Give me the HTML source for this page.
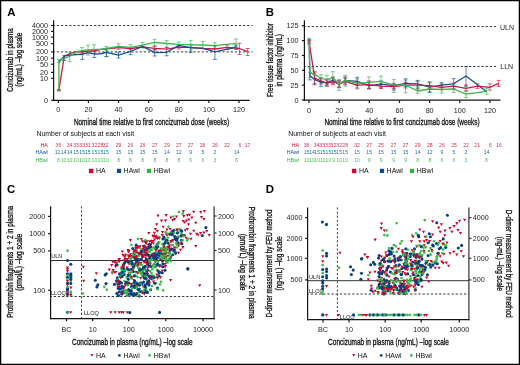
<!DOCTYPE html>
<html><head><meta charset="utf-8"><style>
html,body{margin:0;padding:0;background:#fff;overflow:hidden;width:520px;height:365px;}
svg{display:block;will-change:transform;}
text{font-family:"Liberation Sans",sans-serif;}
</style></head><body>
<svg width="520" height="365" viewBox="0 0 520 365">
<rect width="520" height="365" fill="#fff"/>
<rect x="0.6" y="0.6" width="518.8" height="363.8" fill="none" stroke="#000" stroke-width="1.3"/>
<text x="7.20" y="15.70" font-size="11.4" text-anchor="start" fill="#000" font-weight="bold" >A</text>
<text x="265.80" y="15.70" font-size="11.4" text-anchor="start" fill="#000" font-weight="bold" >B</text>
<text x="7.00" y="193.00" font-size="11.4" text-anchor="start" fill="#000" font-weight="bold" >C</text>
<text x="265.80" y="192.80" font-size="11.4" text-anchor="start" fill="#000" font-weight="bold" >D</text>
<line x1="51.10" y1="25.50" x2="53.60" y2="25.50" stroke="#141414" stroke-width="1.2" />
<text x="48.00" y="28.08" font-size="7.2" text-anchor="end" fill="#1e1e1e" font-weight="normal" >4000</text>
<line x1="51.10" y1="31.40" x2="53.60" y2="31.40" stroke="#141414" stroke-width="1.2" />
<text x="48.00" y="33.98" font-size="7.2" text-anchor="end" fill="#1e1e1e" font-weight="normal" >2000</text>
<line x1="51.10" y1="37.20" x2="53.60" y2="37.20" stroke="#141414" stroke-width="1.2" />
<text x="48.00" y="39.78" font-size="7.2" text-anchor="end" fill="#1e1e1e" font-weight="normal" >1000</text>
<line x1="51.10" y1="43.70" x2="53.60" y2="43.70" stroke="#141414" stroke-width="1.2" />
<text x="48.00" y="46.28" font-size="7.2" text-anchor="end" fill="#1e1e1e" font-weight="normal" >500</text>
<line x1="51.10" y1="51.90" x2="53.60" y2="51.90" stroke="#141414" stroke-width="1.2" />
<text x="48.00" y="54.48" font-size="7.2" text-anchor="end" fill="#1e1e1e" font-weight="normal" >200</text>
<line x1="51.10" y1="58.20" x2="53.60" y2="58.20" stroke="#141414" stroke-width="1.2" />
<text x="48.00" y="60.78" font-size="7.2" text-anchor="end" fill="#1e1e1e" font-weight="normal" >100</text>
<line x1="51.10" y1="64.20" x2="53.60" y2="64.20" stroke="#141414" stroke-width="1.2" />
<text x="48.00" y="66.78" font-size="7.2" text-anchor="end" fill="#1e1e1e" font-weight="normal" >50</text>
<line x1="51.10" y1="72.40" x2="53.60" y2="72.40" stroke="#141414" stroke-width="1.2" />
<text x="48.00" y="74.98" font-size="7.2" text-anchor="end" fill="#1e1e1e" font-weight="normal" >20</text>
<line x1="51.10" y1="78.30" x2="53.60" y2="78.30" stroke="#141414" stroke-width="1.2" />
<text x="48.00" y="80.88" font-size="7.2" text-anchor="end" fill="#1e1e1e" font-weight="normal" >10</text>
<line x1="51.10" y1="100.30" x2="53.60" y2="100.30" stroke="#141414" stroke-width="1.2" />
<text x="48.00" y="102.88" font-size="7.2" text-anchor="end" fill="#1e1e1e" font-weight="normal" >0</text>
<line x1="53.60" y1="25.50" x2="252.70" y2="25.50" stroke="#383838" stroke-width="1.0" stroke-dasharray="2.25 1.89" stroke-dashoffset="0.95"/>
<line x1="53.60" y1="51.90" x2="252.70" y2="51.90" stroke="#383838" stroke-width="1.0" stroke-dasharray="2.25 1.89" stroke-dashoffset="0.95"/>
<line x1="53.60" y1="20.30" x2="53.60" y2="100.90" stroke="#141414" stroke-width="1.2" />
<line x1="53.00" y1="100.30" x2="249.60" y2="100.30" stroke="#141414" stroke-width="1.2" />
<line x1="58.30" y1="100.30" x2="58.30" y2="103.00" stroke="#141414" stroke-width="1.2" />
<text x="58.30" y="112.38" font-size="7.2" text-anchor="middle" fill="#1e1e1e" font-weight="normal" >0</text>
<line x1="88.42" y1="100.30" x2="88.42" y2="103.00" stroke="#141414" stroke-width="1.2" />
<text x="88.42" y="112.38" font-size="7.2" text-anchor="middle" fill="#1e1e1e" font-weight="normal" >20</text>
<line x1="118.54" y1="100.30" x2="118.54" y2="103.00" stroke="#141414" stroke-width="1.2" />
<text x="118.54" y="112.38" font-size="7.2" text-anchor="middle" fill="#1e1e1e" font-weight="normal" >40</text>
<line x1="148.66" y1="100.30" x2="148.66" y2="103.00" stroke="#141414" stroke-width="1.2" />
<text x="148.66" y="112.38" font-size="7.2" text-anchor="middle" fill="#1e1e1e" font-weight="normal" >60</text>
<line x1="178.78" y1="100.30" x2="178.78" y2="103.00" stroke="#141414" stroke-width="1.2" />
<text x="178.78" y="112.38" font-size="7.2" text-anchor="middle" fill="#1e1e1e" font-weight="normal" >80</text>
<line x1="208.90" y1="100.30" x2="208.90" y2="103.00" stroke="#141414" stroke-width="1.2" />
<text x="208.90" y="112.38" font-size="7.2" text-anchor="middle" fill="#1e1e1e" font-weight="normal" >100</text>
<line x1="239.02" y1="100.30" x2="239.02" y2="103.00" stroke="#141414" stroke-width="1.2" />
<text x="239.02" y="112.38" font-size="7.2" text-anchor="middle" fill="#1e1e1e" font-weight="normal" >120</text>
<text x="73.90" y="124.60" font-size="9.67" font-weight="normal" fill="#111" stroke="#111" stroke-width="0.32" text-anchor="start" textLength="155.30" lengthAdjust="spacingAndGlyphs">Nominal time relative to first concizumab dose (weeks)</text>
<text transform="translate(13.10,60.00) rotate(-90)" font-size="8.94" font-weight="normal" fill="#111" stroke="#111" stroke-width="0.32" text-anchor="middle" textLength="63.60" lengthAdjust="spacingAndGlyphs">Concizumab in plasma</text>
<text transform="translate(22.00,59.70) rotate(-90)" font-size="8.94" font-weight="normal" fill="#111" stroke="#111" stroke-width="0.32" text-anchor="middle" textLength="54.20" lengthAdjust="spacingAndGlyphs">(ng/mL) –log scale</text>
<line x1="301.90" y1="25.75" x2="304.40" y2="25.75" stroke="#141414" stroke-width="1.2" />
<text x="298.60" y="28.33" font-size="7.2" text-anchor="end" fill="#1e1e1e" font-weight="normal" >125</text>
<line x1="301.90" y1="40.60" x2="304.40" y2="40.60" stroke="#141414" stroke-width="1.2" />
<text x="298.60" y="43.18" font-size="7.2" text-anchor="end" fill="#1e1e1e" font-weight="normal" >100</text>
<line x1="301.90" y1="55.45" x2="304.40" y2="55.45" stroke="#141414" stroke-width="1.2" />
<text x="298.60" y="58.03" font-size="7.2" text-anchor="end" fill="#1e1e1e" font-weight="normal" >75</text>
<line x1="301.90" y1="70.30" x2="304.40" y2="70.30" stroke="#141414" stroke-width="1.2" />
<text x="298.60" y="72.88" font-size="7.2" text-anchor="end" fill="#1e1e1e" font-weight="normal" >50</text>
<line x1="301.90" y1="85.15" x2="304.40" y2="85.15" stroke="#141414" stroke-width="1.2" />
<text x="298.60" y="87.73" font-size="7.2" text-anchor="end" fill="#1e1e1e" font-weight="normal" >25</text>
<line x1="301.90" y1="100.00" x2="304.40" y2="100.00" stroke="#141414" stroke-width="1.2" />
<text x="298.60" y="102.58" font-size="7.2" text-anchor="end" fill="#1e1e1e" font-weight="normal" >0</text>
<line x1="304.40" y1="26.60" x2="496.00" y2="26.60" stroke="#383838" stroke-width="1.0" stroke-dasharray="2.25 1.89" stroke-dashoffset="0.95"/>
<line x1="304.40" y1="66.50" x2="496.00" y2="66.50" stroke="#383838" stroke-width="1.0" stroke-dasharray="2.25 1.89" stroke-dashoffset="0.95"/>
<text x="500.00" y="29.51" font-size="7.0" text-anchor="start" fill="#1e1e1e" font-weight="normal" >ULN</text>
<text x="500.30" y="68.71" font-size="7.0" text-anchor="start" fill="#1e1e1e" font-weight="normal" >LLN</text>
<line x1="304.40" y1="20.30" x2="304.40" y2="100.80" stroke="#141414" stroke-width="1.2" />
<line x1="303.80" y1="100.20" x2="500.40" y2="100.20" stroke="#141414" stroke-width="1.2" />
<line x1="309.00" y1="100.20" x2="309.00" y2="102.90" stroke="#141414" stroke-width="1.2" />
<text x="309.00" y="112.58" font-size="7.2" text-anchor="middle" fill="#1e1e1e" font-weight="normal" >0</text>
<line x1="339.16" y1="100.20" x2="339.16" y2="102.90" stroke="#141414" stroke-width="1.2" />
<text x="339.16" y="112.58" font-size="7.2" text-anchor="middle" fill="#1e1e1e" font-weight="normal" >20</text>
<line x1="369.32" y1="100.20" x2="369.32" y2="102.90" stroke="#141414" stroke-width="1.2" />
<text x="369.32" y="112.58" font-size="7.2" text-anchor="middle" fill="#1e1e1e" font-weight="normal" >40</text>
<line x1="399.48" y1="100.20" x2="399.48" y2="102.90" stroke="#141414" stroke-width="1.2" />
<text x="399.48" y="112.58" font-size="7.2" text-anchor="middle" fill="#1e1e1e" font-weight="normal" >60</text>
<line x1="429.64" y1="100.20" x2="429.64" y2="102.90" stroke="#141414" stroke-width="1.2" />
<text x="429.64" y="112.58" font-size="7.2" text-anchor="middle" fill="#1e1e1e" font-weight="normal" >80</text>
<line x1="459.80" y1="100.20" x2="459.80" y2="102.90" stroke="#141414" stroke-width="1.2" />
<text x="459.80" y="112.58" font-size="7.2" text-anchor="middle" fill="#1e1e1e" font-weight="normal" >100</text>
<line x1="489.96" y1="100.20" x2="489.96" y2="102.90" stroke="#141414" stroke-width="1.2" />
<text x="489.96" y="112.58" font-size="7.2" text-anchor="middle" fill="#1e1e1e" font-weight="normal" >120</text>
<text x="324.40" y="124.60" font-size="9.67" font-weight="normal" fill="#111" stroke="#111" stroke-width="0.32" text-anchor="start" textLength="155.30" lengthAdjust="spacingAndGlyphs">Nominal time relative to first concizumab dose (weeks)</text>
<text transform="translate(273.10,60.00) rotate(-90)" font-size="8.94" font-weight="normal" fill="#111" stroke="#111" stroke-width="0.32" text-anchor="middle" textLength="74.00" lengthAdjust="spacingAndGlyphs">Free tissue factor inhibitor</text>
<text transform="translate(282.30,60.30) rotate(-90)" font-size="8.94" font-weight="normal" fill="#111" stroke="#111" stroke-width="0.32" text-anchor="middle" textLength="52.60" lengthAdjust="spacingAndGlyphs">in plasma (ng/mL)</text>
<text x="36.50" y="136.30" font-size="6.9" text-anchor="start" fill="#111" font-weight="normal" >Number of subjects at each visit</text>
<text x="288.30" y="136.30" font-size="6.9" text-anchor="start" fill="#111" font-weight="normal" >Number of subjects at each visit</text>
<text x="47.80" y="146.90" font-size="5.3" text-anchor="end" fill="#d0022b" font-weight="normal" >HA</text>
<text x="47.80" y="154.30" font-size="5.3" text-anchor="end" fill="#0b4a8b" font-weight="normal" >HAwl</text>
<text x="47.80" y="161.60" font-size="5.3" text-anchor="end" fill="#2db53c" font-weight="normal" >HBwl</text>
<g opacity="0.85">
<text x="58.40" y="146.83" font-size="5.1" text-anchor="middle" fill="#d0022b" font-weight="normal" >36</text>
<text x="69.60" y="146.83" font-size="5.1" text-anchor="middle" fill="#d0022b" font-weight="normal" >34</text>
<text x="76.00" y="146.83" font-size="5.1" text-anchor="middle" fill="#d0022b" font-weight="normal" >33</text>
<text x="82.20" y="146.83" font-size="5.1" text-anchor="middle" fill="#d0022b" font-weight="normal" >33</text>
<text x="87.80" y="146.83" font-size="5.1" text-anchor="middle" fill="#d0022b" font-weight="normal" >31</text>
<text x="94.40" y="146.83" font-size="5.1" text-anchor="middle" fill="#d0022b" font-weight="normal" >32</text>
<text x="100.40" y="146.83" font-size="5.1" text-anchor="middle" fill="#d0022b" font-weight="normal" >28</text>
<text x="105.70" y="146.83" font-size="5.1" text-anchor="middle" fill="#d0022b" font-weight="normal" >32</text>
<text x="118.60" y="146.83" font-size="5.1" text-anchor="middle" fill="#d0022b" font-weight="normal" >29</text>
<text x="130.40" y="146.83" font-size="5.1" text-anchor="middle" fill="#d0022b" font-weight="normal" >26</text>
<text x="142.60" y="146.83" font-size="5.1" text-anchor="middle" fill="#d0022b" font-weight="normal" >26</text>
<text x="154.80" y="146.83" font-size="5.1" text-anchor="middle" fill="#d0022b" font-weight="normal" >27</text>
<text x="166.90" y="146.83" font-size="5.1" text-anchor="middle" fill="#d0022b" font-weight="normal" >29</text>
<text x="178.80" y="146.83" font-size="5.1" text-anchor="middle" fill="#d0022b" font-weight="normal" >27</text>
<text x="190.60" y="146.83" font-size="5.1" text-anchor="middle" fill="#d0022b" font-weight="normal" >27</text>
<text x="202.60" y="146.83" font-size="5.1" text-anchor="middle" fill="#d0022b" font-weight="normal" >26</text>
<text x="215.00" y="146.83" font-size="5.1" text-anchor="middle" fill="#d0022b" font-weight="normal" >26</text>
<text x="227.00" y="146.83" font-size="5.1" text-anchor="middle" fill="#d0022b" font-weight="normal" >22</text>
<text x="239.80" y="146.83" font-size="5.1" text-anchor="middle" fill="#d0022b" font-weight="normal" >6</text>
<text x="247.60" y="146.83" font-size="5.1" text-anchor="middle" fill="#d0022b" font-weight="normal" >17</text>
</g>
<g opacity="0.85">
<text x="57.60" y="154.23" font-size="5.1" text-anchor="middle" fill="#0b4a8b" font-weight="normal" >12</text>
<text x="63.80" y="154.23" font-size="5.1" text-anchor="middle" fill="#0b4a8b" font-weight="normal" >14</text>
<text x="69.60" y="154.23" font-size="5.1" text-anchor="middle" fill="#0b4a8b" font-weight="normal" >14</text>
<text x="76.00" y="154.23" font-size="5.1" text-anchor="middle" fill="#0b4a8b" font-weight="normal" >15</text>
<text x="82.20" y="154.23" font-size="5.1" text-anchor="middle" fill="#0b4a8b" font-weight="normal" >15</text>
<text x="87.80" y="154.23" font-size="5.1" text-anchor="middle" fill="#0b4a8b" font-weight="normal" >15</text>
<text x="94.40" y="154.23" font-size="5.1" text-anchor="middle" fill="#0b4a8b" font-weight="normal" >15</text>
<text x="100.40" y="154.23" font-size="5.1" text-anchor="middle" fill="#0b4a8b" font-weight="normal" >15</text>
<text x="105.90" y="154.23" font-size="5.1" text-anchor="middle" fill="#0b4a8b" font-weight="normal" >15</text>
<text x="118.60" y="154.23" font-size="5.1" text-anchor="middle" fill="#0b4a8b" font-weight="normal" >15</text>
<text x="130.40" y="154.23" font-size="5.1" text-anchor="middle" fill="#0b4a8b" font-weight="normal" >15</text>
<text x="142.60" y="154.23" font-size="5.1" text-anchor="middle" fill="#0b4a8b" font-weight="normal" >15</text>
<text x="154.80" y="154.23" font-size="5.1" text-anchor="middle" fill="#0b4a8b" font-weight="normal" >15</text>
<text x="166.90" y="154.23" font-size="5.1" text-anchor="middle" fill="#0b4a8b" font-weight="normal" >14</text>
<text x="178.80" y="154.23" font-size="5.1" text-anchor="middle" fill="#0b4a8b" font-weight="normal" >12</text>
<text x="190.60" y="154.23" font-size="5.1" text-anchor="middle" fill="#0b4a8b" font-weight="normal" >9</text>
<text x="202.90" y="154.23" font-size="5.1" text-anchor="middle" fill="#0b4a8b" font-weight="normal" >5</text>
<text x="215.00" y="154.23" font-size="5.1" text-anchor="middle" fill="#0b4a8b" font-weight="normal" >2</text>
<text x="236.80" y="154.23" font-size="5.1" text-anchor="middle" fill="#0b4a8b" font-weight="normal" >14</text>
</g>
<g opacity="0.85">
<text x="58.30" y="161.53" font-size="5.1" text-anchor="middle" fill="#2db53c" font-weight="normal" >8</text>
<text x="63.60" y="161.53" font-size="5.1" text-anchor="middle" fill="#2db53c" font-weight="normal" >10</text>
<text x="69.60" y="161.53" font-size="5.1" text-anchor="middle" fill="#2db53c" font-weight="normal" >10</text>
<text x="76.00" y="161.53" font-size="5.1" text-anchor="middle" fill="#2db53c" font-weight="normal" >10</text>
<text x="82.20" y="161.53" font-size="5.1" text-anchor="middle" fill="#2db53c" font-weight="normal" >10</text>
<text x="87.80" y="161.53" font-size="5.1" text-anchor="middle" fill="#2db53c" font-weight="normal" >10</text>
<text x="94.40" y="161.53" font-size="5.1" text-anchor="middle" fill="#2db53c" font-weight="normal" >10</text>
<text x="100.40" y="161.53" font-size="5.1" text-anchor="middle" fill="#2db53c" font-weight="normal" >10</text>
<text x="105.90" y="161.53" font-size="5.1" text-anchor="middle" fill="#2db53c" font-weight="normal" >10</text>
<text x="118.60" y="161.53" font-size="5.1" text-anchor="middle" fill="#2db53c" font-weight="normal" >8</text>
<text x="130.40" y="161.53" font-size="5.1" text-anchor="middle" fill="#2db53c" font-weight="normal" >8</text>
<text x="142.60" y="161.53" font-size="5.1" text-anchor="middle" fill="#2db53c" font-weight="normal" >8</text>
<text x="154.80" y="161.53" font-size="5.1" text-anchor="middle" fill="#2db53c" font-weight="normal" >8</text>
<text x="166.90" y="161.53" font-size="5.1" text-anchor="middle" fill="#2db53c" font-weight="normal" >8</text>
<text x="178.80" y="161.53" font-size="5.1" text-anchor="middle" fill="#2db53c" font-weight="normal" >8</text>
<text x="190.60" y="161.53" font-size="5.1" text-anchor="middle" fill="#2db53c" font-weight="normal" >6</text>
<text x="203.00" y="161.53" font-size="5.1" text-anchor="middle" fill="#2db53c" font-weight="normal" >6</text>
<text x="215.00" y="161.53" font-size="5.1" text-anchor="middle" fill="#2db53c" font-weight="normal" >3</text>
<text x="236.40" y="161.53" font-size="5.1" text-anchor="middle" fill="#2db53c" font-weight="normal" >8</text>
</g>
<text x="299.00" y="147.10" font-size="5.3" text-anchor="end" fill="#d0022b" font-weight="normal" >HA</text>
<text x="299.00" y="154.30" font-size="5.3" text-anchor="end" fill="#0b4a8b" font-weight="normal" >HAwl</text>
<text x="299.00" y="161.60" font-size="5.3" text-anchor="end" fill="#2db53c" font-weight="normal" >HBwl</text>
<g opacity="0.85">
<text x="306.60" y="147.03" font-size="5.1" text-anchor="middle" fill="#d0022b" font-weight="normal" >36</text>
<text x="316.70" y="147.03" font-size="5.1" text-anchor="middle" fill="#d0022b" font-weight="normal" >34</text>
<text x="322.20" y="147.03" font-size="5.1" text-anchor="middle" fill="#d0022b" font-weight="normal" >33</text>
<text x="327.90" y="147.03" font-size="5.1" text-anchor="middle" fill="#d0022b" font-weight="normal" >33</text>
<text x="333.40" y="147.03" font-size="5.1" text-anchor="middle" fill="#d0022b" font-weight="normal" >32</text>
<text x="339.20" y="147.03" font-size="5.1" text-anchor="middle" fill="#d0022b" font-weight="normal" >32</text>
<text x="345.20" y="147.03" font-size="5.1" text-anchor="middle" fill="#d0022b" font-weight="normal" >28</text>
<text x="357.10" y="147.03" font-size="5.1" text-anchor="middle" fill="#d0022b" font-weight="normal" >32</text>
<text x="369.20" y="147.03" font-size="5.1" text-anchor="middle" fill="#d0022b" font-weight="normal" >27</text>
<text x="381.10" y="147.03" font-size="5.1" text-anchor="middle" fill="#d0022b" font-weight="normal" >25</text>
<text x="393.60" y="147.03" font-size="5.1" text-anchor="middle" fill="#d0022b" font-weight="normal" >27</text>
<text x="405.60" y="147.03" font-size="5.1" text-anchor="middle" fill="#d0022b" font-weight="normal" >27</text>
<text x="417.70" y="147.03" font-size="5.1" text-anchor="middle" fill="#d0022b" font-weight="normal" >29</text>
<text x="429.80" y="147.03" font-size="5.1" text-anchor="middle" fill="#d0022b" font-weight="normal" >28</text>
<text x="441.90" y="147.03" font-size="5.1" text-anchor="middle" fill="#d0022b" font-weight="normal" >26</text>
<text x="454.00" y="147.03" font-size="5.1" text-anchor="middle" fill="#d0022b" font-weight="normal" >25</text>
<text x="466.00" y="147.03" font-size="5.1" text-anchor="middle" fill="#d0022b" font-weight="normal" >22</text>
<text x="477.20" y="147.03" font-size="5.1" text-anchor="middle" fill="#d0022b" font-weight="normal" >21</text>
<text x="490.30" y="147.03" font-size="5.1" text-anchor="middle" fill="#d0022b" font-weight="normal" >6</text>
<text x="499.10" y="147.03" font-size="5.1" text-anchor="middle" fill="#d0022b" font-weight="normal" >16</text>
</g>
<g opacity="0.85">
<text x="306.60" y="154.23" font-size="5.1" text-anchor="middle" fill="#0b4a8b" font-weight="normal" >15</text>
<text x="312.00" y="154.23" font-size="5.1" text-anchor="middle" fill="#0b4a8b" font-weight="normal" >14</text>
<text x="317.20" y="154.23" font-size="5.1" text-anchor="middle" fill="#0b4a8b" font-weight="normal" >15</text>
<text x="322.80" y="154.23" font-size="5.1" text-anchor="middle" fill="#0b4a8b" font-weight="normal" >15</text>
<text x="328.40" y="154.23" font-size="5.1" text-anchor="middle" fill="#0b4a8b" font-weight="normal" >15</text>
<text x="333.80" y="154.23" font-size="5.1" text-anchor="middle" fill="#0b4a8b" font-weight="normal" >15</text>
<text x="339.20" y="154.23" font-size="5.1" text-anchor="middle" fill="#0b4a8b" font-weight="normal" >15</text>
<text x="345.20" y="154.23" font-size="5.1" text-anchor="middle" fill="#0b4a8b" font-weight="normal" >15</text>
<text x="357.10" y="154.23" font-size="5.1" text-anchor="middle" fill="#0b4a8b" font-weight="normal" >15</text>
<text x="369.20" y="154.23" font-size="5.1" text-anchor="middle" fill="#0b4a8b" font-weight="normal" >15</text>
<text x="381.10" y="154.23" font-size="5.1" text-anchor="middle" fill="#0b4a8b" font-weight="normal" >15</text>
<text x="393.60" y="154.23" font-size="5.1" text-anchor="middle" fill="#0b4a8b" font-weight="normal" >15</text>
<text x="405.60" y="154.23" font-size="5.1" text-anchor="middle" fill="#0b4a8b" font-weight="normal" >15</text>
<text x="417.70" y="154.23" font-size="5.1" text-anchor="middle" fill="#0b4a8b" font-weight="normal" >14</text>
<text x="429.80" y="154.23" font-size="5.1" text-anchor="middle" fill="#0b4a8b" font-weight="normal" >12</text>
<text x="441.90" y="154.23" font-size="5.1" text-anchor="middle" fill="#0b4a8b" font-weight="normal" >9</text>
<text x="454.00" y="154.23" font-size="5.1" text-anchor="middle" fill="#0b4a8b" font-weight="normal" >5</text>
<text x="466.00" y="154.23" font-size="5.1" text-anchor="middle" fill="#0b4a8b" font-weight="normal" >2</text>
<text x="486.70" y="154.23" font-size="5.1" text-anchor="middle" fill="#0b4a8b" font-weight="normal" >14</text>
</g>
<g opacity="0.85">
<text x="306.60" y="161.53" font-size="5.1" text-anchor="middle" fill="#2db53c" font-weight="normal" >10</text>
<text x="312.00" y="161.53" font-size="5.1" text-anchor="middle" fill="#2db53c" font-weight="normal" >10</text>
<text x="317.20" y="161.53" font-size="5.1" text-anchor="middle" fill="#2db53c" font-weight="normal" >10</text>
<text x="322.80" y="161.53" font-size="5.1" text-anchor="middle" fill="#2db53c" font-weight="normal" >10</text>
<text x="328.40" y="161.53" font-size="5.1" text-anchor="middle" fill="#2db53c" font-weight="normal" >10</text>
<text x="333.60" y="161.53" font-size="5.1" text-anchor="middle" fill="#2db53c" font-weight="normal" >9</text>
<text x="339.20" y="161.53" font-size="5.1" text-anchor="middle" fill="#2db53c" font-weight="normal" >10</text>
<text x="345.20" y="161.53" font-size="5.1" text-anchor="middle" fill="#2db53c" font-weight="normal" >10</text>
<text x="357.10" y="161.53" font-size="5.1" text-anchor="middle" fill="#2db53c" font-weight="normal" >10</text>
<text x="369.20" y="161.53" font-size="5.1" text-anchor="middle" fill="#2db53c" font-weight="normal" >9</text>
<text x="381.10" y="161.53" font-size="5.1" text-anchor="middle" fill="#2db53c" font-weight="normal" >9</text>
<text x="393.60" y="161.53" font-size="5.1" text-anchor="middle" fill="#2db53c" font-weight="normal" >9</text>
<text x="405.60" y="161.53" font-size="5.1" text-anchor="middle" fill="#2db53c" font-weight="normal" >9</text>
<text x="417.70" y="161.53" font-size="5.1" text-anchor="middle" fill="#2db53c" font-weight="normal" >8</text>
<text x="429.80" y="161.53" font-size="5.1" text-anchor="middle" fill="#2db53c" font-weight="normal" >8</text>
<text x="441.90" y="161.53" font-size="5.1" text-anchor="middle" fill="#2db53c" font-weight="normal" >6</text>
<text x="454.00" y="161.53" font-size="5.1" text-anchor="middle" fill="#2db53c" font-weight="normal" >6</text>
<text x="466.00" y="161.53" font-size="5.1" text-anchor="middle" fill="#2db53c" font-weight="normal" >3</text>
<text x="486.40" y="161.53" font-size="5.1" text-anchor="middle" fill="#2db53c" font-weight="normal" >8</text>
</g>
<rect x="88.90" y="168.8" width="4.4" height="4.4" fill="#d0022b"/>
<text x="96.00" y="173.30" font-size="7.0" text-anchor="start" fill="#111" font-weight="normal" >HA</text>
<rect x="116.90" y="168.8" width="4.2" height="4.2" fill="#0b4a8b"/>
<text x="123.60" y="173.30" font-size="7.0" text-anchor="start" fill="#111" font-weight="normal" >HAwl</text>
<rect x="146.90" y="168.8" width="4.2" height="4.2" fill="#2db53c"/>
<text x="153.80" y="173.30" font-size="7.0" text-anchor="start" fill="#111" font-weight="normal" >HBwl</text>
<rect x="351.90" y="168.8" width="4.4" height="4.4" fill="#d0022b"/>
<text x="359.00" y="173.30" font-size="7.0" text-anchor="start" fill="#111" font-weight="normal" >HA</text>
<rect x="379.90" y="168.8" width="4.2" height="4.2" fill="#0b4a8b"/>
<text x="386.60" y="173.30" font-size="7.0" text-anchor="start" fill="#111" font-weight="normal" >HAwl</text>
<rect x="409.90" y="168.8" width="4.2" height="4.2" fill="#2db53c"/>
<text x="416.80" y="173.30" font-size="7.0" text-anchor="start" fill="#111" font-weight="normal" >HBwl</text>
<line x1="48.10" y1="216.40" x2="50.60" y2="216.40" stroke="#141414" stroke-width="1.2" />
<text x="45.30" y="218.98" font-size="7.2" text-anchor="end" fill="#1e1e1e" font-weight="normal" >2000</text>
<line x1="48.10" y1="233.60" x2="50.60" y2="233.60" stroke="#141414" stroke-width="1.2" />
<text x="45.30" y="236.18" font-size="7.2" text-anchor="end" fill="#1e1e1e" font-weight="normal" >1000</text>
<line x1="48.10" y1="250.90" x2="50.60" y2="250.90" stroke="#141414" stroke-width="1.2" />
<text x="45.30" y="253.48" font-size="7.2" text-anchor="end" fill="#1e1e1e" font-weight="normal" >500</text>
<line x1="48.10" y1="290.30" x2="50.60" y2="290.30" stroke="#141414" stroke-width="1.2" />
<text x="45.30" y="292.88" font-size="7.2" text-anchor="end" fill="#1e1e1e" font-weight="normal" >100</text>
<line x1="214.10" y1="216.00" x2="216.60" y2="216.00" stroke="#333" stroke-width="1.2" />
<text x="218.00" y="218.58" font-size="7.2" text-anchor="start" fill="#1e1e1e" font-weight="normal" >2000</text>
<line x1="214.10" y1="233.00" x2="216.60" y2="233.00" stroke="#333" stroke-width="1.2" />
<text x="218.00" y="235.58" font-size="7.2" text-anchor="start" fill="#1e1e1e" font-weight="normal" >1000</text>
<line x1="214.10" y1="250.50" x2="216.60" y2="250.50" stroke="#333" stroke-width="1.2" />
<text x="218.00" y="253.08" font-size="7.2" text-anchor="start" fill="#1e1e1e" font-weight="normal" >500</text>
<line x1="214.10" y1="290.00" x2="216.60" y2="290.00" stroke="#333" stroke-width="1.2" />
<text x="218.00" y="292.58" font-size="7.2" text-anchor="start" fill="#1e1e1e" font-weight="normal" >100</text>
<line x1="50.60" y1="260.50" x2="214.10" y2="260.50" stroke="#333" stroke-width="1.0" />
<line x1="50.60" y1="296.50" x2="214.10" y2="296.50" stroke="#383838" stroke-width="1.0" stroke-dasharray="2.25 1.89" stroke-dashoffset="0.95"/>
<line x1="81.50" y1="206.20" x2="81.50" y2="318.60" stroke="#383838" stroke-width="0.95" stroke-dasharray="2.2 1.9"/>
<text x="51.20" y="257.60" font-size="5.6" text-anchor="start" fill="#222" font-weight="normal" >ULN</text>
<text x="51.00" y="295.00" font-size="5.6" text-anchor="start" fill="#222" font-weight="normal" >LLOQ</text>
<text x="84.00" y="314.60" font-size="5.6" text-anchor="start" fill="#222" font-weight="normal" >LLOQ</text>
<line x1="50.60" y1="206.20" x2="50.60" y2="319.20" stroke="#141414" stroke-width="1.2" />
<line x1="214.10" y1="206.20" x2="214.10" y2="319.20" stroke="#333" stroke-width="1.2" />
<line x1="50.00" y1="318.60" x2="214.70" y2="318.60" stroke="#141414" stroke-width="1.2" />
<line x1="66.50" y1="318.60" x2="66.50" y2="321.30" stroke="#141414" stroke-width="1.2" />
<text x="66.50" y="331.78" font-size="7.2" text-anchor="middle" fill="#1e1e1e" font-weight="normal" >BC</text>
<line x1="92.70" y1="318.60" x2="92.70" y2="321.30" stroke="#141414" stroke-width="1.2" />
<text x="92.70" y="331.78" font-size="7.2" text-anchor="middle" fill="#1e1e1e" font-weight="normal" >10</text>
<line x1="128.70" y1="318.60" x2="128.70" y2="321.30" stroke="#141414" stroke-width="1.2" />
<text x="128.70" y="331.78" font-size="7.2" text-anchor="middle" fill="#1e1e1e" font-weight="normal" >100</text>
<line x1="165.80" y1="318.60" x2="165.80" y2="321.30" stroke="#141414" stroke-width="1.2" />
<text x="165.80" y="331.78" font-size="7.2" text-anchor="middle" fill="#1e1e1e" font-weight="normal" >1000</text>
<line x1="203.10" y1="318.60" x2="203.10" y2="321.30" stroke="#141414" stroke-width="1.2" />
<text x="203.10" y="331.78" font-size="7.2" text-anchor="middle" fill="#1e1e1e" font-weight="normal" >10000</text>
<text x="72.10" y="344.50" font-size="9.15" font-weight="normal" fill="#111" stroke="#111" stroke-width="0.32" text-anchor="start" textLength="120.50" lengthAdjust="spacingAndGlyphs">Concizumab in plasma (ng/mL) –log scale</text>
<text transform="translate(13.00,261.80) rotate(-90)" font-size="8.94" font-weight="normal" fill="#111" stroke="#111" stroke-width="0.32" text-anchor="middle" textLength="111.90" lengthAdjust="spacingAndGlyphs">Prothrombin fragments 1 + 2 in plasma</text>
<text transform="translate(22.30,262.20) rotate(-90)" font-size="8.94" font-weight="normal" fill="#111" stroke="#111" stroke-width="0.32" text-anchor="middle" textLength="57.00" lengthAdjust="spacingAndGlyphs">(pmol/L) –log scale</text>
<text transform="translate(249.30,262.70) rotate(90)" font-size="8.94" font-weight="normal" fill="#111" stroke="#111" stroke-width="0.32" text-anchor="middle" textLength="111.70" lengthAdjust="spacingAndGlyphs">Prothrombin fragments 1 + 2 in plasma</text>
<text transform="translate(240.30,262.20) rotate(90)" font-size="8.94" font-weight="normal" fill="#111" stroke="#111" stroke-width="0.32" text-anchor="middle" textLength="56.80" lengthAdjust="spacingAndGlyphs">(pmol/L) –log scale</text>
<line x1="305.10" y1="217.60" x2="307.60" y2="217.60" stroke="#141414" stroke-width="1.2" />
<text x="302.60" y="220.18" font-size="7.2" text-anchor="end" fill="#1e1e1e" font-weight="normal" >4000</text>
<line x1="468.90" y1="217.60" x2="471.40" y2="217.60" stroke="#333" stroke-width="1.2" />
<text x="472.80" y="220.18" font-size="7.2" text-anchor="start" fill="#1e1e1e" font-weight="normal" >4000</text>
<line x1="305.10" y1="238.40" x2="307.60" y2="238.40" stroke="#141414" stroke-width="1.2" />
<text x="302.60" y="240.98" font-size="7.2" text-anchor="end" fill="#1e1e1e" font-weight="normal" >2000</text>
<line x1="468.90" y1="238.40" x2="471.40" y2="238.40" stroke="#333" stroke-width="1.2" />
<text x="472.80" y="240.98" font-size="7.2" text-anchor="start" fill="#1e1e1e" font-weight="normal" >2000</text>
<line x1="305.10" y1="258.30" x2="307.60" y2="258.30" stroke="#141414" stroke-width="1.2" />
<text x="302.60" y="260.88" font-size="7.2" text-anchor="end" fill="#1e1e1e" font-weight="normal" >1000</text>
<line x1="468.90" y1="258.30" x2="471.40" y2="258.30" stroke="#333" stroke-width="1.2" />
<text x="472.80" y="260.88" font-size="7.2" text-anchor="start" fill="#1e1e1e" font-weight="normal" >1000</text>
<line x1="305.10" y1="279.90" x2="307.60" y2="279.90" stroke="#141414" stroke-width="1.2" />
<text x="302.60" y="282.48" font-size="7.2" text-anchor="end" fill="#1e1e1e" font-weight="normal" >500</text>
<line x1="468.90" y1="279.90" x2="471.40" y2="279.90" stroke="#333" stroke-width="1.2" />
<text x="472.80" y="282.48" font-size="7.2" text-anchor="start" fill="#1e1e1e" font-weight="normal" >500</text>
<line x1="307.60" y1="280.70" x2="468.90" y2="280.70" stroke="#333" stroke-width="1.0" />
<line x1="307.60" y1="294.00" x2="468.90" y2="294.00" stroke="#383838" stroke-width="1.0" stroke-dasharray="2.25 1.89" stroke-dashoffset="0.95"/>
<line x1="337.40" y1="207.40" x2="337.40" y2="319.70" stroke="#383838" stroke-width="0.95" stroke-dasharray="2.2 1.9"/>
<text x="309.00" y="279.30" font-size="5.6" text-anchor="start" fill="#222" font-weight="normal" >ULN</text>
<text x="309.00" y="293.10" font-size="5.6" text-anchor="start" fill="#222" font-weight="normal" >LLOQ</text>
<text x="339.80" y="318.70" font-size="5.6" text-anchor="start" fill="#222" font-weight="normal" >LLOQ</text>
<line x1="307.60" y1="207.40" x2="307.60" y2="320.30" stroke="#141414" stroke-width="1.2" />
<line x1="468.90" y1="207.40" x2="468.90" y2="320.30" stroke="#333" stroke-width="1.2" />
<line x1="307.00" y1="319.70" x2="469.50" y2="319.70" stroke="#141414" stroke-width="1.2" />
<line x1="323.00" y1="319.70" x2="323.00" y2="322.40" stroke="#141414" stroke-width="1.2" />
<text x="323.00" y="331.78" font-size="7.2" text-anchor="middle" fill="#1e1e1e" font-weight="normal" >BC</text>
<line x1="349.00" y1="319.70" x2="349.00" y2="322.40" stroke="#141414" stroke-width="1.2" />
<text x="349.00" y="331.78" font-size="7.2" text-anchor="middle" fill="#1e1e1e" font-weight="normal" >10</text>
<line x1="385.20" y1="319.70" x2="385.20" y2="322.40" stroke="#141414" stroke-width="1.2" />
<text x="385.20" y="331.78" font-size="7.2" text-anchor="middle" fill="#1e1e1e" font-weight="normal" >100</text>
<line x1="421.20" y1="319.70" x2="421.20" y2="322.40" stroke="#141414" stroke-width="1.2" />
<text x="421.20" y="331.78" font-size="7.2" text-anchor="middle" fill="#1e1e1e" font-weight="normal" >1000</text>
<line x1="459.30" y1="319.70" x2="459.30" y2="322.40" stroke="#141414" stroke-width="1.2" />
<text x="459.30" y="331.78" font-size="7.2" text-anchor="middle" fill="#1e1e1e" font-weight="normal" >10000</text>
<text x="328.10" y="344.50" font-size="9.15" font-weight="normal" fill="#111" stroke="#111" stroke-width="0.32" text-anchor="start" textLength="120.70" lengthAdjust="spacingAndGlyphs">Concizumab in plasma (ng/mL) –log scale</text>
<text transform="translate(272.30,263.50) rotate(-90)" font-size="8.94" font-weight="normal" fill="#111" stroke="#111" stroke-width="0.32" text-anchor="middle" textLength="108.10" lengthAdjust="spacingAndGlyphs">D-dimer measurement by FEU method</text>
<text transform="translate(281.70,263.50) rotate(-90)" font-size="8.94" font-weight="normal" fill="#111" stroke="#111" stroke-width="0.32" text-anchor="middle" textLength="54.00" lengthAdjust="spacingAndGlyphs">(ng-mL) –log scale</text>
<text transform="translate(506.40,263.60) rotate(90)" font-size="8.94" font-weight="normal" fill="#111" stroke="#111" stroke-width="0.32" text-anchor="middle" textLength="107.60" lengthAdjust="spacingAndGlyphs">D-dimer measurement by FEU method</text>
<text transform="translate(497.40,263.80) rotate(90)" font-size="8.94" font-weight="normal" fill="#111" stroke="#111" stroke-width="0.32" text-anchor="middle" textLength="54.20" lengthAdjust="spacingAndGlyphs">(ng-mL) –log scale</text>
<path d="M90.40,354.10 L93.40,354.10 L91.90,356.80 Z" fill="#d0022b"/>
<text x="96.00" y="357.80" font-size="7.0" text-anchor="start" fill="#111" font-weight="normal" >HA</text>
<circle cx="119.40" cy="355.40" r="1.4" fill="#0b4a8b"/>
<text x="123.50" y="357.80" font-size="7.0" text-anchor="start" fill="#111" font-weight="normal" >HAwl</text>
<path d="M148.20,355.30h2.80M149.60,353.90v2.80M148.62,354.32l1.96,1.96M150.58,354.32l-1.96,1.96" stroke="#2db53c" stroke-width="0.9"/>
<text x="153.70" y="357.80" font-size="7.0" text-anchor="start" fill="#111" font-weight="normal" >HBwl</text>
<path d="M352.20,354.10 L355.20,354.10 L353.70,356.80 Z" fill="#d0022b"/>
<text x="357.80" y="357.80" font-size="7.0" text-anchor="start" fill="#111" font-weight="normal" >HA</text>
<circle cx="381.20" cy="355.40" r="1.4" fill="#0b4a8b"/>
<text x="385.30" y="357.80" font-size="7.0" text-anchor="start" fill="#111" font-weight="normal" >HAwl</text>
<path d="M410.00,355.30h2.80M411.40,353.90v2.80M410.42,354.32l1.96,1.96M412.38,354.32l-1.96,1.96" stroke="#2db53c" stroke-width="0.9"/>
<text x="415.50" y="357.80" font-size="7.0" text-anchor="start" fill="#111" font-weight="normal" >HBwl</text>
<path d="M58.90,89.40V91.00M56.90,89.40h4.0M56.90,91.00h4.0" stroke="#3cb54a" stroke-width="0.8" fill="none" opacity="0.85"/>
<path d="M58.90,59.50V62.30M56.90,59.50h4.0M56.90,62.30h4.0" stroke="#3cb54a" stroke-width="0.8" fill="none" opacity="0.85"/>
<path d="M69.60,52.30V61.60M67.60,52.30h4.0M67.60,61.60h4.0" stroke="#3cb54a" stroke-width="0.8" fill="none" opacity="0.85"/>
<path d="M82.00,47.60V53.50M80.00,47.60h4.0M80.00,53.50h4.0" stroke="#3cb54a" stroke-width="0.8" fill="none" opacity="0.85"/>
<path d="M88.00,45.20V55.10M86.00,45.20h4.0M86.00,55.10h4.0" stroke="#3cb54a" stroke-width="0.8" fill="none" opacity="0.85"/>
<path d="M94.10,44.80V53.50M92.10,44.80h4.0M92.10,53.50h4.0" stroke="#3cb54a" stroke-width="0.8" fill="none" opacity="0.85"/>
<path d="M106.20,46.50V56.60M104.20,46.50h4.0M104.20,56.60h4.0" stroke="#3cb54a" stroke-width="0.8" fill="none" opacity="0.85"/>
<path d="M118.50,43.80V49.50M116.50,43.80h4.0M116.50,49.50h4.0" stroke="#3cb54a" stroke-width="0.8" fill="none" opacity="0.85"/>
<path d="M130.60,44.60V50.00M128.60,44.60h4.0M128.60,50.00h4.0" stroke="#3cb54a" stroke-width="0.8" fill="none" opacity="0.85"/>
<path d="M142.60,42.50V48.00M140.60,42.50h4.0M140.60,48.00h4.0" stroke="#3cb54a" stroke-width="0.8" fill="none" opacity="0.85"/>
<path d="M154.50,39.30V45.90M152.50,39.30h4.0M152.50,45.90h4.0" stroke="#3cb54a" stroke-width="0.8" fill="none" opacity="0.85"/>
<path d="M166.80,40.60V47.30M164.80,40.60h4.0M164.80,47.30h4.0" stroke="#3cb54a" stroke-width="0.8" fill="none" opacity="0.85"/>
<path d="M178.80,42.00V47.00M176.80,42.00h4.0M176.80,47.00h4.0" stroke="#3cb54a" stroke-width="0.8" fill="none" opacity="0.85"/>
<path d="M190.80,40.40V50.20M188.80,40.40h4.0M188.80,50.20h4.0" stroke="#3cb54a" stroke-width="0.8" fill="none" opacity="0.85"/>
<path d="M202.80,41.50V48.50M200.80,41.50h4.0M200.80,48.50h4.0" stroke="#3cb54a" stroke-width="0.8" fill="none" opacity="0.85"/>
<path d="M214.80,42.70V48.50M212.80,42.70h4.0M212.80,48.50h4.0" stroke="#3cb54a" stroke-width="0.8" fill="none" opacity="0.85"/>
<path d="M236.10,39.00V47.00M234.10,39.00h4.0M234.10,47.00h4.0" stroke="#3cb54a" stroke-width="0.8" fill="none" opacity="0.85"/>
<path d="M64.30,55.40V60.50M62.30,55.40h4.0M62.30,60.50h4.0" stroke="#1a4f8f" stroke-width="0.8" fill="none" opacity="0.85"/>
<path d="M82.40,51.00V59.40M80.40,51.00h4.0M80.40,59.40h4.0" stroke="#1a4f8f" stroke-width="0.8" fill="none" opacity="0.85"/>
<path d="M94.40,51.00V57.50M92.40,51.00h4.0M92.40,57.50h4.0" stroke="#1a4f8f" stroke-width="0.8" fill="none" opacity="0.85"/>
<path d="M106.50,50.00V56.60M104.50,50.00h4.0M104.50,56.60h4.0" stroke="#1a4f8f" stroke-width="0.8" fill="none" opacity="0.85"/>
<path d="M118.50,52.00V58.00M116.50,52.00h4.0M116.50,58.00h4.0" stroke="#1a4f8f" stroke-width="0.8" fill="none" opacity="0.85"/>
<path d="M130.60,49.00V54.70M128.60,49.00h4.0M128.60,54.70h4.0" stroke="#1a4f8f" stroke-width="0.8" fill="none" opacity="0.85"/>
<path d="M154.70,49.70V56.00M152.70,49.70h4.0M152.70,56.00h4.0" stroke="#1a4f8f" stroke-width="0.8" fill="none" opacity="0.85"/>
<path d="M166.70,47.30V55.80M164.70,47.30h4.0M164.70,55.80h4.0" stroke="#1a4f8f" stroke-width="0.8" fill="none" opacity="0.85"/>
<path d="M190.80,44.40V52.60M188.80,44.40h4.0M188.80,52.60h4.0" stroke="#1a4f8f" stroke-width="0.8" fill="none" opacity="0.85"/>
<path d="M214.90,46.10V59.40M212.90,46.10h4.0M212.90,59.40h4.0" stroke="#1a4f8f" stroke-width="0.8" fill="none" opacity="0.85"/>
<path d="M236.10,45.00V49.50M234.10,45.00h4.0M234.10,49.50h4.0" stroke="#1a4f8f" stroke-width="0.8" fill="none" opacity="0.85"/>
<path d="M58.90,89.60V90.80M56.90,89.60h4.0M56.90,90.80h4.0" stroke="#d2163f" stroke-width="0.8" fill="none" opacity="0.85"/>
<path d="M227.00,45.00V49.50M225.00,45.00h4.0M225.00,49.50h4.0" stroke="#d2163f" stroke-width="0.8" fill="none" opacity="0.85"/>
<path d="M239.40,43.30V54.50M237.40,43.30h4.0M237.40,54.50h4.0" stroke="#d2163f" stroke-width="0.8" fill="none" opacity="0.85"/>
<path d="M247.70,48.50V55.60M245.70,48.50h4.0M245.70,55.60h4.0" stroke="#d2163f" stroke-width="0.8" fill="none" opacity="0.85"/>
<path d="M178.80,45.50V49.00M176.80,45.50h4.0M176.80,49.00h4.0" stroke="#d2163f" stroke-width="0.8" fill="none" opacity="0.85"/>
<path d="M154.70,46.50V50.00M152.70,46.50h4.0M152.70,50.00h4.0" stroke="#d2163f" stroke-width="0.8" fill="none" opacity="0.85"/>
<path d="M58.90,90.20 L64.30,56.00 L70.30,53.50 L76.40,51.50 L82.40,52.00 L88.40,51.00 L94.40,51.00 L100.50,49.40 L106.50,48.80 L118.50,47.50 L130.60,48.50 L142.60,47.00 L154.70,48.30 L166.70,49.20 L178.80,47.10 L190.80,47.30 L202.90,48.50 L214.90,49.00 L227.00,47.30 L239.40,48.50 L247.70,51.70" fill="none" stroke="#d2163f" stroke-width="1.3" stroke-linejoin="round"/>
<path d="M58.90,62.00 L64.30,56.20 L70.30,55.00 L76.40,54.50 L82.40,54.40 L88.40,52.70 L94.40,54.10 L100.50,53.75 L106.50,52.40 L118.50,55.20 L130.60,51.50 L142.60,46.30 L154.70,52.60 L166.70,52.30 L178.80,45.40 L190.80,47.80 L202.90,48.20 L214.90,51.90 L236.10,47.10" fill="none" stroke="#1a4f8f" stroke-width="1.3" stroke-linejoin="round"/>
<path d="M58.90,90.20 L58.90,60.20 L69.60,56.50 L76.30,52.00 L81.80,50.70 L87.90,49.80 L94.10,49.30 L100.40,49.40 L106.20,48.50 L118.50,46.50 L130.60,47.30 L142.60,45.10 L154.50,42.30 L166.80,43.50 L178.80,44.40 L190.80,44.90 L202.80,45.00 L214.80,45.60 L236.10,43.30" fill="none" stroke="#3cb54a" stroke-width="1.3" stroke-linejoin="round"/>
<path d="M309.20,38.20V44.00M307.20,38.20h4.0M307.20,44.00h4.0" stroke="#3cb54a" stroke-width="0.8" fill="none" opacity="0.85"/>
<path d="M309.80,67.90V77.50M307.80,67.90h4.0M307.80,77.50h4.0" stroke="#3cb54a" stroke-width="0.8" fill="none" opacity="0.85"/>
<path d="M314.60,71.30V79.90M312.60,71.30h4.0M312.60,79.90h4.0" stroke="#3cb54a" stroke-width="0.8" fill="none" opacity="0.85"/>
<path d="M320.90,74.60V81.40M318.90,74.60h4.0M318.90,81.40h4.0" stroke="#3cb54a" stroke-width="0.8" fill="none" opacity="0.85"/>
<path d="M326.90,75.10V86.30M324.90,75.10h4.0M324.90,86.30h4.0" stroke="#3cb54a" stroke-width="0.8" fill="none" opacity="0.85"/>
<path d="M332.90,71.70V83.30M330.90,71.70h4.0M330.90,83.30h4.0" stroke="#3cb54a" stroke-width="0.8" fill="none" opacity="0.85"/>
<path d="M339.10,79.40V90.50M337.10,79.40h4.0M337.10,90.50h4.0" stroke="#3cb54a" stroke-width="0.8" fill="none" opacity="0.85"/>
<path d="M345.20,75.40V86.20M343.20,75.40h4.0M343.20,86.20h4.0" stroke="#3cb54a" stroke-width="0.8" fill="none" opacity="0.85"/>
<path d="M357.20,78.90V89.00M355.20,78.90h4.0M355.20,89.00h4.0" stroke="#3cb54a" stroke-width="0.8" fill="none" opacity="0.85"/>
<path d="M369.00,77.00V88.10M367.00,77.00h4.0M367.00,88.10h4.0" stroke="#3cb54a" stroke-width="0.8" fill="none" opacity="0.85"/>
<path d="M381.00,76.10V88.00M379.00,76.10h4.0M379.00,88.00h4.0" stroke="#3cb54a" stroke-width="0.8" fill="none" opacity="0.85"/>
<path d="M393.80,79.40V92.40M391.80,79.40h4.0M391.80,92.40h4.0" stroke="#3cb54a" stroke-width="0.8" fill="none" opacity="0.85"/>
<path d="M405.60,78.50V92.90M403.60,78.50h4.0M403.60,92.90h4.0" stroke="#3cb54a" stroke-width="0.8" fill="none" opacity="0.85"/>
<path d="M417.60,88.60V93.40M415.60,88.60h4.0M415.60,93.40h4.0" stroke="#3cb54a" stroke-width="0.8" fill="none" opacity="0.85"/>
<path d="M429.60,86.00V92.00M427.60,86.00h4.0M427.60,92.00h4.0" stroke="#3cb54a" stroke-width="0.8" fill="none" opacity="0.85"/>
<path d="M441.70,86.00V93.00M439.70,86.00h4.0M439.70,93.00h4.0" stroke="#3cb54a" stroke-width="0.8" fill="none" opacity="0.85"/>
<path d="M453.60,86.00V92.50M451.60,86.00h4.0M451.60,92.50h4.0" stroke="#3cb54a" stroke-width="0.8" fill="none" opacity="0.85"/>
<path d="M466.00,90.80V97.60M464.00,90.80h4.0M464.00,97.60h4.0" stroke="#3cb54a" stroke-width="0.8" fill="none" opacity="0.85"/>
<path d="M486.70,88.40V94.20M484.70,88.40h4.0M484.70,94.20h4.0" stroke="#3cb54a" stroke-width="0.8" fill="none" opacity="0.85"/>
<path d="M309.20,39.40V43.10M307.20,39.40h4.0M307.20,43.10h4.0" stroke="#1a4f8f" stroke-width="0.8" fill="none" opacity="0.85"/>
<path d="M309.80,72.20V79.90M307.80,72.20h4.0M307.80,79.90h4.0" stroke="#1a4f8f" stroke-width="0.8" fill="none" opacity="0.85"/>
<path d="M314.60,74.00V84.70M312.60,74.00h4.0M312.60,84.70h4.0" stroke="#1a4f8f" stroke-width="0.8" fill="none" opacity="0.85"/>
<path d="M320.90,78.30V86.30M318.90,78.30h4.0M318.90,86.30h4.0" stroke="#1a4f8f" stroke-width="0.8" fill="none" opacity="0.85"/>
<path d="M326.90,79.00V85.00M324.90,79.00h4.0M324.90,85.00h4.0" stroke="#1a4f8f" stroke-width="0.8" fill="none" opacity="0.85"/>
<path d="M332.90,77.00V83.00M330.90,77.00h4.0M330.90,83.00h4.0" stroke="#1a4f8f" stroke-width="0.8" fill="none" opacity="0.85"/>
<path d="M339.10,80.80V87.60M337.10,80.80h4.0M337.10,87.60h4.0" stroke="#1a4f8f" stroke-width="0.8" fill="none" opacity="0.85"/>
<path d="M345.20,77.00V83.00M343.20,77.00h4.0M343.20,83.00h4.0" stroke="#1a4f8f" stroke-width="0.8" fill="none" opacity="0.85"/>
<path d="M357.20,77.30V85.30M355.20,77.30h4.0M355.20,85.30h4.0" stroke="#1a4f8f" stroke-width="0.8" fill="none" opacity="0.85"/>
<path d="M369.00,82.00V89.00M367.00,82.00h4.0M367.00,89.00h4.0" stroke="#1a4f8f" stroke-width="0.8" fill="none" opacity="0.85"/>
<path d="M381.00,81.00V87.00M379.00,81.00h4.0M379.00,87.00h4.0" stroke="#1a4f8f" stroke-width="0.8" fill="none" opacity="0.85"/>
<path d="M393.80,83.30V90.00M391.80,83.30h4.0M391.80,90.00h4.0" stroke="#1a4f8f" stroke-width="0.8" fill="none" opacity="0.85"/>
<path d="M405.60,79.90V86.70M403.60,79.90h4.0M403.60,86.70h4.0" stroke="#1a4f8f" stroke-width="0.8" fill="none" opacity="0.85"/>
<path d="M417.60,80.40V87.10M415.60,80.40h4.0M415.60,87.10h4.0" stroke="#1a4f8f" stroke-width="0.8" fill="none" opacity="0.85"/>
<path d="M429.60,81.80V92.40M427.60,81.80h4.0M427.60,92.40h4.0" stroke="#1a4f8f" stroke-width="0.8" fill="none" opacity="0.85"/>
<path d="M441.70,82.70V87.70M439.70,82.70h4.0M439.70,87.70h4.0" stroke="#1a4f8f" stroke-width="0.8" fill="none" opacity="0.85"/>
<path d="M453.60,78.60V89.00M451.60,78.60h4.0M451.60,89.00h4.0" stroke="#1a4f8f" stroke-width="0.8" fill="none" opacity="0.85"/>
<path d="M466.00,66.50V86.10M464.00,66.50h4.0M464.00,86.10h4.0" stroke="#1a4f8f" stroke-width="0.8" fill="none" opacity="0.85"/>
<path d="M309.20,40.50V41.80M307.20,40.50h4.0M307.20,41.80h4.0" stroke="#d2163f" stroke-width="0.8" fill="none" opacity="0.85"/>
<path d="M314.60,72.00V83.80M312.60,72.00h4.0M312.60,83.80h4.0" stroke="#d2163f" stroke-width="0.8" fill="none" opacity="0.85"/>
<path d="M320.90,78.00V84.00M318.90,78.00h4.0M318.90,84.00h4.0" stroke="#d2163f" stroke-width="0.8" fill="none" opacity="0.85"/>
<path d="M326.90,80.00V86.00M324.90,80.00h4.0M324.90,86.00h4.0" stroke="#d2163f" stroke-width="0.8" fill="none" opacity="0.85"/>
<path d="M332.90,78.00V84.70M330.90,78.00h4.0M330.90,84.70h4.0" stroke="#d2163f" stroke-width="0.8" fill="none" opacity="0.85"/>
<path d="M339.10,81.00V87.00M337.10,81.00h4.0M337.10,87.00h4.0" stroke="#d2163f" stroke-width="0.8" fill="none" opacity="0.85"/>
<path d="M345.20,78.00V84.70M343.20,78.00h4.0M343.20,84.70h4.0" stroke="#d2163f" stroke-width="0.8" fill="none" opacity="0.85"/>
<path d="M357.20,82.00V88.00M355.20,82.00h4.0M355.20,88.00h4.0" stroke="#d2163f" stroke-width="0.8" fill="none" opacity="0.85"/>
<path d="M369.00,81.00V88.60M367.00,81.00h4.0M367.00,88.60h4.0" stroke="#d2163f" stroke-width="0.8" fill="none" opacity="0.85"/>
<path d="M381.00,84.00V88.60M379.00,84.00h4.0M379.00,88.60h4.0" stroke="#d2163f" stroke-width="0.8" fill="none" opacity="0.85"/>
<path d="M393.80,84.50V88.60M391.80,84.50h4.0M391.80,88.60h4.0" stroke="#d2163f" stroke-width="0.8" fill="none" opacity="0.85"/>
<path d="M405.60,82.30V88.00M403.60,82.30h4.0M403.60,88.00h4.0" stroke="#d2163f" stroke-width="0.8" fill="none" opacity="0.85"/>
<path d="M417.60,81.30V89.00M415.60,81.30h4.0M415.60,89.00h4.0" stroke="#d2163f" stroke-width="0.8" fill="none" opacity="0.85"/>
<path d="M429.60,82.80V88.60M427.60,82.80h4.0M427.60,88.60h4.0" stroke="#d2163f" stroke-width="0.8" fill="none" opacity="0.85"/>
<path d="M441.70,84.00V90.00M439.70,84.00h4.0M439.70,90.00h4.0" stroke="#d2163f" stroke-width="0.8" fill="none" opacity="0.85"/>
<path d="M453.60,83.00V89.00M451.60,83.00h4.0M451.60,89.00h4.0" stroke="#d2163f" stroke-width="0.8" fill="none" opacity="0.85"/>
<path d="M466.00,85.00V91.00M464.00,85.00h4.0M464.00,91.00h4.0" stroke="#d2163f" stroke-width="0.8" fill="none" opacity="0.85"/>
<path d="M477.50,83.80V88.40M475.50,83.80h4.0M475.50,88.40h4.0" stroke="#d2163f" stroke-width="0.8" fill="none" opacity="0.85"/>
<path d="M489.80,83.80V90.20M487.80,83.80h4.0M487.80,90.20h4.0" stroke="#d2163f" stroke-width="0.8" fill="none" opacity="0.85"/>
<path d="M498.60,80.40V86.40M496.60,80.40h4.0M496.60,86.40h4.0" stroke="#d2163f" stroke-width="0.8" fill="none" opacity="0.85"/>
<path d="M309.20,41.00 L309.80,75.60 L314.60,79.40 L320.90,82.30 L326.90,82.30 L332.90,80.40 L339.10,84.20 L345.20,80.40 L357.20,81.30 L369.00,85.70 L381.00,84.20 L393.80,85.70 L405.60,83.30 L417.60,83.80 L429.60,87.10 L441.70,85.20 L453.60,83.80 L466.00,76.00 L486.70,91.70" fill="none" stroke="#1a4f8f" stroke-width="1.3" stroke-linejoin="round"/>
<path d="M309.20,42.00 L314.60,78.00 L320.90,80.90 L326.90,83.30 L332.90,81.30 L339.10,84.20 L345.20,81.30 L357.20,85.20 L369.00,84.70 L381.00,86.20 L393.80,86.60 L405.60,85.20 L417.60,85.20 L429.60,85.70 L441.70,87.30 L453.60,86.10 L466.00,88.40 L477.50,86.10 L489.80,87.30 L498.60,83.30" fill="none" stroke="#d2163f" stroke-width="1.3" stroke-linejoin="round"/>
<path d="M309.20,41.00 L309.80,72.70 L314.60,74.60 L320.90,78.00 L326.90,80.20 L332.90,77.50 L339.10,84.20 L345.20,80.40 L357.20,83.30 L369.00,82.30 L381.00,81.30 L393.80,85.20 L405.60,85.20 L417.60,91.00 L429.60,89.00 L441.70,89.40 L453.60,89.00 L466.00,94.20 L486.70,91.30" fill="none" stroke="#3cb54a" stroke-width="1.3" stroke-linejoin="round"/>
<circle cx="175.2" cy="238.9" r="1.55" fill="#073f80"/>
<path d="M167.8,244.6h3.2l-1.6,2.8z" fill="#d0022b"/>
<path d="M404.2,268.3h2.6M405.5,267.0v2.6M404.5,267.4l1.9,1.9M406.4,267.4l-1.9,1.9" stroke="#34b845" stroke-width="0.95"/>
<path d="M404.0,292.9h3.2l-1.6,2.8z" fill="#d0022b"/>
<circle cx="382.6" cy="314.9" r="1.55" fill="#073f80"/>
<path d="M156.3,275.9h3.2l-1.6,2.8z" fill="#d0022b"/>
<path d="M167.2,258.9h2.6M168.5,257.6v2.6M167.5,258.0l1.9,1.9M169.4,258.0l-1.9,1.9" stroke="#34b845" stroke-width="0.95"/>
<path d="M383.0,285.7h3.2l-1.6,2.8z" fill="#d0022b"/>
<circle cx="136.8" cy="256.3" r="1.55" fill="#073f80"/>
<circle cx="133.3" cy="271.6" r="1.55" fill="#073f80"/>
<circle cx="391.0" cy="286.6" r="1.55" fill="#073f80"/>
<path d="M166.4,254.7h3.2l-1.6,2.8z" fill="#d0022b"/>
<path d="M171.5,248.2h3.2l-1.6,2.8z" fill="#d0022b"/>
<path d="M380.3,273.3h3.2l-1.6,2.8z" fill="#d0022b"/>
<circle cx="404.7" cy="264.2" r="1.55" fill="#073f80"/>
<path d="M458.9,231.9h3.2l-1.6,2.8z" fill="#d0022b"/>
<circle cx="162.5" cy="260.7" r="1.55" fill="#073f80"/>
<path d="M324.9,313.9h3.2l-1.6,2.8z" fill="#d0022b"/>
<circle cx="389.3" cy="254.5" r="1.55" fill="#073f80"/>
<circle cx="117.4" cy="277.9" r="1.55" fill="#073f80"/>
<circle cx="378.5" cy="258.1" r="1.55" fill="#073f80"/>
<circle cx="157.9" cy="246.8" r="1.55" fill="#073f80"/>
<path d="M166.6,237.6h2.6M167.9,236.3v2.6M167.0,236.6l1.9,1.9M168.9,236.6l-1.9,1.9" stroke="#34b845" stroke-width="0.95"/>
<path d="M69.2,286.6h3.2l-1.6,2.8z" fill="#d0022b"/>
<circle cx="144.3" cy="254.7" r="1.55" fill="#073f80"/>
<path d="M144.4,252.8h3.2l-1.6,2.8z" fill="#d0022b"/>
<circle cx="440.8" cy="247.6" r="1.55" fill="#073f80"/>
<circle cx="147.7" cy="263.9" r="1.55" fill="#073f80"/>
<circle cx="361.5" cy="259.0" r="1.55" fill="#073f80"/>
<path d="M149.0,271.2h2.6M150.3,269.9v2.6M149.3,270.3l1.9,1.9M151.2,270.3l-1.9,1.9" stroke="#34b845" stroke-width="0.95"/>
<path d="M455.2,253.5h3.2l-1.6,2.8z" fill="#d0022b"/>
<circle cx="414.5" cy="248.7" r="1.55" fill="#073f80"/>
<path d="M142.6,292.7h3.2l-1.6,2.8z" fill="#d0022b"/>
<circle cx="159.9" cy="265.5" r="1.55" fill="#073f80"/>
<circle cx="426.4" cy="262.6" r="1.55" fill="#073f80"/>
<path d="M145.5,263.2h3.2l-1.6,2.8z" fill="#d0022b"/>
<path d="M387.4,275.4h3.2l-1.6,2.8z" fill="#d0022b"/>
<circle cx="427.4" cy="274.7" r="1.55" fill="#073f80"/>
<path d="M112.7,261.0h3.2l-1.6,2.8z" fill="#d0022b"/>
<path d="M321.4,265.0h2.6M322.7,263.7v2.6M321.8,264.1l1.9,1.9M323.6,264.1l-1.9,1.9" stroke="#34b845" stroke-width="0.95"/>
<path d="M412.9,278.3h2.6M414.2,277.0v2.6M413.2,277.3l1.9,1.9M415.1,277.3l-1.9,1.9" stroke="#34b845" stroke-width="0.95"/>
<path d="M122.7,285.6h3.2l-1.6,2.8z" fill="#d0022b"/>
<path d="M409.2,284.6h3.2l-1.6,2.8z" fill="#d0022b"/>
<circle cx="445.7" cy="247.5" r="1.55" fill="#073f80"/>
<path d="M415.3,264.1h3.2l-1.6,2.8z" fill="#d0022b"/>
<path d="M132.5,267.9h2.6M133.8,266.6v2.6M132.8,266.9l1.9,1.9M134.7,266.9l-1.9,1.9" stroke="#34b845" stroke-width="0.95"/>
<path d="M127.2,289.9h3.2l-1.6,2.8z" fill="#d0022b"/>
<path d="M321.4,272.9h2.6M322.7,271.6v2.6M321.8,271.9l1.9,1.9M323.6,271.9l-1.9,1.9" stroke="#34b845" stroke-width="0.95"/>
<path d="M186.8,238.7h2.6M188.1,237.4v2.6M187.1,237.7l1.9,1.9M189.0,237.7l-1.9,1.9" stroke="#34b845" stroke-width="0.95"/>
<circle cx="141.9" cy="283.7" r="1.55" fill="#073f80"/>
<path d="M150.8,286.2h2.6M152.1,284.9v2.6M151.2,285.2l1.9,1.9M153.1,285.2l-1.9,1.9" stroke="#34b845" stroke-width="0.95"/>
<circle cx="143.0" cy="275.6" r="1.55" fill="#073f80"/>
<path d="M141.6,272.5h3.2l-1.6,2.8z" fill="#d0022b"/>
<path d="M114.2,271.0h3.2l-1.6,2.8z" fill="#d0022b"/>
<path d="M207.6,234.0h3.2l-1.6,2.8z" fill="#d0022b"/>
<circle cx="379.0" cy="286.2" r="1.55" fill="#073f80"/>
<circle cx="379.8" cy="268.2" r="1.55" fill="#073f80"/>
<path d="M116.8,287.0h2.6M118.1,285.7v2.6M117.1,286.0l1.9,1.9M119.0,286.0l-1.9,1.9" stroke="#34b845" stroke-width="0.95"/>
<path d="M115.1,281.6h2.6M116.4,280.3v2.6M115.5,280.6l1.9,1.9M117.4,280.6l-1.9,1.9" stroke="#34b845" stroke-width="0.95"/>
<circle cx="396.7" cy="288.0" r="1.55" fill="#073f80"/>
<path d="M415.8,279.9h2.6M417.1,278.6v2.6M416.2,278.9l1.9,1.9M418.1,278.9l-1.9,1.9" stroke="#34b845" stroke-width="0.95"/>
<circle cx="67.5" cy="288.5" r="1.55" fill="#073f80"/>
<circle cx="437.3" cy="263.7" r="1.55" fill="#073f80"/>
<circle cx="418.0" cy="262.9" r="1.55" fill="#073f80"/>
<path d="M136.4,273.0h2.6M137.7,271.7v2.6M136.8,272.1l1.9,1.9M138.7,272.1l-1.9,1.9" stroke="#34b845" stroke-width="0.95"/>
<circle cx="425.3" cy="267.5" r="1.55" fill="#073f80"/>
<path d="M424.9,313.9h3.2l-1.6,2.8z" fill="#d0022b"/>
<path d="M404.6,256.9h3.2l-1.6,2.8z" fill="#d0022b"/>
<path d="M431.6,262.3h2.6M432.9,261.0v2.6M431.9,261.4l1.9,1.9M433.8,261.4l-1.9,1.9" stroke="#34b845" stroke-width="0.95"/>
<path d="M398.3,281.1h3.2l-1.6,2.8z" fill="#d0022b"/>
<path d="M169.5,261.2h2.6M170.8,259.9v2.6M169.8,260.2l1.9,1.9M171.7,260.2l-1.9,1.9" stroke="#34b845" stroke-width="0.95"/>
<path d="M81.7,265.7h3.2l-1.6,2.8z" fill="#d0022b"/>
<path d="M452.4,225.1h3.2l-1.6,2.8z" fill="#d0022b"/>
<path d="M385.0,281.3h3.2l-1.6,2.8z" fill="#d0022b"/>
<path d="M423.5,220.1h2.6M424.8,218.8v2.6M423.8,219.1l1.9,1.9M425.7,219.1l-1.9,1.9" stroke="#34b845" stroke-width="0.95"/>
<path d="M127.2,279.8h2.6M128.5,278.5v2.6M127.5,278.8l1.9,1.9M129.4,278.8l-1.9,1.9" stroke="#34b845" stroke-width="0.95"/>
<path d="M164.6,251.7h3.2l-1.6,2.8z" fill="#d0022b"/>
<circle cx="174.4" cy="249.7" r="1.55" fill="#073f80"/>
<path d="M121.5,292.0h2.6M122.8,290.7v2.6M121.8,291.1l1.9,1.9M123.7,291.1l-1.9,1.9" stroke="#34b845" stroke-width="0.95"/>
<path d="M129.7,257.3h2.6M131.0,256.0v2.6M130.1,256.3l1.9,1.9M132.0,256.3l-1.9,1.9" stroke="#34b845" stroke-width="0.95"/>
<circle cx="386.8" cy="275.1" r="1.55" fill="#073f80"/>
<path d="M143.9,268.9h2.6M145.2,267.6v2.6M144.3,268.0l1.9,1.9M146.2,268.0l-1.9,1.9" stroke="#34b845" stroke-width="0.95"/>
<path d="M384.3,285.0h3.2l-1.6,2.8z" fill="#d0022b"/>
<path d="M177.2,243.6h2.6M178.5,242.3v2.6M177.6,242.6l1.9,1.9M179.5,242.6l-1.9,1.9" stroke="#34b845" stroke-width="0.95"/>
<path d="M153.8,248.7h3.2l-1.6,2.8z" fill="#d0022b"/>
<path d="M409.2,276.3h2.6M410.5,275.0v2.6M409.5,275.3l1.9,1.9M411.4,275.3l-1.9,1.9" stroke="#34b845" stroke-width="0.95"/>
<path d="M414.1,288.3h2.6M415.4,287.0v2.6M414.5,287.4l1.9,1.9M416.4,287.4l-1.9,1.9" stroke="#34b845" stroke-width="0.95"/>
<path d="M65.9,268.2h3.2l-1.6,2.8z" fill="#d0022b"/>
<path d="M405.8,281.9h2.6M407.1,280.6v2.6M406.1,280.9l1.9,1.9M408.0,280.9l-1.9,1.9" stroke="#34b845" stroke-width="0.95"/>
<path d="M409.9,240.2h3.2l-1.6,2.8z" fill="#d0022b"/>
<circle cx="415.4" cy="290.0" r="1.55" fill="#073f80"/>
<path d="M441.9,244.0h2.6M443.2,242.7v2.6M442.2,243.1l1.9,1.9M444.1,243.1l-1.9,1.9" stroke="#34b845" stroke-width="0.95"/>
<path d="M134.0,252.2h3.2l-1.6,2.8z" fill="#d0022b"/>
<circle cx="428.1" cy="255.5" r="1.55" fill="#073f80"/>
<path d="M157.6,242.7h2.6M158.9,241.4v2.6M158.0,241.8l1.9,1.9M159.9,241.8l-1.9,1.9" stroke="#34b845" stroke-width="0.95"/>
<path d="M419.8,251.0h2.6M421.1,249.7v2.6M420.2,250.1l1.9,1.9M422.1,250.1l-1.9,1.9" stroke="#34b845" stroke-width="0.95"/>
<path d="M128.4,274.8h2.6M129.7,273.5v2.6M128.7,273.8l1.9,1.9M130.6,273.8l-1.9,1.9" stroke="#34b845" stroke-width="0.95"/>
<path d="M398.9,281.7h2.6M400.2,280.4v2.6M399.2,280.8l1.9,1.9M401.1,280.8l-1.9,1.9" stroke="#34b845" stroke-width="0.95"/>
<circle cx="124.1" cy="274.6" r="1.55" fill="#073f80"/>
<path d="M441.9,249.5h2.6M443.2,248.2v2.6M442.2,248.5l1.9,1.9M444.1,248.5l-1.9,1.9" stroke="#34b845" stroke-width="0.95"/>
<path d="M448.4,226.9h3.2l-1.6,2.8z" fill="#d0022b"/>
<circle cx="144.1" cy="273.7" r="1.55" fill="#073f80"/>
<circle cx="131.5" cy="286.8" r="1.55" fill="#073f80"/>
<path d="M407.7,286.8h2.6M409.0,285.5v2.6M408.0,285.8l1.9,1.9M409.9,285.8l-1.9,1.9" stroke="#34b845" stroke-width="0.95"/>
<path d="M186.0,214.1h3.2l-1.6,2.8z" fill="#d0022b"/>
<circle cx="172.8" cy="254.7" r="1.55" fill="#073f80"/>
<path d="M413.6,289.0h3.2l-1.6,2.8z" fill="#d0022b"/>
<path d="M140.8,240.3h3.2l-1.6,2.8z" fill="#d0022b"/>
<path d="M144.2,240.7h3.2l-1.6,2.8z" fill="#d0022b"/>
<path d="M430.9,251.3h2.6M432.2,250.0v2.6M431.3,250.4l1.9,1.9M433.2,250.4l-1.9,1.9" stroke="#34b845" stroke-width="0.95"/>
<circle cx="159.4" cy="255.7" r="1.55" fill="#073f80"/>
<path d="M155.3,247.6h3.2l-1.6,2.8z" fill="#d0022b"/>
<path d="M396.4,314.9h2.6M397.7,313.6v2.6M396.8,313.9l1.9,1.9M398.6,313.9l-1.9,1.9" stroke="#34b845" stroke-width="0.95"/>
<circle cx="131.4" cy="290.7" r="1.55" fill="#073f80"/>
<path d="M168.3,254.0h2.6M169.6,252.7v2.6M168.7,253.0l1.9,1.9M170.6,253.0l-1.9,1.9" stroke="#34b845" stroke-width="0.95"/>
<path d="M373.4,270.8h3.2l-1.6,2.8z" fill="#d0022b"/>
<path d="M371.4,291.0h3.2l-1.6,2.8z" fill="#d0022b"/>
<path d="M125.3,277.3h2.6M126.6,276.0v2.6M125.6,276.4l1.9,1.9M127.5,276.4l-1.9,1.9" stroke="#34b845" stroke-width="0.95"/>
<circle cx="399.5" cy="293.4" r="1.55" fill="#073f80"/>
<path d="M141.6,245.2h3.2l-1.6,2.8z" fill="#d0022b"/>
<path d="M154.6,283.3h2.6M155.9,282.0v2.6M155.0,282.3l1.9,1.9M156.9,282.3l-1.9,1.9" stroke="#34b845" stroke-width="0.95"/>
<circle cx="162.8" cy="263.7" r="1.55" fill="#073f80"/>
<path d="M144.4,275.0h3.2l-1.6,2.8z" fill="#d0022b"/>
<path d="M163.1,246.8h3.2l-1.6,2.8z" fill="#d0022b"/>
<path d="M379.7,266.4h3.2l-1.6,2.8z" fill="#d0022b"/>
<path d="M436.5,244.8h2.6M437.8,243.5v2.6M436.9,243.8l1.9,1.9M438.8,243.8l-1.9,1.9" stroke="#34b845" stroke-width="0.95"/>
<circle cx="381.7" cy="273.4" r="1.55" fill="#073f80"/>
<path d="M162.9,253.8h2.6M164.2,252.5v2.6M163.2,252.8l1.9,1.9M165.1,252.8l-1.9,1.9" stroke="#34b845" stroke-width="0.95"/>
<circle cx="184.2" cy="235.2" r="1.55" fill="#073f80"/>
<path d="M133.8,256.7h3.2l-1.6,2.8z" fill="#d0022b"/>
<path d="M437.2,253.2h2.6M438.5,251.9v2.6M437.5,252.2l1.9,1.9M439.4,252.2l-1.9,1.9" stroke="#34b845" stroke-width="0.95"/>
<circle cx="417.3" cy="262.4" r="1.55" fill="#073f80"/>
<circle cx="144.2" cy="277.9" r="1.55" fill="#073f80"/>
<path d="M419.5,267.4h2.6M420.8,266.1v2.6M419.9,266.4l1.9,1.9M421.8,266.4l-1.9,1.9" stroke="#34b845" stroke-width="0.95"/>
<path d="M396.9,247.8h3.2l-1.6,2.8z" fill="#d0022b"/>
<path d="M185.0,219.4h3.2l-1.6,2.8z" fill="#d0022b"/>
<circle cx="423.0" cy="266.1" r="1.55" fill="#073f80"/>
<path d="M150.4,249.9h2.6M151.7,248.6v2.6M150.8,249.0l1.9,1.9M152.7,249.0l-1.9,1.9" stroke="#34b845" stroke-width="0.95"/>
<circle cx="151.6" cy="278.8" r="1.55" fill="#073f80"/>
<path d="M337.1,313.9h3.2l-1.6,2.8z" fill="#d0022b"/>
<path d="M164.3,260.2h3.2l-1.6,2.8z" fill="#d0022b"/>
<path d="M406.0,268.5h3.2l-1.6,2.8z" fill="#d0022b"/>
<path d="M132.1,279.0h3.2l-1.6,2.8z" fill="#d0022b"/>
<path d="M116.9,259.7h3.2l-1.6,2.8z" fill="#d0022b"/>
<circle cx="205.9" cy="227.6" r="1.55" fill="#073f80"/>
<path d="M386.3,314.9h2.6M387.6,313.6v2.6M386.7,313.9l1.9,1.9M388.6,313.9l-1.9,1.9" stroke="#34b845" stroke-width="0.95"/>
<circle cx="407.8" cy="273.9" r="1.55" fill="#073f80"/>
<path d="M381.3,291.5h3.2l-1.6,2.8z" fill="#d0022b"/>
<path d="M154.9,251.3h3.2l-1.6,2.8z" fill="#d0022b"/>
<path d="M148.2,261.1h3.2l-1.6,2.8z" fill="#d0022b"/>
<circle cx="142.1" cy="251.9" r="1.55" fill="#073f80"/>
<circle cx="149.0" cy="265.8" r="1.55" fill="#073f80"/>
<path d="M382.7,229.4h3.2l-1.6,2.8z" fill="#d0022b"/>
<path d="M400.4,260.2h2.6M401.7,258.9v2.6M400.8,259.2l1.9,1.9M402.7,259.2l-1.9,1.9" stroke="#34b845" stroke-width="0.95"/>
<path d="M155.1,235.7h3.2l-1.6,2.8z" fill="#d0022b"/>
<path d="M145.1,252.3h2.6M146.4,251.0v2.6M145.5,251.3l1.9,1.9M147.4,251.3l-1.9,1.9" stroke="#34b845" stroke-width="0.95"/>
<path d="M385.2,230.4h2.6M386.5,229.1v2.6M385.5,229.4l1.9,1.9M387.4,229.4l-1.9,1.9" stroke="#34b845" stroke-width="0.95"/>
<circle cx="386.7" cy="270.1" r="1.55" fill="#073f80"/>
<path d="M152.6,267.3h2.6M153.9,266.0v2.6M152.9,266.4l1.9,1.9M154.8,266.4l-1.9,1.9" stroke="#34b845" stroke-width="0.95"/>
<path d="M187.4,218.4h3.2l-1.6,2.8z" fill="#d0022b"/>
<path d="M141.1,270.7h3.2l-1.6,2.8z" fill="#d0022b"/>
<path d="M158.2,265.3h3.2l-1.6,2.8z" fill="#d0022b"/>
<circle cx="147.9" cy="261.7" r="1.55" fill="#073f80"/>
<path d="M415.0,276.1h2.6M416.3,274.8v2.6M415.4,275.1l1.9,1.9M417.3,275.1l-1.9,1.9" stroke="#34b845" stroke-width="0.95"/>
<circle cx="134.1" cy="293.5" r="1.55" fill="#073f80"/>
<circle cx="387.9" cy="288.6" r="1.55" fill="#073f80"/>
<circle cx="390.5" cy="261.5" r="1.55" fill="#073f80"/>
<path d="M141.7,285.3h3.2l-1.6,2.8z" fill="#d0022b"/>
<path d="M425.1,276.4h3.2l-1.6,2.8z" fill="#d0022b"/>
<path d="M152.3,255.5h2.6M153.6,254.2v2.6M152.6,254.6l1.9,1.9M154.5,254.6l-1.9,1.9" stroke="#34b845" stroke-width="0.95"/>
<path d="M447.0,264.8h3.2l-1.6,2.8z" fill="#d0022b"/>
<path d="M152.3,247.5h2.6M153.6,246.2v2.6M152.7,246.6l1.9,1.9M154.6,246.6l-1.9,1.9" stroke="#34b845" stroke-width="0.95"/>
<circle cx="150.9" cy="266.5" r="1.55" fill="#073f80"/>
<circle cx="136.8" cy="293.6" r="1.55" fill="#073f80"/>
<path d="M147.9,276.9h3.2l-1.6,2.8z" fill="#d0022b"/>
<path d="M428.0,239.9h3.2l-1.6,2.8z" fill="#d0022b"/>
<path d="M420.3,285.7h3.2l-1.6,2.8z" fill="#d0022b"/>
<path d="M125.6,260.7h3.2l-1.6,2.8z" fill="#d0022b"/>
<circle cx="416.1" cy="283.4" r="1.55" fill="#073f80"/>
<circle cx="136.2" cy="245.1" r="1.55" fill="#073f80"/>
<circle cx="384.0" cy="293.9" r="1.55" fill="#073f80"/>
<path d="M134.3,275.7h2.6M135.6,274.4v2.6M134.6,274.7l1.9,1.9M136.5,274.7l-1.9,1.9" stroke="#34b845" stroke-width="0.95"/>
<path d="M123.9,283.6h3.2l-1.6,2.8z" fill="#d0022b"/>
<path d="M400.6,268.0h2.6M401.9,266.7v2.6M401.0,267.0l1.9,1.9M402.9,267.0l-1.9,1.9" stroke="#34b845" stroke-width="0.95"/>
<path d="M134.7,257.1h3.2l-1.6,2.8z" fill="#d0022b"/>
<path d="M392.2,281.1h2.6M393.5,279.8v2.6M392.6,280.1l1.9,1.9M394.5,280.1l-1.9,1.9" stroke="#34b845" stroke-width="0.95"/>
<path d="M438.6,255.3h3.2l-1.6,2.8z" fill="#d0022b"/>
<path d="M151.5,235.1h3.2l-1.6,2.8z" fill="#d0022b"/>
<path d="M133.4,249.4h3.2l-1.6,2.8z" fill="#d0022b"/>
<path d="M395.7,269.8h3.2l-1.6,2.8z" fill="#d0022b"/>
<path d="M441.6,262.0h3.2l-1.6,2.8z" fill="#d0022b"/>
<path d="M69.2,311.3h3.2l-1.6,2.8z" fill="#d0022b"/>
<path d="M169.3,255.6h3.2l-1.6,2.8z" fill="#d0022b"/>
<path d="M369.7,284.7h3.2l-1.6,2.8z" fill="#d0022b"/>
<path d="M161.6,225.7h3.2l-1.6,2.8z" fill="#d0022b"/>
<path d="M141.2,254.6h2.6M142.5,253.3v2.6M141.6,253.7l1.9,1.9M143.5,253.7l-1.9,1.9" stroke="#34b845" stroke-width="0.95"/>
<path d="M129.5,277.0h3.2l-1.6,2.8z" fill="#d0022b"/>
<path d="M325.5,224.0h2.6M326.8,222.7v2.6M325.9,223.1l1.9,1.9M327.8,223.1l-1.9,1.9" stroke="#34b845" stroke-width="0.95"/>
<circle cx="406.9" cy="253.3" r="1.55" fill="#073f80"/>
<circle cx="150.8" cy="247.0" r="1.55" fill="#073f80"/>
<path d="M147.2,254.7h3.2l-1.6,2.8z" fill="#d0022b"/>
<circle cx="390.5" cy="261.3" r="1.55" fill="#073f80"/>
<circle cx="388.1" cy="290.7" r="1.55" fill="#073f80"/>
<circle cx="128.7" cy="261.9" r="1.55" fill="#073f80"/>
<circle cx="391.3" cy="253.9" r="1.55" fill="#073f80"/>
<circle cx="159.3" cy="272.8" r="1.55" fill="#073f80"/>
<path d="M149.7,256.0h2.6M151.0,254.7v2.6M150.0,255.1l1.9,1.9M151.9,255.1l-1.9,1.9" stroke="#34b845" stroke-width="0.95"/>
<path d="M136.2,276.8h2.6M137.5,275.5v2.6M136.5,275.9l1.9,1.9M138.4,275.9l-1.9,1.9" stroke="#34b845" stroke-width="0.95"/>
<path d="M171.9,216.5h2.6M173.2,215.2v2.6M172.2,215.6l1.9,1.9M174.1,215.6l-1.9,1.9" stroke="#34b845" stroke-width="0.95"/>
<path d="M443.1,234.2h3.2l-1.6,2.8z" fill="#d0022b"/>
<path d="M432.8,241.2h2.6M434.1,239.9v2.6M433.2,240.2l1.9,1.9M435.1,240.2l-1.9,1.9" stroke="#34b845" stroke-width="0.95"/>
<path d="M123.5,258.0h3.2l-1.6,2.8z" fill="#d0022b"/>
<circle cx="159.4" cy="251.2" r="1.55" fill="#073f80"/>
<path d="M415.4,261.0h2.6M416.7,259.7v2.6M415.7,260.1l1.9,1.9M417.6,260.1l-1.9,1.9" stroke="#34b845" stroke-width="0.95"/>
<path d="M409.8,268.4h3.2l-1.6,2.8z" fill="#d0022b"/>
<circle cx="137.3" cy="265.1" r="1.55" fill="#073f80"/>
<path d="M128.3,273.6h2.6M129.6,272.3v2.6M128.6,272.7l1.9,1.9M130.5,272.7l-1.9,1.9" stroke="#34b845" stroke-width="0.95"/>
<path d="M135.7,263.7h2.6M137.0,262.4v2.6M136.1,262.7l1.9,1.9M138.0,262.7l-1.9,1.9" stroke="#34b845" stroke-width="0.95"/>
<circle cx="162.7" cy="266.7" r="1.55" fill="#073f80"/>
<circle cx="146.7" cy="260.3" r="1.55" fill="#073f80"/>
<path d="M177.0,244.6h3.2l-1.6,2.8z" fill="#d0022b"/>
<path d="M393.9,279.3h2.6M395.2,278.0v2.6M394.3,278.3l1.9,1.9M396.2,278.3l-1.9,1.9" stroke="#34b845" stroke-width="0.95"/>
<path d="M144.6,278.1h3.2l-1.6,2.8z" fill="#d0022b"/>
<circle cx="130.3" cy="294.1" r="1.55" fill="#073f80"/>
<circle cx="176.6" cy="239.7" r="1.55" fill="#073f80"/>
<path d="M376.0,287.8h2.6M377.3,286.5v2.6M376.4,286.8l1.9,1.9M378.3,286.8l-1.9,1.9" stroke="#34b845" stroke-width="0.95"/>
<path d="M143.3,252.9h2.6M144.6,251.6v2.6M143.7,252.0l1.9,1.9M145.6,252.0l-1.9,1.9" stroke="#34b845" stroke-width="0.95"/>
<circle cx="119.3" cy="291.7" r="1.55" fill="#073f80"/>
<path d="M357.5,314.9h2.6M358.8,313.6v2.6M357.9,313.9l1.9,1.9M359.8,313.9l-1.9,1.9" stroke="#34b845" stroke-width="0.95"/>
<circle cx="149.0" cy="285.1" r="1.55" fill="#073f80"/>
<circle cx="417.8" cy="281.5" r="1.55" fill="#073f80"/>
<circle cx="395.6" cy="278.2" r="1.55" fill="#073f80"/>
<path d="M136.5,245.6h3.2l-1.6,2.8z" fill="#d0022b"/>
<circle cx="404.6" cy="293.5" r="1.55" fill="#073f80"/>
<circle cx="360.9" cy="279.2" r="1.55" fill="#073f80"/>
<circle cx="422.0" cy="259.1" r="1.55" fill="#073f80"/>
<path d="M388.0,280.3h3.2l-1.6,2.8z" fill="#d0022b"/>
<path d="M155.2,223.2h3.2l-1.6,2.8z" fill="#d0022b"/>
<path d="M386.3,281.0h2.6M387.6,279.7v2.6M386.7,280.1l1.9,1.9M388.6,280.1l-1.9,1.9" stroke="#34b845" stroke-width="0.95"/>
<path d="M151.5,275.8h2.6M152.8,274.5v2.6M151.9,274.9l1.9,1.9M153.8,274.9l-1.9,1.9" stroke="#34b845" stroke-width="0.95"/>
<circle cx="436.4" cy="243.5" r="1.55" fill="#073f80"/>
<path d="M403.8,314.9h2.6M405.1,313.6v2.6M404.2,313.9l1.9,1.9M406.1,313.9l-1.9,1.9" stroke="#34b845" stroke-width="0.95"/>
<circle cx="388.0" cy="261.1" r="1.55" fill="#073f80"/>
<path d="M163.9,257.4h2.6M165.2,256.1v2.6M164.3,256.4l1.9,1.9M166.2,256.4l-1.9,1.9" stroke="#34b845" stroke-width="0.95"/>
<path d="M421.2,268.6h3.2l-1.6,2.8z" fill="#d0022b"/>
<path d="M131.9,256.6h2.6M133.2,255.3v2.6M132.2,255.7l1.9,1.9M134.1,255.7l-1.9,1.9" stroke="#34b845" stroke-width="0.95"/>
<path d="M123.7,256.7h2.6M125.0,255.4v2.6M124.0,255.8l1.9,1.9M125.9,255.8l-1.9,1.9" stroke="#34b845" stroke-width="0.95"/>
<path d="M379.2,283.3h2.6M380.5,282.0v2.6M379.5,282.3l1.9,1.9M381.4,282.3l-1.9,1.9" stroke="#34b845" stroke-width="0.95"/>
<path d="M157.8,242.3h2.6M159.1,241.0v2.6M158.2,241.3l1.9,1.9M160.1,241.3l-1.9,1.9" stroke="#34b845" stroke-width="0.95"/>
<circle cx="430.4" cy="236.7" r="1.55" fill="#073f80"/>
<path d="M136.2,258.3h3.2l-1.6,2.8z" fill="#d0022b"/>
<circle cx="134.6" cy="287.4" r="1.55" fill="#073f80"/>
<circle cx="379.3" cy="284.3" r="1.55" fill="#073f80"/>
<path d="M444.4,245.2h2.6M445.7,243.9v2.6M444.7,244.3l1.9,1.9M446.6,244.3l-1.9,1.9" stroke="#34b845" stroke-width="0.95"/>
<circle cx="418.3" cy="235.2" r="1.55" fill="#073f80"/>
<path d="M166.2,233.6h3.2l-1.6,2.8z" fill="#d0022b"/>
<path d="M170.7,244.9h2.6M172.0,243.6v2.6M171.0,244.0l1.9,1.9M172.9,244.0l-1.9,1.9" stroke="#34b845" stroke-width="0.95"/>
<path d="M405.4,260.7h3.2l-1.6,2.8z" fill="#d0022b"/>
<circle cx="401.0" cy="274.4" r="1.55" fill="#073f80"/>
<path d="M154.5,245.5h2.6M155.8,244.2v2.6M154.9,244.6l1.9,1.9M156.8,244.6l-1.9,1.9" stroke="#34b845" stroke-width="0.95"/>
<circle cx="396.0" cy="265.6" r="1.55" fill="#073f80"/>
<path d="M378.2,268.1h3.2l-1.6,2.8z" fill="#d0022b"/>
<path d="M420.1,255.6h3.2l-1.6,2.8z" fill="#d0022b"/>
<circle cx="369.9" cy="314.9" r="1.55" fill="#073f80"/>
<path d="M125.4,292.5h2.6M126.7,291.2v2.6M125.8,291.6l1.9,1.9M127.7,291.6l-1.9,1.9" stroke="#34b845" stroke-width="0.95"/>
<path d="M126.4,249.1h3.2l-1.6,2.8z" fill="#d0022b"/>
<circle cx="67.5" cy="277.2" r="1.55" fill="#073f80"/>
<path d="M118.8,276.4h2.6M120.1,275.1v2.6M119.1,275.5l1.9,1.9M121.0,275.5l-1.9,1.9" stroke="#34b845" stroke-width="0.95"/>
<path d="M366.7,278.2h3.2l-1.6,2.8z" fill="#d0022b"/>
<path d="M435.8,256.3h2.6M437.1,255.0v2.6M436.2,255.3l1.9,1.9M438.1,255.3l-1.9,1.9" stroke="#34b845" stroke-width="0.95"/>
<path d="M359.6,314.9h2.6M360.9,313.6v2.6M359.9,313.9l1.9,1.9M361.8,313.9l-1.9,1.9" stroke="#34b845" stroke-width="0.95"/>
<path d="M389.0,292.1h2.6M390.3,290.8v2.6M389.4,291.2l1.9,1.9M391.3,291.2l-1.9,1.9" stroke="#34b845" stroke-width="0.95"/>
<path d="M442.3,243.7h2.6M443.6,242.4v2.6M442.6,242.8l1.9,1.9M444.5,242.8l-1.9,1.9" stroke="#34b845" stroke-width="0.95"/>
<path d="M383.4,256.5h3.2l-1.6,2.8z" fill="#d0022b"/>
<circle cx="384.1" cy="279.5" r="1.55" fill="#073f80"/>
<circle cx="131.7" cy="262.3" r="1.55" fill="#073f80"/>
<circle cx="428.1" cy="242.7" r="1.55" fill="#073f80"/>
<path d="M163.9,256.8h3.2l-1.6,2.8z" fill="#d0022b"/>
<circle cx="119.5" cy="281.8" r="1.55" fill="#073f80"/>
<path d="M377.2,292.6h2.6M378.5,291.3v2.6M377.5,291.6l1.9,1.9M379.4,291.6l-1.9,1.9" stroke="#34b845" stroke-width="0.95"/>
<path d="M412.8,278.9h3.2l-1.6,2.8z" fill="#d0022b"/>
<circle cx="122.0" cy="292.2" r="1.55" fill="#073f80"/>
<path d="M388.2,258.5h2.6M389.5,257.2v2.6M388.5,257.5l1.9,1.9M390.4,257.5l-1.9,1.9" stroke="#34b845" stroke-width="0.95"/>
<circle cx="139.2" cy="263.5" r="1.55" fill="#073f80"/>
<path d="M139.1,276.9h3.2l-1.6,2.8z" fill="#d0022b"/>
<circle cx="400.5" cy="287.1" r="1.55" fill="#073f80"/>
<path d="M434.2,261.1h2.6M435.5,259.8v2.6M434.5,260.1l1.9,1.9M436.4,260.1l-1.9,1.9" stroke="#34b845" stroke-width="0.95"/>
<path d="M145.8,252.8h3.2l-1.6,2.8z" fill="#d0022b"/>
<circle cx="430.8" cy="267.1" r="1.55" fill="#073f80"/>
<path d="M422.4,250.0h3.2l-1.6,2.8z" fill="#d0022b"/>
<path d="M415.2,245.5h3.2l-1.6,2.8z" fill="#d0022b"/>
<path d="M126.0,257.9h3.2l-1.6,2.8z" fill="#d0022b"/>
<path d="M134.5,282.5h2.6M135.8,281.2v2.6M134.8,281.5l1.9,1.9M136.7,281.5l-1.9,1.9" stroke="#34b845" stroke-width="0.95"/>
<path d="M394.7,267.0h2.6M396.0,265.7v2.6M395.0,266.0l1.9,1.9M396.9,266.0l-1.9,1.9" stroke="#34b845" stroke-width="0.95"/>
<path d="M121.7,311.3h3.2l-1.6,2.8z" fill="#d0022b"/>
<path d="M399.0,314.9h2.6M400.3,313.6v2.6M399.4,313.9l1.9,1.9M401.2,313.9l-1.9,1.9" stroke="#34b845" stroke-width="0.95"/>
<path d="M413.3,267.8h3.2l-1.6,2.8z" fill="#d0022b"/>
<path d="M143.5,253.7h3.2l-1.6,2.8z" fill="#d0022b"/>
<path d="M402.4,280.4h3.2l-1.6,2.8z" fill="#d0022b"/>
<circle cx="405.4" cy="264.7" r="1.55" fill="#073f80"/>
<path d="M164.8,233.4h3.2l-1.6,2.8z" fill="#d0022b"/>
<circle cx="162.3" cy="272.8" r="1.55" fill="#073f80"/>
<path d="M158.0,252.1h3.2l-1.6,2.8z" fill="#d0022b"/>
<circle cx="134.8" cy="281.0" r="1.55" fill="#073f80"/>
<path d="M161.3,248.6h3.2l-1.6,2.8z" fill="#d0022b"/>
<circle cx="396.3" cy="272.8" r="1.55" fill="#073f80"/>
<path d="M420.9,255.2h2.6M422.2,253.9v2.6M421.2,254.3l1.9,1.9M423.1,254.3l-1.9,1.9" stroke="#34b845" stroke-width="0.95"/>
<path d="M378.7,270.3h3.2l-1.6,2.8z" fill="#d0022b"/>
<circle cx="145.9" cy="291.7" r="1.55" fill="#073f80"/>
<path d="M418.7,264.9h3.2l-1.6,2.8z" fill="#d0022b"/>
<circle cx="394.0" cy="314.9" r="1.55" fill="#073f80"/>
<path d="M384.6,272.6h3.2l-1.6,2.8z" fill="#d0022b"/>
<path d="M404.5,285.8h3.2l-1.6,2.8z" fill="#d0022b"/>
<circle cx="147.6" cy="282.1" r="1.55" fill="#073f80"/>
<path d="M137.9,292.0h2.6M139.2,290.7v2.6M138.2,291.1l1.9,1.9M140.1,291.1l-1.9,1.9" stroke="#34b845" stroke-width="0.95"/>
<path d="M392.1,289.5h3.2l-1.6,2.8z" fill="#d0022b"/>
<path d="M393.2,261.4h3.2l-1.6,2.8z" fill="#d0022b"/>
<path d="M456.4,228.9h3.2l-1.6,2.8z" fill="#d0022b"/>
<path d="M180.4,234.1h3.2l-1.6,2.8z" fill="#d0022b"/>
<path d="M422.3,248.0h2.6M423.6,246.7v2.6M422.6,247.0l1.9,1.9M424.5,247.0l-1.9,1.9" stroke="#34b845" stroke-width="0.95"/>
<path d="M175.3,228.5h3.2l-1.6,2.8z" fill="#d0022b"/>
<circle cx="384.5" cy="261.6" r="1.55" fill="#073f80"/>
<circle cx="123.3" cy="265.3" r="1.55" fill="#073f80"/>
<path d="M163.4,251.4h2.6M164.7,250.1v2.6M163.8,250.5l1.9,1.9M165.7,250.5l-1.9,1.9" stroke="#34b845" stroke-width="0.95"/>
<path d="M135.5,285.4h3.2l-1.6,2.8z" fill="#d0022b"/>
<path d="M94.8,272.3h3.2l-1.6,2.8z" fill="#d0022b"/>
<circle cx="387.0" cy="255.6" r="1.55" fill="#073f80"/>
<path d="M411.9,254.9h3.2l-1.6,2.8z" fill="#d0022b"/>
<path d="M136.0,289.1h2.6M137.3,287.8v2.6M136.3,288.2l1.9,1.9M138.2,288.2l-1.9,1.9" stroke="#34b845" stroke-width="0.95"/>
<circle cx="144.2" cy="246.1" r="1.55" fill="#073f80"/>
<circle cx="380.0" cy="264.8" r="1.55" fill="#073f80"/>
<path d="M405.7,279.8h2.6M407.0,278.5v2.6M406.1,278.8l1.9,1.9M408.0,278.8l-1.9,1.9" stroke="#34b845" stroke-width="0.95"/>
<path d="M400.5,241.2h2.6M401.8,239.9v2.6M400.9,240.2l1.9,1.9M402.8,240.2l-1.9,1.9" stroke="#34b845" stroke-width="0.95"/>
<circle cx="403.7" cy="287.0" r="1.55" fill="#073f80"/>
<path d="M366.0,256.0h3.2l-1.6,2.8z" fill="#d0022b"/>
<path d="M442.3,253.0h3.2l-1.6,2.8z" fill="#d0022b"/>
<path d="M379.6,227.1h3.2l-1.6,2.8z" fill="#d0022b"/>
<path d="M182.4,236.2h2.6M183.7,234.9v2.6M182.8,235.3l1.9,1.9M184.7,235.3l-1.9,1.9" stroke="#34b845" stroke-width="0.95"/>
<path d="M168.1,250.1h3.2l-1.6,2.8z" fill="#d0022b"/>
<path d="M363.6,313.9h3.2l-1.6,2.8z" fill="#d0022b"/>
<circle cx="181.9" cy="243.7" r="1.55" fill="#073f80"/>
<circle cx="405.4" cy="290.7" r="1.55" fill="#073f80"/>
<path d="M321.1,260.3h3.2l-1.6,2.8z" fill="#d0022b"/>
<path d="M321.4,250.5h2.6M322.7,249.2v2.6M321.8,249.6l1.9,1.9M323.6,249.6l-1.9,1.9" stroke="#34b845" stroke-width="0.95"/>
<path d="M202.8,210.0h3.2l-1.6,2.8z" fill="#d0022b"/>
<path d="M163.8,249.7h3.2l-1.6,2.8z" fill="#d0022b"/>
<path d="M398.1,269.3h3.2l-1.6,2.8z" fill="#d0022b"/>
<path d="M163.8,238.9h2.6M165.1,237.6v2.6M164.2,238.0l1.9,1.9M166.1,238.0l-1.9,1.9" stroke="#34b845" stroke-width="0.95"/>
<circle cx="389.1" cy="282.7" r="1.55" fill="#073f80"/>
<circle cx="405.8" cy="253.5" r="1.55" fill="#073f80"/>
<circle cx="106.3" cy="273.7" r="1.55" fill="#073f80"/>
<circle cx="123.7" cy="292.6" r="1.55" fill="#073f80"/>
<path d="M169.1,279.0h3.2l-1.6,2.8z" fill="#d0022b"/>
<circle cx="138.4" cy="289.7" r="1.55" fill="#073f80"/>
<path d="M401.2,270.9h3.2l-1.6,2.8z" fill="#d0022b"/>
<circle cx="161.8" cy="253.8" r="1.55" fill="#073f80"/>
<circle cx="379.8" cy="280.6" r="1.55" fill="#073f80"/>
<path d="M128.0,272.3h3.2l-1.6,2.8z" fill="#d0022b"/>
<path d="M178.6,228.8h3.2l-1.6,2.8z" fill="#d0022b"/>
<circle cx="392.0" cy="248.4" r="1.55" fill="#073f80"/>
<path d="M418.5,281.6h2.6M419.8,280.3v2.6M418.9,280.6l1.9,1.9M420.8,280.6l-1.9,1.9" stroke="#34b845" stroke-width="0.95"/>
<path d="M121.7,263.8h3.2l-1.6,2.8z" fill="#d0022b"/>
<path d="M139.2,261.8h3.2l-1.6,2.8z" fill="#d0022b"/>
<path d="M199.2,210.9h3.2l-1.6,2.8z" fill="#d0022b"/>
<path d="M415.5,268.4h2.6M416.8,267.1v2.6M415.9,267.5l1.9,1.9M417.8,267.5l-1.9,1.9" stroke="#34b845" stroke-width="0.95"/>
<path d="M415.1,272.9h2.6M416.4,271.6v2.6M415.4,272.0l1.9,1.9M417.3,272.0l-1.9,1.9" stroke="#34b845" stroke-width="0.95"/>
<path d="M429.6,260.1h3.2l-1.6,2.8z" fill="#d0022b"/>
<circle cx="322.4" cy="222.0" r="1.55" fill="#073f80"/>
<path d="M195.1,232.8h3.2l-1.6,2.8z" fill="#d0022b"/>
<path d="M151.0,269.4h2.6M152.3,268.1v2.6M151.3,268.4l1.9,1.9M153.2,268.4l-1.9,1.9" stroke="#34b845" stroke-width="0.95"/>
<circle cx="121.4" cy="282.9" r="1.55" fill="#073f80"/>
<circle cx="429.3" cy="233.7" r="1.55" fill="#073f80"/>
<path d="M153.6,260.9h3.2l-1.6,2.8z" fill="#d0022b"/>
<path d="M440.2,260.6h3.2l-1.6,2.8z" fill="#d0022b"/>
<path d="M138.1,245.2h3.2l-1.6,2.8z" fill="#d0022b"/>
<path d="M394.1,285.6h3.2l-1.6,2.8z" fill="#d0022b"/>
<path d="M154.2,254.7h2.6M155.5,253.4v2.6M154.6,253.8l1.9,1.9M156.5,253.8l-1.9,1.9" stroke="#34b845" stroke-width="0.95"/>
<circle cx="151.6" cy="241.0" r="1.55" fill="#073f80"/>
<circle cx="119.5" cy="288.6" r="1.55" fill="#073f80"/>
<circle cx="322.7" cy="276.8" r="1.55" fill="#073f80"/>
<path d="M145.0,289.9h2.6M146.3,288.6v2.6M145.3,288.9l1.9,1.9M147.2,288.9l-1.9,1.9" stroke="#34b845" stroke-width="0.95"/>
<circle cx="404.9" cy="263.3" r="1.55" fill="#073f80"/>
<circle cx="147.2" cy="273.5" r="1.55" fill="#073f80"/>
<path d="M414.5,271.1h2.6M415.8,269.8v2.6M414.8,270.2l1.9,1.9M416.7,270.2l-1.9,1.9" stroke="#34b845" stroke-width="0.95"/>
<path d="M428.3,263.9h2.6M429.6,262.6v2.6M428.6,262.9l1.9,1.9M430.5,262.9l-1.9,1.9" stroke="#34b845" stroke-width="0.95"/>
<circle cx="148.8" cy="246.6" r="1.55" fill="#073f80"/>
<path d="M134.0,246.6h3.2l-1.6,2.8z" fill="#d0022b"/>
<path d="M435.3,257.1h2.6M436.6,255.8v2.6M435.7,256.2l1.9,1.9M437.6,256.2l-1.9,1.9" stroke="#34b845" stroke-width="0.95"/>
<circle cx="135.5" cy="259.1" r="1.55" fill="#073f80"/>
<path d="M392.7,265.5h3.2l-1.6,2.8z" fill="#d0022b"/>
<path d="M376.1,279.4h3.2l-1.6,2.8z" fill="#d0022b"/>
<path d="M380.0,287.4h3.2l-1.6,2.8z" fill="#d0022b"/>
<circle cx="131.4" cy="269.3" r="1.55" fill="#073f80"/>
<path d="M402.8,288.7h3.2l-1.6,2.8z" fill="#d0022b"/>
<circle cx="326.6" cy="269.0" r="1.55" fill="#073f80"/>
<path d="M120.5,267.5h3.2l-1.6,2.8z" fill="#d0022b"/>
<path d="M127.3,262.8h3.2l-1.6,2.8z" fill="#d0022b"/>
<path d="M437.4,266.8h3.2l-1.6,2.8z" fill="#d0022b"/>
<circle cx="129.0" cy="274.5" r="1.55" fill="#073f80"/>
<circle cx="159.5" cy="253.0" r="1.55" fill="#073f80"/>
<path d="M144.6,253.5h3.2l-1.6,2.8z" fill="#d0022b"/>
<path d="M181.3,246.1h3.2l-1.6,2.8z" fill="#d0022b"/>
<path d="M377.6,314.9h2.6M378.9,313.6v2.6M377.9,313.9l1.9,1.9M379.8,313.9l-1.9,1.9" stroke="#34b845" stroke-width="0.95"/>
<circle cx="410.5" cy="254.0" r="1.55" fill="#073f80"/>
<path d="M411.1,267.9h3.2l-1.6,2.8z" fill="#d0022b"/>
<circle cx="379.4" cy="288.0" r="1.55" fill="#073f80"/>
<circle cx="125.3" cy="261.8" r="1.55" fill="#073f80"/>
<circle cx="405.4" cy="288.8" r="1.55" fill="#073f80"/>
<circle cx="412.8" cy="262.0" r="1.55" fill="#073f80"/>
<path d="M136.8,238.9h2.6M138.1,237.6v2.6M137.1,238.0l1.9,1.9M139.0,238.0l-1.9,1.9" stroke="#34b845" stroke-width="0.95"/>
<path d="M154.0,260.9h2.6M155.3,259.6v2.6M154.3,260.0l1.9,1.9M156.2,260.0l-1.9,1.9" stroke="#34b845" stroke-width="0.95"/>
<path d="M160.0,247.6h3.2l-1.6,2.8z" fill="#d0022b"/>
<circle cx="178.1" cy="242.7" r="1.55" fill="#073f80"/>
<circle cx="139.2" cy="253.4" r="1.55" fill="#073f80"/>
<path d="M403.3,255.9h3.2l-1.6,2.8z" fill="#d0022b"/>
<path d="M111.0,260.4h3.2l-1.6,2.8z" fill="#d0022b"/>
<circle cx="139.3" cy="295.9" r="1.55" fill="#073f80"/>
<circle cx="406.9" cy="266.6" r="1.55" fill="#073f80"/>
<path d="M137.6,255.6h2.6M138.9,254.3v2.6M137.9,254.6l1.9,1.9M139.8,254.6l-1.9,1.9" stroke="#34b845" stroke-width="0.95"/>
<path d="M445.4,241.4h3.2l-1.6,2.8z" fill="#d0022b"/>
<path d="M392.9,274.2h2.6M394.2,272.9v2.6M393.2,273.3l1.9,1.9M395.1,273.3l-1.9,1.9" stroke="#34b845" stroke-width="0.95"/>
<path d="M155.9,243.2h3.2l-1.6,2.8z" fill="#d0022b"/>
<path d="M143.8,259.7h3.2l-1.6,2.8z" fill="#d0022b"/>
<path d="M145.3,240.3h3.2l-1.6,2.8z" fill="#d0022b"/>
<path d="M179.4,242.3h3.2l-1.6,2.8z" fill="#d0022b"/>
<circle cx="117.9" cy="284.1" r="1.55" fill="#073f80"/>
<path d="M144.6,242.5h3.2l-1.6,2.8z" fill="#d0022b"/>
<path d="M120.0,268.9h2.6M121.3,267.6v2.6M120.4,268.0l1.9,1.9M122.3,268.0l-1.9,1.9" stroke="#34b845" stroke-width="0.95"/>
<path d="M433.7,266.8h3.2l-1.6,2.8z" fill="#d0022b"/>
<path d="M127.8,273.5h2.6M129.1,272.2v2.6M128.1,272.6l1.9,1.9M130.0,272.6l-1.9,1.9" stroke="#34b845" stroke-width="0.95"/>
<path d="M114.0,265.4h3.2l-1.6,2.8z" fill="#d0022b"/>
<circle cx="145.2" cy="266.3" r="1.55" fill="#073f80"/>
<path d="M154.3,265.7h3.2l-1.6,2.8z" fill="#d0022b"/>
<circle cx="154.3" cy="258.4" r="1.55" fill="#073f80"/>
<path d="M321.9,314.9h2.6M323.2,313.6v2.6M322.2,313.9l1.9,1.9M324.1,313.9l-1.9,1.9" stroke="#34b845" stroke-width="0.95"/>
<path d="M130.1,264.8h2.6M131.4,263.5v2.6M130.5,263.9l1.9,1.9M132.4,263.9l-1.9,1.9" stroke="#34b845" stroke-width="0.95"/>
<circle cx="322.7" cy="288.8" r="1.55" fill="#073f80"/>
<path d="M435.5,259.3h2.6M436.8,258.0v2.6M435.9,258.4l1.9,1.9M437.8,258.4l-1.9,1.9" stroke="#34b845" stroke-width="0.95"/>
<path d="M413.5,284.3h3.2l-1.6,2.8z" fill="#d0022b"/>
<path d="M151.5,265.3h2.6M152.8,264.0v2.6M151.8,264.4l1.9,1.9M153.7,264.4l-1.9,1.9" stroke="#34b845" stroke-width="0.95"/>
<circle cx="408.4" cy="290.6" r="1.55" fill="#073f80"/>
<path d="M166.1,245.9h3.2l-1.6,2.8z" fill="#d0022b"/>
<path d="M126.9,250.8h3.2l-1.6,2.8z" fill="#d0022b"/>
<path d="M150.6,258.7h2.6M151.9,257.4v2.6M150.9,257.7l1.9,1.9M152.8,257.7l-1.9,1.9" stroke="#34b845" stroke-width="0.95"/>
<path d="M138.5,251.7h3.2l-1.6,2.8z" fill="#d0022b"/>
<path d="M152.8,231.7h3.2l-1.6,2.8z" fill="#d0022b"/>
<path d="M128.8,239.1h3.2l-1.6,2.8z" fill="#d0022b"/>
<path d="M418.0,260.8h3.2l-1.6,2.8z" fill="#d0022b"/>
<path d="M116.7,279.4h2.6M118.0,278.1v2.6M117.1,278.5l1.9,1.9M119.0,278.5l-1.9,1.9" stroke="#34b845" stroke-width="0.95"/>
<circle cx="415.4" cy="281.3" r="1.55" fill="#073f80"/>
<path d="M124.4,290.1h2.6M125.7,288.8v2.6M124.7,289.2l1.9,1.9M126.6,289.2l-1.9,1.9" stroke="#34b845" stroke-width="0.95"/>
<path d="M151.9,280.6h3.2l-1.6,2.8z" fill="#d0022b"/>
<path d="M161.2,253.6h3.2l-1.6,2.8z" fill="#d0022b"/>
<circle cx="374.7" cy="264.2" r="1.55" fill="#073f80"/>
<circle cx="419.0" cy="261.3" r="1.55" fill="#073f80"/>
<circle cx="403.5" cy="253.9" r="1.55" fill="#073f80"/>
<path d="M379.7,259.8h3.2l-1.6,2.8z" fill="#d0022b"/>
<path d="M140.5,264.8h2.6M141.8,263.5v2.6M140.9,263.9l1.9,1.9M142.8,263.9l-1.9,1.9" stroke="#34b845" stroke-width="0.95"/>
<path d="M152.8,247.8h2.6M154.1,246.5v2.6M153.1,246.8l1.9,1.9M155.0,246.8l-1.9,1.9" stroke="#34b845" stroke-width="0.95"/>
<circle cx="143.6" cy="267.2" r="1.55" fill="#073f80"/>
<path d="M116.5,264.9h2.6M117.8,263.6v2.6M116.9,264.0l1.9,1.9M118.8,264.0l-1.9,1.9" stroke="#34b845" stroke-width="0.95"/>
<path d="M437.4,242.7h2.6M438.7,241.4v2.6M437.7,241.8l1.9,1.9M439.6,241.8l-1.9,1.9" stroke="#34b845" stroke-width="0.95"/>
<path d="M406.1,314.9h2.6M407.4,313.6v2.6M406.4,313.9l1.9,1.9M408.3,313.9l-1.9,1.9" stroke="#34b845" stroke-width="0.95"/>
<circle cx="123.4" cy="291.1" r="1.55" fill="#073f80"/>
<circle cx="120.9" cy="275.6" r="1.55" fill="#073f80"/>
<path d="M156.6,261.6h2.6M157.9,260.3v2.6M157.0,260.6l1.9,1.9M158.9,260.6l-1.9,1.9" stroke="#34b845" stroke-width="0.95"/>
<circle cx="133.8" cy="253.8" r="1.55" fill="#073f80"/>
<path d="M373.4,289.7h3.2l-1.6,2.8z" fill="#d0022b"/>
<path d="M152.7,263.9h2.6M154.0,262.6v2.6M153.0,262.9l1.9,1.9M154.9,262.9l-1.9,1.9" stroke="#34b845" stroke-width="0.95"/>
<path d="M405.6,284.6h3.2l-1.6,2.8z" fill="#d0022b"/>
<circle cx="70.8" cy="277.4" r="1.55" fill="#073f80"/>
<path d="M391.4,282.0h3.2l-1.6,2.8z" fill="#d0022b"/>
<circle cx="154.5" cy="253.5" r="1.55" fill="#073f80"/>
<circle cx="386.3" cy="286.5" r="1.55" fill="#073f80"/>
<path d="M134.4,270.9h3.2l-1.6,2.8z" fill="#d0022b"/>
<path d="M413.5,259.7h3.2l-1.6,2.8z" fill="#d0022b"/>
<path d="M395.3,223.2h2.6M396.6,221.9v2.6M395.7,222.2l1.9,1.9M397.6,222.2l-1.9,1.9" stroke="#34b845" stroke-width="0.95"/>
<path d="M378.4,280.4h2.6M379.7,279.1v2.6M378.7,279.5l1.9,1.9M380.6,279.5l-1.9,1.9" stroke="#34b845" stroke-width="0.95"/>
<circle cx="124.4" cy="263.2" r="1.55" fill="#073f80"/>
<circle cx="415.8" cy="280.3" r="1.55" fill="#073f80"/>
<circle cx="129.2" cy="270.0" r="1.55" fill="#073f80"/>
<circle cx="157.5" cy="288.0" r="1.55" fill="#073f80"/>
<path d="M426.1,260.0h3.2l-1.6,2.8z" fill="#d0022b"/>
<circle cx="139.9" cy="269.2" r="1.55" fill="#073f80"/>
<circle cx="387.3" cy="286.9" r="1.55" fill="#073f80"/>
<path d="M164.1,239.7h2.6M165.4,238.4v2.6M164.5,238.7l1.9,1.9M166.4,238.7l-1.9,1.9" stroke="#34b845" stroke-width="0.95"/>
<circle cx="147.1" cy="248.7" r="1.55" fill="#073f80"/>
<path d="M452.1,250.8h3.2l-1.6,2.8z" fill="#d0022b"/>
<circle cx="396.2" cy="270.9" r="1.55" fill="#073f80"/>
<circle cx="397.3" cy="279.0" r="1.55" fill="#073f80"/>
<circle cx="70.8" cy="264.3" r="1.55" fill="#073f80"/>
<circle cx="181.0" cy="230.8" r="1.55" fill="#073f80"/>
<circle cx="144.8" cy="273.8" r="1.55" fill="#073f80"/>
<path d="M152.2,275.8h2.6M153.5,274.5v2.6M152.5,274.9l1.9,1.9M154.4,274.9l-1.9,1.9" stroke="#34b845" stroke-width="0.95"/>
<path d="M367.0,275.2h2.6M368.3,273.9v2.6M367.3,274.2l1.9,1.9M369.2,274.2l-1.9,1.9" stroke="#34b845" stroke-width="0.95"/>
<circle cx="159.4" cy="250.9" r="1.55" fill="#073f80"/>
<path d="M188.9,232.8h3.2l-1.6,2.8z" fill="#d0022b"/>
<circle cx="156.7" cy="265.1" r="1.55" fill="#073f80"/>
<path d="M65.9,284.0h3.2l-1.6,2.8z" fill="#d0022b"/>
<path d="M405.0,261.3h2.6M406.3,260.0v2.6M405.3,260.4l1.9,1.9M407.2,260.4l-1.9,1.9" stroke="#34b845" stroke-width="0.95"/>
<path d="M144.5,251.6h2.6M145.8,250.3v2.6M144.8,250.7l1.9,1.9M146.7,250.7l-1.9,1.9" stroke="#34b845" stroke-width="0.95"/>
<path d="M189.4,237.7h3.2l-1.6,2.8z" fill="#d0022b"/>
<path d="M116.5,286.1h3.2l-1.6,2.8z" fill="#d0022b"/>
<path d="M127.4,256.1h3.2l-1.6,2.8z" fill="#d0022b"/>
<path d="M181.5,213.7h2.6M182.8,212.4v2.6M181.8,212.7l1.9,1.9M183.7,212.7l-1.9,1.9" stroke="#34b845" stroke-width="0.95"/>
<circle cx="128.9" cy="283.1" r="1.55" fill="#073f80"/>
<path d="M385.3,267.6h3.2l-1.6,2.8z" fill="#d0022b"/>
<path d="M119.3,275.9h2.6M120.6,274.6v2.6M119.6,275.0l1.9,1.9M121.5,275.0l-1.9,1.9" stroke="#34b845" stroke-width="0.95"/>
<path d="M148.8,262.4h3.2l-1.6,2.8z" fill="#d0022b"/>
<circle cx="148.7" cy="280.9" r="1.55" fill="#073f80"/>
<path d="M411.0,235.2h2.6M412.3,233.9v2.6M411.3,234.2l1.9,1.9M413.2,234.2l-1.9,1.9" stroke="#34b845" stroke-width="0.95"/>
<path d="M153.9,258.2h2.6M155.2,256.9v2.6M154.2,257.3l1.9,1.9M156.1,257.3l-1.9,1.9" stroke="#34b845" stroke-width="0.95"/>
<path d="M406.4,264.7h2.6M407.7,263.4v2.6M406.7,263.8l1.9,1.9M408.6,263.8l-1.9,1.9" stroke="#34b845" stroke-width="0.95"/>
<path d="M443.4,229.6h3.2l-1.6,2.8z" fill="#d0022b"/>
<path d="M113.6,311.3h3.2l-1.6,2.8z" fill="#d0022b"/>
<circle cx="394.1" cy="256.0" r="1.55" fill="#073f80"/>
<circle cx="425.0" cy="267.2" r="1.55" fill="#073f80"/>
<circle cx="140.8" cy="282.9" r="1.55" fill="#073f80"/>
<path d="M427.2,280.5h3.2l-1.6,2.8z" fill="#d0022b"/>
<circle cx="432.6" cy="245.0" r="1.55" fill="#073f80"/>
<path d="M409.1,281.3h2.6M410.4,280.0v2.6M409.4,280.3l1.9,1.9M411.3,280.3l-1.9,1.9" stroke="#34b845" stroke-width="0.95"/>
<path d="M377.4,276.2h3.2l-1.6,2.8z" fill="#d0022b"/>
<path d="M132.2,250.8h3.2l-1.6,2.8z" fill="#d0022b"/>
<path d="M168.2,249.3h3.2l-1.6,2.8z" fill="#d0022b"/>
<circle cx="116.4" cy="265.0" r="1.55" fill="#073f80"/>
<path d="M137.4,295.1h2.6M138.7,293.8v2.6M137.8,294.2l1.9,1.9M139.7,294.2l-1.9,1.9" stroke="#34b845" stroke-width="0.95"/>
<path d="M338.4,251.7h3.2l-1.6,2.8z" fill="#d0022b"/>
<circle cx="157.1" cy="265.0" r="1.55" fill="#073f80"/>
<circle cx="326.6" cy="275.5" r="1.55" fill="#073f80"/>
<path d="M142.5,261.1h3.2l-1.6,2.8z" fill="#d0022b"/>
<path d="M423.0,252.5h2.6M424.3,251.2v2.6M423.4,251.6l1.9,1.9M425.3,251.6l-1.9,1.9" stroke="#34b845" stroke-width="0.95"/>
<path d="M159.2,258.4h2.6M160.5,257.1v2.6M159.5,257.5l1.9,1.9M161.4,257.5l-1.9,1.9" stroke="#34b845" stroke-width="0.95"/>
<path d="M168.4,249.1h2.6M169.7,247.8v2.6M168.7,248.2l1.9,1.9M170.6,248.2l-1.9,1.9" stroke="#34b845" stroke-width="0.95"/>
<path d="M420.5,246.0h2.6M421.8,244.7v2.6M420.8,245.1l1.9,1.9M422.7,245.1l-1.9,1.9" stroke="#34b845" stroke-width="0.95"/>
<path d="M136.8,256.2h2.6M138.1,254.9v2.6M137.1,255.2l1.9,1.9M139.0,255.2l-1.9,1.9" stroke="#34b845" stroke-width="0.95"/>
<circle cx="410.3" cy="256.7" r="1.55" fill="#073f80"/>
<path d="M133.5,265.3h2.6M134.8,264.0v2.6M133.8,264.3l1.9,1.9M135.7,264.3l-1.9,1.9" stroke="#34b845" stroke-width="0.95"/>
<path d="M423.5,235.7h3.2l-1.6,2.8z" fill="#d0022b"/>
<path d="M416.6,280.1h2.6M417.9,278.8v2.6M417.0,279.1l1.9,1.9M418.9,279.1l-1.9,1.9" stroke="#34b845" stroke-width="0.95"/>
<circle cx="67.5" cy="312.3" r="1.55" fill="#073f80"/>
<circle cx="165.0" cy="270.2" r="1.55" fill="#073f80"/>
<path d="M411.0,273.3h3.2l-1.6,2.8z" fill="#d0022b"/>
<path d="M155.9,237.2h3.2l-1.6,2.8z" fill="#d0022b"/>
<path d="M443.7,245.5h2.6M445.0,244.2v2.6M444.1,244.6l1.9,1.9M446.0,244.6l-1.9,1.9" stroke="#34b845" stroke-width="0.95"/>
<path d="M145.2,279.4h2.6M146.5,278.1v2.6M145.5,278.5l1.9,1.9M147.4,278.5l-1.9,1.9" stroke="#34b845" stroke-width="0.95"/>
<path d="M399.0,243.5h2.6M400.3,242.2v2.6M399.4,242.5l1.9,1.9M401.3,242.5l-1.9,1.9" stroke="#34b845" stroke-width="0.95"/>
<circle cx="399.4" cy="264.8" r="1.55" fill="#073f80"/>
<circle cx="144.3" cy="273.8" r="1.55" fill="#073f80"/>
<circle cx="147.3" cy="283.6" r="1.55" fill="#073f80"/>
<path d="M202.3,231.4h3.2l-1.6,2.8z" fill="#d0022b"/>
<path d="M426.8,265.1h2.6M428.1,263.8v2.6M427.1,264.1l1.9,1.9M429.0,264.1l-1.9,1.9" stroke="#34b845" stroke-width="0.95"/>
<path d="M122.6,270.3h2.6M123.9,269.0v2.6M123.0,269.3l1.9,1.9M124.9,269.3l-1.9,1.9" stroke="#34b845" stroke-width="0.95"/>
<path d="M144.9,275.5h3.2l-1.6,2.8z" fill="#d0022b"/>
<path d="M155.3,273.5h3.2l-1.6,2.8z" fill="#d0022b"/>
<circle cx="422.0" cy="274.5" r="1.55" fill="#073f80"/>
<circle cx="419.7" cy="256.4" r="1.55" fill="#073f80"/>
<path d="M121.5,254.1h3.2l-1.6,2.8z" fill="#d0022b"/>
<path d="M422.0,230.8h3.2l-1.6,2.8z" fill="#d0022b"/>
<path d="M376.2,291.0h3.2l-1.6,2.8z" fill="#d0022b"/>
<circle cx="386.7" cy="280.5" r="1.55" fill="#073f80"/>
<path d="M136.2,246.7h3.2l-1.6,2.8z" fill="#d0022b"/>
<path d="M373.5,238.6h3.2l-1.6,2.8z" fill="#d0022b"/>
<path d="M173.0,217.9h3.2l-1.6,2.8z" fill="#d0022b"/>
<path d="M403.0,267.0h3.2l-1.6,2.8z" fill="#d0022b"/>
<path d="M164.4,251.9h2.6M165.7,250.6v2.6M164.7,250.9l1.9,1.9M166.6,250.9l-1.9,1.9" stroke="#34b845" stroke-width="0.95"/>
<circle cx="172.4" cy="231.4" r="1.55" fill="#073f80"/>
<circle cx="390.4" cy="272.0" r="1.55" fill="#073f80"/>
<path d="M396.6,292.2h3.2l-1.6,2.8z" fill="#d0022b"/>
<path d="M321.4,291.2h2.6M322.7,289.9v2.6M321.8,290.2l1.9,1.9M323.6,290.2l-1.9,1.9" stroke="#34b845" stroke-width="0.95"/>
<circle cx="437.9" cy="253.3" r="1.55" fill="#073f80"/>
<circle cx="397.2" cy="289.8" r="1.55" fill="#073f80"/>
<path d="M180.1,233.6h2.6M181.4,232.3v2.6M180.5,232.7l1.9,1.9M182.4,232.7l-1.9,1.9" stroke="#34b845" stroke-width="0.95"/>
<circle cx="373.4" cy="262.4" r="1.55" fill="#073f80"/>
<path d="M174.1,252.8h3.2l-1.6,2.8z" fill="#d0022b"/>
<circle cx="378.7" cy="272.6" r="1.55" fill="#073f80"/>
<path d="M405.8,287.4h3.2l-1.6,2.8z" fill="#d0022b"/>
<circle cx="134.0" cy="283.0" r="1.55" fill="#073f80"/>
<circle cx="70.8" cy="279.4" r="1.55" fill="#073f80"/>
<circle cx="406.2" cy="255.8" r="1.55" fill="#073f80"/>
<circle cx="418.4" cy="284.6" r="1.55" fill="#073f80"/>
<path d="M126.2,285.0h2.6M127.5,283.7v2.6M126.5,284.1l1.9,1.9M128.4,284.1l-1.9,1.9" stroke="#34b845" stroke-width="0.95"/>
<path d="M395.6,279.9h2.6M396.9,278.6v2.6M395.9,278.9l1.9,1.9M397.8,278.9l-1.9,1.9" stroke="#34b845" stroke-width="0.95"/>
<path d="M166.7,252.8h2.6M168.0,251.5v2.6M167.1,251.9l1.9,1.9M169.0,251.9l-1.9,1.9" stroke="#34b845" stroke-width="0.95"/>
<circle cx="436.8" cy="222.8" r="1.55" fill="#073f80"/>
<circle cx="135.5" cy="295.0" r="1.55" fill="#073f80"/>
<path d="M414.3,279.0h3.2l-1.6,2.8z" fill="#d0022b"/>
<path d="M158.1,237.0h2.6M159.4,235.7v2.6M158.4,236.0l1.9,1.9M160.3,236.0l-1.9,1.9" stroke="#34b845" stroke-width="0.95"/>
<circle cx="351.4" cy="274.5" r="1.55" fill="#073f80"/>
<circle cx="131.3" cy="293.0" r="1.55" fill="#073f80"/>
<path d="M155.1,257.7h2.6M156.4,256.4v2.6M155.4,256.8l1.9,1.9M157.3,256.8l-1.9,1.9" stroke="#34b845" stroke-width="0.95"/>
<path d="M123.2,281.1h2.6M124.5,279.8v2.6M123.6,280.2l1.9,1.9M125.5,280.2l-1.9,1.9" stroke="#34b845" stroke-width="0.95"/>
<circle cx="322.7" cy="280.7" r="1.55" fill="#073f80"/>
<circle cx="387.7" cy="267.6" r="1.55" fill="#073f80"/>
<path d="M128.8,253.2h3.2l-1.6,2.8z" fill="#d0022b"/>
<path d="M143.0,241.3h2.6M144.3,240.0v2.6M143.4,240.3l1.9,1.9M145.3,240.3l-1.9,1.9" stroke="#34b845" stroke-width="0.95"/>
<path d="M382.9,282.5h2.6M384.2,281.2v2.6M383.3,281.5l1.9,1.9M385.2,281.5l-1.9,1.9" stroke="#34b845" stroke-width="0.95"/>
<path d="M421.1,273.3h2.6M422.4,272.0v2.6M421.5,272.3l1.9,1.9M423.4,272.3l-1.9,1.9" stroke="#34b845" stroke-width="0.95"/>
<path d="M163.9,265.0h3.2l-1.6,2.8z" fill="#d0022b"/>
<circle cx="124.4" cy="271.3" r="1.55" fill="#073f80"/>
<circle cx="326.6" cy="255.9" r="1.55" fill="#073f80"/>
<path d="M412.8,251.1h2.6M414.1,249.8v2.6M413.1,250.2l1.9,1.9M415.0,250.2l-1.9,1.9" stroke="#34b845" stroke-width="0.95"/>
<path d="M120.5,287.1h2.6M121.8,285.8v2.6M120.9,286.2l1.9,1.9M122.8,286.2l-1.9,1.9" stroke="#34b845" stroke-width="0.95"/>
<path d="M411.4,235.7h3.2l-1.6,2.8z" fill="#d0022b"/>
<circle cx="128.6" cy="289.5" r="1.55" fill="#073f80"/>
<path d="M405.5,290.8h2.6M406.8,289.5v2.6M405.8,289.8l1.9,1.9M407.7,289.8l-1.9,1.9" stroke="#34b845" stroke-width="0.95"/>
<path d="M146.2,266.8h3.2l-1.6,2.8z" fill="#d0022b"/>
<circle cx="119.8" cy="282.0" r="1.55" fill="#073f80"/>
<circle cx="129.5" cy="290.5" r="1.55" fill="#073f80"/>
<path d="M384.2,251.4h3.2l-1.6,2.8z" fill="#d0022b"/>
<path d="M134.2,249.5h3.2l-1.6,2.8z" fill="#d0022b"/>
<path d="M144.6,270.9h2.6M145.9,269.6v2.6M145.0,270.0l1.9,1.9M146.9,270.0l-1.9,1.9" stroke="#34b845" stroke-width="0.95"/>
<path d="M441.1,253.3h2.6M442.4,252.0v2.6M441.5,252.3l1.9,1.9M443.4,252.3l-1.9,1.9" stroke="#34b845" stroke-width="0.95"/>
<path d="M463.0,218.8h3.2l-1.6,2.8z" fill="#d0022b"/>
<path d="M174.8,243.3h2.6M176.1,242.0v2.6M175.1,242.3l1.9,1.9M177.0,242.3l-1.9,1.9" stroke="#34b845" stroke-width="0.95"/>
<path d="M436.8,253.0h3.2l-1.6,2.8z" fill="#d0022b"/>
<path d="M422.6,244.2h3.2l-1.6,2.8z" fill="#d0022b"/>
<circle cx="177.6" cy="237.5" r="1.55" fill="#073f80"/>
<path d="M187.0,223.2h3.2l-1.6,2.8z" fill="#d0022b"/>
<path d="M181.7,219.9h3.2l-1.6,2.8z" fill="#d0022b"/>
<path d="M126.8,254.4h3.2l-1.6,2.8z" fill="#d0022b"/>
<path d="M321.4,293.8h2.6M322.7,292.5v2.6M321.8,292.9l1.9,1.9M323.6,292.9l-1.9,1.9" stroke="#34b845" stroke-width="0.95"/>
<circle cx="96.9" cy="286.9" r="1.55" fill="#073f80"/>
<path d="M69.5,281.9h2.6M70.8,280.6v2.6M69.8,280.9l1.9,1.9M71.8,280.9l-1.9,1.9" stroke="#34b845" stroke-width="0.95"/>
<path d="M166.2,240.6h2.6M167.5,239.3v2.6M166.6,239.6l1.9,1.9M168.5,239.6l-1.9,1.9" stroke="#34b845" stroke-width="0.95"/>
<path d="M148.1,255.9h3.2l-1.6,2.8z" fill="#d0022b"/>
<path d="M147.2,253.9h3.2l-1.6,2.8z" fill="#d0022b"/>
<path d="M149.2,244.1h3.2l-1.6,2.8z" fill="#d0022b"/>
<path d="M386.0,288.3h3.2l-1.6,2.8z" fill="#d0022b"/>
<circle cx="430.1" cy="264.6" r="1.55" fill="#073f80"/>
<path d="M153.8,228.0h3.2l-1.6,2.8z" fill="#d0022b"/>
<circle cx="385.7" cy="281.6" r="1.55" fill="#073f80"/>
<path d="M137.8,262.7h3.2l-1.6,2.8z" fill="#d0022b"/>
<circle cx="144.8" cy="290.5" r="1.55" fill="#073f80"/>
<path d="M415.0,233.4h2.6M416.3,232.1v2.6M415.4,232.4l1.9,1.9M417.3,232.4l-1.9,1.9" stroke="#34b845" stroke-width="0.95"/>
<circle cx="128.2" cy="279.0" r="1.55" fill="#073f80"/>
<circle cx="164.4" cy="257.3" r="1.55" fill="#073f80"/>
<path d="M384.3,291.6h2.6M385.6,290.3v2.6M384.6,290.6l1.9,1.9M386.5,290.6l-1.9,1.9" stroke="#34b845" stroke-width="0.95"/>
<path d="M117.6,311.3h3.2l-1.6,2.8z" fill="#d0022b"/>
<path d="M120.7,250.4h3.2l-1.6,2.8z" fill="#d0022b"/>
<path d="M154.9,248.8h3.2l-1.6,2.8z" fill="#d0022b"/>
<path d="M394.4,246.2h2.6M395.7,244.9v2.6M394.7,245.3l1.9,1.9M396.6,245.3l-1.9,1.9" stroke="#34b845" stroke-width="0.95"/>
<circle cx="388.7" cy="285.4" r="1.55" fill="#073f80"/>
<circle cx="132.8" cy="248.5" r="1.55" fill="#073f80"/>
<path d="M185.8,240.5h2.6M187.1,239.2v2.6M186.2,239.5l1.9,1.9M188.1,239.5l-1.9,1.9" stroke="#34b845" stroke-width="0.95"/>
<circle cx="402.6" cy="291.4" r="1.55" fill="#073f80"/>
<path d="M173.0,247.7h2.6M174.3,246.4v2.6M173.3,246.7l1.9,1.9M175.2,246.7l-1.9,1.9" stroke="#34b845" stroke-width="0.95"/>
<path d="M404.9,252.5h3.2l-1.6,2.8z" fill="#d0022b"/>
<path d="M109.2,311.3h3.2l-1.6,2.8z" fill="#d0022b"/>
<path d="M379.9,222.5h3.2l-1.6,2.8z" fill="#d0022b"/>
<circle cx="414.1" cy="254.0" r="1.55" fill="#073f80"/>
<path d="M169.4,240.1h3.2l-1.6,2.8z" fill="#d0022b"/>
<circle cx="159.6" cy="312.4" r="1.55" fill="#073f80"/>
<circle cx="155.2" cy="255.5" r="1.55" fill="#073f80"/>
<circle cx="166.3" cy="249.4" r="1.55" fill="#073f80"/>
<circle cx="146.4" cy="259.3" r="1.55" fill="#073f80"/>
<path d="M386.1,235.5h2.6M387.4,234.2v2.6M386.4,234.5l1.9,1.9M388.3,234.5l-1.9,1.9" stroke="#34b845" stroke-width="0.95"/>
<path d="M363.3,253.5h3.2l-1.6,2.8z" fill="#d0022b"/>
<circle cx="138.1" cy="259.9" r="1.55" fill="#073f80"/>
<circle cx="187.9" cy="268.7" r="1.55" fill="#073f80"/>
<path d="M163.9,219.4h3.2l-1.6,2.8z" fill="#d0022b"/>
<circle cx="400.5" cy="256.6" r="1.55" fill="#073f80"/>
<circle cx="361.8" cy="258.5" r="1.55" fill="#073f80"/>
<circle cx="121.9" cy="286.2" r="1.55" fill="#073f80"/>
<path d="M164.9,248.4h2.6M166.2,247.1v2.6M165.3,247.4l1.9,1.9M167.2,247.4l-1.9,1.9" stroke="#34b845" stroke-width="0.95"/>
<circle cx="142.7" cy="256.5" r="1.55" fill="#073f80"/>
<path d="M406.8,285.4h3.2l-1.6,2.8z" fill="#d0022b"/>
<path d="M365.8,256.3h3.2l-1.6,2.8z" fill="#d0022b"/>
<path d="M129.8,258.3h2.6M131.1,257.0v2.6M130.2,257.4l1.9,1.9M132.1,257.4l-1.9,1.9" stroke="#34b845" stroke-width="0.95"/>
<path d="M400.1,278.0h2.6M401.4,276.7v2.6M400.5,277.0l1.9,1.9M402.4,277.0l-1.9,1.9" stroke="#34b845" stroke-width="0.95"/>
<path d="M427.6,251.0h2.6M428.9,249.7v2.6M427.9,250.1l1.9,1.9M429.8,250.1l-1.9,1.9" stroke="#34b845" stroke-width="0.95"/>
<circle cx="116.6" cy="280.8" r="1.55" fill="#073f80"/>
<circle cx="403.9" cy="285.3" r="1.55" fill="#073f80"/>
<path d="M160.7,234.1h3.2l-1.6,2.8z" fill="#d0022b"/>
<path d="M170.2,232.3h3.2l-1.6,2.8z" fill="#d0022b"/>
<circle cx="390.8" cy="251.9" r="1.55" fill="#073f80"/>
<path d="M168.1,247.7h3.2l-1.6,2.8z" fill="#d0022b"/>
<path d="M150.9,259.7h2.6M152.2,258.4v2.6M151.3,258.8l1.9,1.9M153.2,258.8l-1.9,1.9" stroke="#34b845" stroke-width="0.95"/>
<path d="M389.9,266.9h3.2l-1.6,2.8z" fill="#d0022b"/>
<path d="M325.0,284.9h3.2l-1.6,2.8z" fill="#d0022b"/>
<path d="M444.7,261.6h3.2l-1.6,2.8z" fill="#d0022b"/>
<circle cx="174.7" cy="236.5" r="1.55" fill="#073f80"/>
<path d="M414.9,258.2h2.6M416.2,256.9v2.6M415.3,257.2l1.9,1.9M417.2,257.2l-1.9,1.9" stroke="#34b845" stroke-width="0.95"/>
<path d="M66.2,279.4h2.6M67.5,278.1v2.6M66.5,278.4l1.9,1.9M68.5,278.4l-1.9,1.9" stroke="#34b845" stroke-width="0.95"/>
<path d="M146.7,250.8h2.6M148.0,249.5v2.6M147.0,249.8l1.9,1.9M148.9,249.8l-1.9,1.9" stroke="#34b845" stroke-width="0.95"/>
<circle cx="406.1" cy="259.4" r="1.55" fill="#073f80"/>
<circle cx="394.9" cy="285.3" r="1.55" fill="#073f80"/>
<path d="M370.2,314.9h2.6M371.5,313.6v2.6M370.6,313.9l1.9,1.9M372.4,313.9l-1.9,1.9" stroke="#34b845" stroke-width="0.95"/>
<path d="M144.7,288.0h2.6M146.0,286.7v2.6M145.0,287.0l1.9,1.9M146.9,287.0l-1.9,1.9" stroke="#34b845" stroke-width="0.95"/>
<path d="M414.9,270.2h2.6M416.2,268.9v2.6M415.3,269.3l1.9,1.9M417.2,269.3l-1.9,1.9" stroke="#34b845" stroke-width="0.95"/>
<path d="M404.9,263.6h3.2l-1.6,2.8z" fill="#d0022b"/>
<circle cx="382.6" cy="286.5" r="1.55" fill="#073f80"/>
<circle cx="168.3" cy="243.2" r="1.55" fill="#073f80"/>
<path d="M137.8,245.9h3.2l-1.6,2.8z" fill="#d0022b"/>
<path d="M391.3,259.6h3.2l-1.6,2.8z" fill="#d0022b"/>
<path d="M151.2,255.2h3.2l-1.6,2.8z" fill="#d0022b"/>
<circle cx="461.6" cy="245.4" r="1.55" fill="#073f80"/>
<circle cx="129.2" cy="294.0" r="1.55" fill="#073f80"/>
<path d="M389.3,288.5h3.2l-1.6,2.8z" fill="#d0022b"/>
<path d="M173.1,246.5h3.2l-1.6,2.8z" fill="#d0022b"/>
<path d="M131.0,269.1h3.2l-1.6,2.8z" fill="#d0022b"/>
<circle cx="371.2" cy="290.3" r="1.55" fill="#073f80"/>
<path d="M378.2,264.7h2.6M379.5,263.4v2.6M378.5,263.7l1.9,1.9M380.4,263.7l-1.9,1.9" stroke="#34b845" stroke-width="0.95"/>
<path d="M126.6,275.7h2.6M127.9,274.4v2.6M126.9,274.7l1.9,1.9M128.8,274.7l-1.9,1.9" stroke="#34b845" stroke-width="0.95"/>
<path d="M415.4,314.9h2.6M416.7,313.6v2.6M415.8,313.9l1.9,1.9M417.6,313.9l-1.9,1.9" stroke="#34b845" stroke-width="0.95"/>
<circle cx="385.5" cy="314.9" r="1.55" fill="#073f80"/>
<path d="M110.6,271.8h3.2l-1.6,2.8z" fill="#d0022b"/>
<path d="M130.5,278.3h2.6M131.8,277.0v2.6M130.8,277.3l1.9,1.9M132.7,277.3l-1.9,1.9" stroke="#34b845" stroke-width="0.95"/>
<path d="M422.7,240.2h3.2l-1.6,2.8z" fill="#d0022b"/>
<path d="M144.4,261.4h3.2l-1.6,2.8z" fill="#d0022b"/>
<path d="M187.9,213.8h3.2l-1.6,2.8z" fill="#d0022b"/>
<path d="M137.5,258.6h3.2l-1.6,2.8z" fill="#d0022b"/>
<circle cx="353.2" cy="270.1" r="1.55" fill="#073f80"/>
<path d="M390.3,287.1h3.2l-1.6,2.8z" fill="#d0022b"/>
<circle cx="395.0" cy="260.7" r="1.55" fill="#073f80"/>
<path d="M144.5,246.3h3.2l-1.6,2.8z" fill="#d0022b"/>
<circle cx="177.0" cy="238.7" r="1.55" fill="#073f80"/>
<path d="M415.6,268.6h2.6M416.9,267.3v2.6M415.9,267.7l1.9,1.9M417.8,267.7l-1.9,1.9" stroke="#34b845" stroke-width="0.95"/>
<circle cx="388.9" cy="250.8" r="1.55" fill="#073f80"/>
<path d="M146.9,243.8h3.2l-1.6,2.8z" fill="#d0022b"/>
<circle cx="418.9" cy="314.9" r="1.55" fill="#073f80"/>
<path d="M155.3,276.6h2.6M156.6,275.3v2.6M155.7,275.7l1.9,1.9M157.6,275.7l-1.9,1.9" stroke="#34b845" stroke-width="0.95"/>
<circle cx="138.3" cy="260.3" r="1.55" fill="#073f80"/>
<path d="M402.3,262.9h3.2l-1.6,2.8z" fill="#d0022b"/>
<circle cx="413.9" cy="274.8" r="1.55" fill="#073f80"/>
<path d="M162.3,246.4h2.6M163.6,245.1v2.6M162.6,245.5l1.9,1.9M164.5,245.5l-1.9,1.9" stroke="#34b845" stroke-width="0.95"/>
<path d="M131.0,264.4h2.6M132.3,263.1v2.6M131.4,263.5l1.9,1.9M133.3,263.5l-1.9,1.9" stroke="#34b845" stroke-width="0.95"/>
<path d="M123.9,258.4h3.2l-1.6,2.8z" fill="#d0022b"/>
<path d="M103.0,286.9h2.6M104.3,285.6v2.6M103.4,286.0l1.9,1.9M105.3,286.0l-1.9,1.9" stroke="#34b845" stroke-width="0.95"/>
<circle cx="145.6" cy="278.4" r="1.55" fill="#073f80"/>
<path d="M125.7,291.8h2.6M127.0,290.5v2.6M126.0,290.8l1.9,1.9M127.9,290.8l-1.9,1.9" stroke="#34b845" stroke-width="0.95"/>
<circle cx="458.3" cy="248.0" r="1.55" fill="#073f80"/>
<path d="M164.3,259.9h2.6M165.6,258.6v2.6M164.6,259.0l1.9,1.9M166.5,259.0l-1.9,1.9" stroke="#34b845" stroke-width="0.95"/>
<circle cx="401.7" cy="283.9" r="1.55" fill="#073f80"/>
<circle cx="447.4" cy="215.3" r="1.55" fill="#073f80"/>
<circle cx="382.8" cy="259.7" r="1.55" fill="#073f80"/>
<path d="M136.6,263.6h3.2l-1.6,2.8z" fill="#d0022b"/>
<path d="M461.9,255.3h3.2l-1.6,2.8z" fill="#d0022b"/>
<circle cx="380.2" cy="263.3" r="1.55" fill="#073f80"/>
<path d="M148.0,240.2h3.2l-1.6,2.8z" fill="#d0022b"/>
<path d="M418.8,255.2h2.6M420.1,253.9v2.6M419.1,254.2l1.9,1.9M421.0,254.2l-1.9,1.9" stroke="#34b845" stroke-width="0.95"/>
<path d="M123.6,283.2h3.2l-1.6,2.8z" fill="#d0022b"/>
<path d="M381.0,281.8h2.6M382.3,280.5v2.6M381.4,280.9l1.9,1.9M383.3,280.9l-1.9,1.9" stroke="#34b845" stroke-width="0.95"/>
<path d="M392.7,283.0h2.6M394.0,281.7v2.6M393.1,282.1l1.9,1.9M395.0,282.1l-1.9,1.9" stroke="#34b845" stroke-width="0.95"/>
<path d="M414.4,261.8h3.2l-1.6,2.8z" fill="#d0022b"/>
<path d="M122.1,287.3h3.2l-1.6,2.8z" fill="#d0022b"/>
<circle cx="163.0" cy="238.9" r="1.55" fill="#073f80"/>
<circle cx="432.9" cy="265.1" r="1.55" fill="#073f80"/>
<path d="M129.2,259.6h2.6M130.5,258.3v2.6M129.5,258.7l1.9,1.9M131.4,258.7l-1.9,1.9" stroke="#34b845" stroke-width="0.95"/>
<path d="M154.7,236.7h3.2l-1.6,2.8z" fill="#d0022b"/>
<path d="M159.1,257.6h2.6M160.4,256.3v2.6M159.4,256.6l1.9,1.9M161.3,256.6l-1.9,1.9" stroke="#34b845" stroke-width="0.95"/>
<path d="M404.1,293.4h2.6M405.4,292.1v2.6M404.5,292.5l1.9,1.9M406.4,292.5l-1.9,1.9" stroke="#34b845" stroke-width="0.95"/>
<path d="M118.1,295.2h2.6M119.4,293.9v2.6M118.4,294.2l1.9,1.9M120.3,294.2l-1.9,1.9" stroke="#34b845" stroke-width="0.95"/>
<path d="M403.8,255.0h2.6M405.1,253.7v2.6M404.1,254.0l1.9,1.9M406.0,254.0l-1.9,1.9" stroke="#34b845" stroke-width="0.95"/>
<path d="M137.4,267.5h3.2l-1.6,2.8z" fill="#d0022b"/>
<path d="M160.9,230.9h3.2l-1.6,2.8z" fill="#d0022b"/>
<circle cx="151.8" cy="277.2" r="1.55" fill="#073f80"/>
<path d="M164.3,232.2h2.6M165.6,230.9v2.6M164.7,231.2l1.9,1.9M166.6,231.2l-1.9,1.9" stroke="#34b845" stroke-width="0.95"/>
<path d="M410.2,266.2h3.2l-1.6,2.8z" fill="#d0022b"/>
<path d="M147.9,282.0h3.2l-1.6,2.8z" fill="#d0022b"/>
<path d="M408.7,279.7h2.6M410.0,278.4v2.6M409.1,278.7l1.9,1.9M411.0,278.7l-1.9,1.9" stroke="#34b845" stroke-width="0.95"/>
<path d="M141.0,275.1h2.6M142.3,273.8v2.6M141.4,274.1l1.9,1.9M143.3,274.1l-1.9,1.9" stroke="#34b845" stroke-width="0.95"/>
<path d="M202.3,217.9h3.2l-1.6,2.8z" fill="#d0022b"/>
<path d="M162.6,256.6h3.2l-1.6,2.8z" fill="#d0022b"/>
<path d="M400.8,249.3h3.2l-1.6,2.8z" fill="#d0022b"/>
<path d="M141.3,248.0h3.2l-1.6,2.8z" fill="#d0022b"/>
<path d="M167.4,246.5h3.2l-1.6,2.8z" fill="#d0022b"/>
<circle cx="127.4" cy="282.7" r="1.55" fill="#073f80"/>
<path d="M123.3,255.3h3.2l-1.6,2.8z" fill="#d0022b"/>
<path d="M119.0,276.7h3.2l-1.6,2.8z" fill="#d0022b"/>
<path d="M383.8,291.2h3.2l-1.6,2.8z" fill="#d0022b"/>
<path d="M171.5,245.1h2.6M172.8,243.8v2.6M171.9,244.2l1.9,1.9M173.8,244.2l-1.9,1.9" stroke="#34b845" stroke-width="0.95"/>
<circle cx="67.5" cy="293.9" r="1.55" fill="#073f80"/>
<path d="M151.5,240.0h3.2l-1.6,2.8z" fill="#d0022b"/>
<path d="M116.3,280.0h3.2l-1.6,2.8z" fill="#d0022b"/>
<circle cx="139.2" cy="289.1" r="1.55" fill="#073f80"/>
<path d="M147.3,258.6h3.2l-1.6,2.8z" fill="#d0022b"/>
<circle cx="322.7" cy="269.5" r="1.55" fill="#073f80"/>
<circle cx="143.4" cy="292.3" r="1.55" fill="#073f80"/>
<path d="M157.6,237.2h3.2l-1.6,2.8z" fill="#d0022b"/>
<circle cx="415.6" cy="263.1" r="1.55" fill="#073f80"/>
<path d="M126.5,284.9h2.6M127.8,283.6v2.6M126.9,284.0l1.9,1.9M128.8,284.0l-1.9,1.9" stroke="#34b845" stroke-width="0.95"/>
<path d="M383.4,314.9h2.6M384.7,313.6v2.6M383.8,313.9l1.9,1.9M385.6,313.9l-1.9,1.9" stroke="#34b845" stroke-width="0.95"/>
<path d="M82.2,279.8h3.2l-1.6,2.8z" fill="#d0022b"/>
<path d="M383.9,282.8h2.6M385.2,281.5v2.6M384.3,281.8l1.9,1.9M386.2,281.8l-1.9,1.9" stroke="#34b845" stroke-width="0.95"/>
<circle cx="433.4" cy="246.0" r="1.55" fill="#073f80"/>
<circle cx="156.1" cy="257.2" r="1.55" fill="#073f80"/>
<path d="M420.2,271.9h2.6M421.5,270.6v2.6M420.5,271.0l1.9,1.9M422.4,271.0l-1.9,1.9" stroke="#34b845" stroke-width="0.95"/>
<path d="M398.4,285.1h3.2l-1.6,2.8z" fill="#d0022b"/>
<path d="M382.4,290.2h3.2l-1.6,2.8z" fill="#d0022b"/>
<path d="M431.0,233.4h3.2l-1.6,2.8z" fill="#d0022b"/>
<path d="M409.0,266.1h2.6M410.3,264.8v2.6M409.4,265.2l1.9,1.9M411.3,265.2l-1.9,1.9" stroke="#34b845" stroke-width="0.95"/>
<path d="M120.1,266.6h3.2l-1.6,2.8z" fill="#d0022b"/>
<path d="M123.3,290.9h2.6M124.6,289.6v2.6M123.7,289.9l1.9,1.9M125.6,289.9l-1.9,1.9" stroke="#34b845" stroke-width="0.95"/>
<circle cx="181.4" cy="240.3" r="1.55" fill="#073f80"/>
<path d="M397.1,265.2h3.2l-1.6,2.8z" fill="#d0022b"/>
<circle cx="419.9" cy="265.0" r="1.55" fill="#073f80"/>
<circle cx="143.7" cy="268.1" r="1.55" fill="#073f80"/>
<path d="M167.2,226.7h2.6M168.5,225.4v2.6M167.5,225.8l1.9,1.9M169.4,225.8l-1.9,1.9" stroke="#34b845" stroke-width="0.95"/>
<path d="M144.4,252.1h3.2l-1.6,2.8z" fill="#d0022b"/>
<path d="M402.9,282.9h3.2l-1.6,2.8z" fill="#d0022b"/>
<path d="M399.2,287.0h3.2l-1.6,2.8z" fill="#d0022b"/>
<circle cx="159.0" cy="275.8" r="1.55" fill="#073f80"/>
<path d="M422.8,313.9h3.2l-1.6,2.8z" fill="#d0022b"/>
<path d="M121.2,270.7h2.6M122.5,269.4v2.6M121.5,269.7l1.9,1.9M123.4,269.7l-1.9,1.9" stroke="#34b845" stroke-width="0.95"/>
<path d="M172.8,233.0h2.6M174.1,231.7v2.6M173.1,232.0l1.9,1.9M175.0,232.0l-1.9,1.9" stroke="#34b845" stroke-width="0.95"/>
<path d="M156.0,269.8h2.6M157.3,268.5v2.6M156.3,268.9l1.9,1.9M158.2,268.9l-1.9,1.9" stroke="#34b845" stroke-width="0.95"/>
<path d="M380.1,283.5h3.2l-1.6,2.8z" fill="#d0022b"/>
<path d="M393.1,278.1h3.2l-1.6,2.8z" fill="#d0022b"/>
<path d="M156.4,214.6h3.2l-1.6,2.8z" fill="#d0022b"/>
<circle cx="383.0" cy="289.5" r="1.55" fill="#073f80"/>
<path d="M194.2,245.0h3.2l-1.6,2.8z" fill="#d0022b"/>
<path d="M455.2,222.1h3.2l-1.6,2.8z" fill="#d0022b"/>
<circle cx="370.7" cy="264.7" r="1.55" fill="#073f80"/>
<circle cx="420.8" cy="279.3" r="1.55" fill="#073f80"/>
<path d="M194.2,221.8h3.2l-1.6,2.8z" fill="#d0022b"/>
<path d="M133.4,253.0h2.6M134.7,251.7v2.6M133.8,252.0l1.9,1.9M135.7,252.0l-1.9,1.9" stroke="#34b845" stroke-width="0.95"/>
<path d="M112.8,271.3h3.2l-1.6,2.8z" fill="#d0022b"/>
<circle cx="122.8" cy="287.4" r="1.55" fill="#073f80"/>
<path d="M168.0,251.8h3.2l-1.6,2.8z" fill="#d0022b"/>
<circle cx="106.0" cy="283.6" r="1.55" fill="#073f80"/>
<circle cx="137.4" cy="284.2" r="1.55" fill="#073f80"/>
<path d="M383.5,260.8h3.2l-1.6,2.8z" fill="#d0022b"/>
<path d="M361.4,313.9h3.2l-1.6,2.8z" fill="#d0022b"/>
<circle cx="443.2" cy="238.9" r="1.55" fill="#073f80"/>
<path d="M409.8,269.8h2.6M411.1,268.5v2.6M410.1,268.8l1.9,1.9M412.0,268.8l-1.9,1.9" stroke="#34b845" stroke-width="0.95"/>
<path d="M134.0,284.2h3.2l-1.6,2.8z" fill="#d0022b"/>
<circle cx="150.6" cy="289.7" r="1.55" fill="#073f80"/>
<circle cx="322.7" cy="286.3" r="1.55" fill="#073f80"/>
<circle cx="147.4" cy="254.9" r="1.55" fill="#073f80"/>
<path d="M125.7,311.3h3.2l-1.6,2.8z" fill="#d0022b"/>
<path d="M378.4,280.9h3.2l-1.6,2.8z" fill="#d0022b"/>
<path d="M430.2,248.9h3.2l-1.6,2.8z" fill="#d0022b"/>
<path d="M380.7,286.5h2.6M382.0,285.2v2.6M381.1,285.6l1.9,1.9M383.0,285.6l-1.9,1.9" stroke="#34b845" stroke-width="0.95"/>
<circle cx="165.2" cy="242.5" r="1.55" fill="#073f80"/>
<circle cx="326.6" cy="271.5" r="1.55" fill="#073f80"/>
<path d="M132.7,249.2h3.2l-1.6,2.8z" fill="#d0022b"/>
<path d="M403.3,272.2h3.2l-1.6,2.8z" fill="#d0022b"/>
<circle cx="403.8" cy="254.2" r="1.55" fill="#073f80"/>
<path d="M391.6,286.1h3.2l-1.6,2.8z" fill="#d0022b"/>
<path d="M429.2,248.1h2.6M430.5,246.8v2.6M429.6,247.1l1.9,1.9M431.5,247.1l-1.9,1.9" stroke="#34b845" stroke-width="0.95"/>
<circle cx="326.6" cy="253.3" r="1.55" fill="#073f80"/>
<circle cx="435.6" cy="263.0" r="1.55" fill="#073f80"/>
<path d="M69.5,291.7h2.6M70.8,290.4v2.6M69.8,290.8l1.9,1.9M71.8,290.8l-1.9,1.9" stroke="#34b845" stroke-width="0.95"/>
<path d="M413.4,255.0h3.2l-1.6,2.8z" fill="#d0022b"/>
<path d="M402.0,255.2h2.6M403.3,253.9v2.6M402.3,254.2l1.9,1.9M404.2,254.2l-1.9,1.9" stroke="#34b845" stroke-width="0.95"/>
<path d="M169.2,216.5h3.2l-1.6,2.8z" fill="#d0022b"/>
<circle cx="424.9" cy="269.9" r="1.55" fill="#073f80"/>
<path d="M149.2,243.0h3.2l-1.6,2.8z" fill="#d0022b"/>
<circle cx="398.8" cy="314.9" r="1.55" fill="#073f80"/>
<circle cx="134.6" cy="256.9" r="1.55" fill="#073f80"/>
<circle cx="141.0" cy="253.8" r="1.55" fill="#073f80"/>
<path d="M384.1,286.2h2.6M385.4,284.9v2.6M384.5,285.2l1.9,1.9M386.4,285.2l-1.9,1.9" stroke="#34b845" stroke-width="0.95"/>
<circle cx="159.9" cy="252.1" r="1.55" fill="#073f80"/>
<path d="M125.4,266.6h3.2l-1.6,2.8z" fill="#d0022b"/>
<circle cx="418.7" cy="236.7" r="1.55" fill="#073f80"/>
<circle cx="165.0" cy="256.0" r="1.55" fill="#073f80"/>
<path d="M156.5,289.2h2.6M157.8,287.9v2.6M156.9,288.3l1.9,1.9M158.8,288.3l-1.9,1.9" stroke="#34b845" stroke-width="0.95"/>
<path d="M169.4,232.7h2.6M170.7,231.4v2.6M169.7,231.7l1.9,1.9M171.6,231.7l-1.9,1.9" stroke="#34b845" stroke-width="0.95"/>
<path d="M441.2,242.7h3.2l-1.6,2.8z" fill="#d0022b"/>
<path d="M413.4,262.6h3.2l-1.6,2.8z" fill="#d0022b"/>
<path d="M184.6,236.7h3.2l-1.6,2.8z" fill="#d0022b"/>
<circle cx="67.5" cy="283.0" r="1.55" fill="#073f80"/>
<circle cx="132.1" cy="286.0" r="1.55" fill="#073f80"/>
<path d="M153.0,238.4h3.2l-1.6,2.8z" fill="#d0022b"/>
<path d="M400.7,250.9h3.2l-1.6,2.8z" fill="#d0022b"/>
<circle cx="137.3" cy="283.3" r="1.55" fill="#073f80"/>
<path d="M130.8,288.0h2.6M132.1,286.7v2.6M131.1,287.0l1.9,1.9M133.0,287.0l-1.9,1.9" stroke="#34b845" stroke-width="0.95"/>
<path d="M199.9,216.0h3.2l-1.6,2.8z" fill="#d0022b"/>
<circle cx="399.6" cy="290.5" r="1.55" fill="#073f80"/>
<path d="M115.2,261.5h3.2l-1.6,2.8z" fill="#d0022b"/>
<path d="M105.5,289.7h2.6M106.8,288.4v2.6M105.9,288.8l1.9,1.9M107.8,288.8l-1.9,1.9" stroke="#34b845" stroke-width="0.95"/>
<circle cx="373.6" cy="314.9" r="1.55" fill="#073f80"/>
<path d="M162.0,258.6h2.6M163.3,257.3v2.6M162.3,257.6l1.9,1.9M164.2,257.6l-1.9,1.9" stroke="#34b845" stroke-width="0.95"/>
<circle cx="132.3" cy="294.3" r="1.55" fill="#073f80"/>
<path d="M402.4,254.1h2.6M403.7,252.8v2.6M402.8,253.2l1.9,1.9M404.7,253.2l-1.9,1.9" stroke="#34b845" stroke-width="0.95"/>
<path d="M410.6,267.3h2.6M411.9,266.0v2.6M410.9,266.4l1.9,1.9M412.8,266.4l-1.9,1.9" stroke="#34b845" stroke-width="0.95"/>
<path d="M391.1,273.5h2.6M392.4,272.2v2.6M391.4,272.5l1.9,1.9M393.3,272.5l-1.9,1.9" stroke="#34b845" stroke-width="0.95"/>
<path d="M416.2,245.7h2.6M417.5,244.4v2.6M416.6,244.8l1.9,1.9M418.5,244.8l-1.9,1.9" stroke="#34b845" stroke-width="0.95"/>
<circle cx="134.4" cy="286.3" r="1.55" fill="#073f80"/>
<path d="M409.4,278.7h2.6M410.7,277.4v2.6M409.8,277.8l1.9,1.9M411.7,277.8l-1.9,1.9" stroke="#34b845" stroke-width="0.95"/>
<path d="M148.7,289.9h2.6M150.0,288.6v2.6M149.0,289.0l1.9,1.9M150.9,289.0l-1.9,1.9" stroke="#34b845" stroke-width="0.95"/>
<path d="M163.9,252.9h3.2l-1.6,2.8z" fill="#d0022b"/>
<path d="M415.4,265.5h2.6M416.7,264.2v2.6M415.8,264.6l1.9,1.9M417.7,264.6l-1.9,1.9" stroke="#34b845" stroke-width="0.95"/>
<path d="M411.9,285.6h3.2l-1.6,2.8z" fill="#d0022b"/>
<path d="M127.4,249.8h3.2l-1.6,2.8z" fill="#d0022b"/>
<path d="M126.1,282.2h3.2l-1.6,2.8z" fill="#d0022b"/>
<path d="M450.3,230.8h3.2l-1.6,2.8z" fill="#d0022b"/>
<path d="M69.5,293.2h2.6M70.8,291.9v2.6M69.8,292.2l1.9,1.9M71.8,292.2l-1.9,1.9" stroke="#34b845" stroke-width="0.95"/>
<path d="M175.7,244.8h2.6M177.0,243.5v2.6M176.1,243.9l1.9,1.9M178.0,243.9l-1.9,1.9" stroke="#34b845" stroke-width="0.95"/>
<path d="M139.5,264.7h2.6M140.8,263.4v2.6M139.9,263.8l1.9,1.9M141.8,263.8l-1.9,1.9" stroke="#34b845" stroke-width="0.95"/>
<path d="M205.2,230.0h3.2l-1.6,2.8z" fill="#d0022b"/>
<path d="M411.6,252.9h2.6M412.9,251.6v2.6M412.0,251.9l1.9,1.9M413.9,251.9l-1.9,1.9" stroke="#34b845" stroke-width="0.95"/>
<path d="M114.7,262.0h3.2l-1.6,2.8z" fill="#d0022b"/>
<circle cx="130.5" cy="290.8" r="1.55" fill="#073f80"/>
<circle cx="157.6" cy="244.0" r="1.55" fill="#073f80"/>
<path d="M185.7,228.0h3.2l-1.6,2.8z" fill="#d0022b"/>
<circle cx="121.7" cy="294.0" r="1.55" fill="#073f80"/>
<path d="M418.5,253.3h2.6M419.8,252.0v2.6M418.9,252.3l1.9,1.9M420.8,252.3l-1.9,1.9" stroke="#34b845" stroke-width="0.95"/>
<circle cx="144.9" cy="249.7" r="1.55" fill="#073f80"/>
<path d="M403.2,285.2h2.6M404.5,283.9v2.6M403.5,284.3l1.9,1.9M405.4,284.3l-1.9,1.9" stroke="#34b845" stroke-width="0.95"/>
<path d="M174.9,215.5h3.2l-1.6,2.8z" fill="#d0022b"/>
<path d="M410.1,267.7h3.2l-1.6,2.8z" fill="#d0022b"/>
<path d="M111.3,271.6h2.6M112.6,270.3v2.6M111.6,270.7l1.9,1.9M113.5,270.7l-1.9,1.9" stroke="#34b845" stroke-width="0.95"/>
<path d="M136.2,271.6h3.2l-1.6,2.8z" fill="#d0022b"/>
<path d="M142.6,287.3h2.6M143.9,286.0v2.6M143.0,286.4l1.9,1.9M144.9,286.4l-1.9,1.9" stroke="#34b845" stroke-width="0.95"/>
<circle cx="143.6" cy="282.1" r="1.55" fill="#073f80"/>
<path d="M132.8,249.0h3.2l-1.6,2.8z" fill="#d0022b"/>
<circle cx="176.6" cy="240.3" r="1.55" fill="#073f80"/>
<path d="M389.9,280.2h2.6M391.2,278.9v2.6M390.3,279.3l1.9,1.9M392.2,279.3l-1.9,1.9" stroke="#34b845" stroke-width="0.95"/>
<path d="M434.9,261.7h2.6M436.2,260.4v2.6M435.3,260.7l1.9,1.9M437.2,260.7l-1.9,1.9" stroke="#34b845" stroke-width="0.95"/>
<circle cx="400.4" cy="259.7" r="1.55" fill="#073f80"/>
<path d="M111.7,269.1h3.2l-1.6,2.8z" fill="#d0022b"/>
<circle cx="140.9" cy="291.6" r="1.55" fill="#073f80"/>
<path d="M66.6,312.3h2.6M67.9,311.0v2.6M67.0,311.4l1.9,1.9M68.9,311.4l-1.9,1.9" stroke="#34b845" stroke-width="0.95"/>
<path d="M143.9,247.0h3.2l-1.6,2.8z" fill="#d0022b"/>
<path d="M134.9,286.9h2.6M136.2,285.6v2.6M135.3,286.0l1.9,1.9M137.2,286.0l-1.9,1.9" stroke="#34b845" stroke-width="0.95"/>
<circle cx="154.4" cy="257.2" r="1.55" fill="#073f80"/>
<path d="M385.1,254.1h3.2l-1.6,2.8z" fill="#d0022b"/>
<path d="M424.5,247.2h2.6M425.8,245.9v2.6M424.9,246.3l1.9,1.9M426.8,246.3l-1.9,1.9" stroke="#34b845" stroke-width="0.95"/>
<path d="M165.3,228.6h3.2l-1.6,2.8z" fill="#d0022b"/>
<circle cx="151.7" cy="255.2" r="1.55" fill="#073f80"/>
<path d="M392.5,245.0h2.6M393.8,243.7v2.6M392.9,244.1l1.9,1.9M394.8,244.1l-1.9,1.9" stroke="#34b845" stroke-width="0.95"/>
<path d="M392.0,288.9h3.2l-1.6,2.8z" fill="#d0022b"/>
<path d="M163.8,255.7h2.6M165.1,254.4v2.6M164.1,254.7l1.9,1.9M166.0,254.7l-1.9,1.9" stroke="#34b845" stroke-width="0.95"/>
<path d="M148.2,260.9h2.6M149.5,259.6v2.6M148.6,260.0l1.9,1.9M150.5,260.0l-1.9,1.9" stroke="#34b845" stroke-width="0.95"/>
<circle cx="131.3" cy="261.8" r="1.55" fill="#073f80"/>
<path d="M399.1,293.4h2.6M400.4,292.1v2.6M399.4,292.5l1.9,1.9M401.3,292.5l-1.9,1.9" stroke="#34b845" stroke-width="0.95"/>
<path d="M151.8,242.2h3.2l-1.6,2.8z" fill="#d0022b"/>
<path d="M151.1,252.8h3.2l-1.6,2.8z" fill="#d0022b"/>
<circle cx="67.5" cy="273.7" r="1.55" fill="#073f80"/>
<circle cx="390.0" cy="253.0" r="1.55" fill="#073f80"/>
<path d="M379.2,314.9h2.6M380.5,313.6v2.6M379.6,313.9l1.9,1.9M381.4,313.9l-1.9,1.9" stroke="#34b845" stroke-width="0.95"/>
<circle cx="402.8" cy="285.8" r="1.55" fill="#073f80"/>
<path d="M110.1,264.0h3.2l-1.6,2.8z" fill="#d0022b"/>
<path d="M140.2,273.0h2.6M141.5,271.7v2.6M140.6,272.0l1.9,1.9M142.5,272.0l-1.9,1.9" stroke="#34b845" stroke-width="0.95"/>
<circle cx="134.2" cy="286.1" r="1.55" fill="#073f80"/>
<path d="M140.8,253.7h3.2l-1.6,2.8z" fill="#d0022b"/>
<circle cx="134.4" cy="275.9" r="1.55" fill="#073f80"/>
<path d="M121.6,291.9h3.2l-1.6,2.8z" fill="#d0022b"/>
<path d="M138.7,248.0h2.6M140.0,246.7v2.6M139.0,247.1l1.9,1.9M140.9,247.1l-1.9,1.9" stroke="#34b845" stroke-width="0.95"/>
<path d="M408.8,262.4h3.2l-1.6,2.8z" fill="#d0022b"/>
<circle cx="154.6" cy="258.4" r="1.55" fill="#073f80"/>
<path d="M392.7,286.2h3.2l-1.6,2.8z" fill="#d0022b"/>
<path d="M390.6,314.9h2.6M391.9,313.6v2.6M390.9,313.9l1.9,1.9M392.8,313.9l-1.9,1.9" stroke="#34b845" stroke-width="0.95"/>
<path d="M159.9,255.9h2.6M161.2,254.6v2.6M160.3,254.9l1.9,1.9M162.2,254.9l-1.9,1.9" stroke="#34b845" stroke-width="0.95"/>
<path d="M166.3,261.8h2.6M167.6,260.5v2.6M166.7,260.8l1.9,1.9M168.6,260.8l-1.9,1.9" stroke="#34b845" stroke-width="0.95"/>
<path d="M65.9,280.0h3.2l-1.6,2.8z" fill="#d0022b"/>
<circle cx="398.5" cy="258.1" r="1.55" fill="#073f80"/>
<circle cx="128.3" cy="275.6" r="1.55" fill="#073f80"/>
<path d="M65.9,291.3h3.2l-1.6,2.8z" fill="#d0022b"/>
<circle cx="136.6" cy="259.6" r="1.55" fill="#073f80"/>
<path d="M147.2,231.9h3.2l-1.6,2.8z" fill="#d0022b"/>
<path d="M414.3,276.2h2.6M415.6,274.9v2.6M414.7,275.3l1.9,1.9M416.6,275.3l-1.9,1.9" stroke="#34b845" stroke-width="0.95"/>
<path d="M413.3,276.9h3.2l-1.6,2.8z" fill="#d0022b"/>
<path d="M392.4,293.9h2.6M393.7,292.6v2.6M392.7,292.9l1.9,1.9M394.6,292.9l-1.9,1.9" stroke="#34b845" stroke-width="0.95"/>
<circle cx="118.3" cy="288.4" r="1.55" fill="#073f80"/>
<path d="M141.0,292.6h2.6M142.3,291.3v2.6M141.4,291.7l1.9,1.9M143.3,291.7l-1.9,1.9" stroke="#34b845" stroke-width="0.95"/>
<circle cx="142.2" cy="269.5" r="1.55" fill="#073f80"/>
<path d="M381.2,265.6h2.6M382.5,264.3v2.6M381.6,264.6l1.9,1.9M383.5,264.6l-1.9,1.9" stroke="#34b845" stroke-width="0.95"/>
<path d="M160.6,269.8h3.2l-1.6,2.8z" fill="#d0022b"/>
<circle cx="141.4" cy="259.0" r="1.55" fill="#073f80"/>
<path d="M161.9,290.3h2.6M163.2,289.0v2.6M162.2,289.3l1.9,1.9M164.1,289.3l-1.9,1.9" stroke="#34b845" stroke-width="0.95"/>
<circle cx="164.2" cy="243.7" r="1.55" fill="#073f80"/>
<path d="M416.6,255.7h3.2l-1.6,2.8z" fill="#d0022b"/>
<path d="M154.1,266.1h2.6M155.4,264.8v2.6M154.4,265.2l1.9,1.9M156.3,265.2l-1.9,1.9" stroke="#34b845" stroke-width="0.95"/>
<path d="M148.5,261.3h2.6M149.8,260.0v2.6M148.8,260.3l1.9,1.9M150.7,260.3l-1.9,1.9" stroke="#34b845" stroke-width="0.95"/>
<circle cx="70.8" cy="283.5" r="1.55" fill="#073f80"/>
<path d="M407.8,284.1h2.6M409.1,282.8v2.6M408.2,283.1l1.9,1.9M410.1,283.1l-1.9,1.9" stroke="#34b845" stroke-width="0.95"/>
<circle cx="97.8" cy="284.8" r="1.55" fill="#073f80"/>
<path d="M381.0,292.6h3.2l-1.6,2.8z" fill="#d0022b"/>
<path d="M401.1,288.8h3.2l-1.6,2.8z" fill="#d0022b"/>
<circle cx="381.9" cy="287.5" r="1.55" fill="#073f80"/>
<path d="M399.3,283.8h3.2l-1.6,2.8z" fill="#d0022b"/>
<circle cx="145.4" cy="292.1" r="1.55" fill="#073f80"/>
<path d="M177.0,251.8h3.2l-1.6,2.8z" fill="#d0022b"/>
<circle cx="134.8" cy="264.9" r="1.55" fill="#073f80"/>
<path d="M130.6,254.9h3.2l-1.6,2.8z" fill="#d0022b"/>
<path d="M391.0,267.4h3.2l-1.6,2.8z" fill="#d0022b"/>
<circle cx="126.2" cy="282.2" r="1.55" fill="#073f80"/>
<path d="M383.7,273.6h2.6M385.0,272.3v2.6M384.1,272.6l1.9,1.9M386.0,272.6l-1.9,1.9" stroke="#34b845" stroke-width="0.95"/>
<circle cx="164.0" cy="237.0" r="1.55" fill="#073f80"/>
<circle cx="119.5" cy="273.9" r="1.55" fill="#073f80"/>
<circle cx="148.8" cy="275.9" r="1.55" fill="#073f80"/>
<path d="M404.9,287.0h3.2l-1.6,2.8z" fill="#d0022b"/>
<circle cx="384.0" cy="283.8" r="1.55" fill="#073f80"/>
<circle cx="147.7" cy="270.3" r="1.55" fill="#073f80"/>
<path d="M69.2,294.0h3.2l-1.6,2.8z" fill="#d0022b"/>
<path d="M129.2,263.6h2.6M130.5,262.3v2.6M129.6,262.6l1.9,1.9M131.5,262.6l-1.9,1.9" stroke="#34b845" stroke-width="0.95"/>
<circle cx="421.9" cy="271.9" r="1.55" fill="#073f80"/>
<path d="M129.4,276.4h2.6M130.7,275.1v2.6M129.8,275.4l1.9,1.9M131.7,275.4l-1.9,1.9" stroke="#34b845" stroke-width="0.95"/>
<path d="M384.1,281.5h3.2l-1.6,2.8z" fill="#d0022b"/>
<path d="M145.3,249.4h3.2l-1.6,2.8z" fill="#d0022b"/>
<path d="M135.0,250.4h3.2l-1.6,2.8z" fill="#d0022b"/>
<path d="M164.6,214.1h3.2l-1.6,2.8z" fill="#d0022b"/>
<path d="M388.5,314.9h2.6M389.8,313.6v2.6M388.9,313.9l1.9,1.9M390.8,313.9l-1.9,1.9" stroke="#34b845" stroke-width="0.95"/>
<circle cx="116.9" cy="293.4" r="1.55" fill="#073f80"/>
<circle cx="119.0" cy="284.1" r="1.55" fill="#073f80"/>
<path d="M321.1,255.3h3.2l-1.6,2.8z" fill="#d0022b"/>
<path d="M156.4,244.4h2.6M157.7,243.1v2.6M156.8,243.5l1.9,1.9M158.7,243.5l-1.9,1.9" stroke="#34b845" stroke-width="0.95"/>
<circle cx="150.7" cy="276.5" r="1.55" fill="#073f80"/>
<path d="M139.2,264.3h2.6M140.5,263.0v2.6M139.5,263.4l1.9,1.9M141.4,263.4l-1.9,1.9" stroke="#34b845" stroke-width="0.95"/>
<circle cx="353.5" cy="314.9" r="1.55" fill="#073f80"/>
<path d="M391.6,291.9h3.2l-1.6,2.8z" fill="#d0022b"/>
<circle cx="410.8" cy="254.0" r="1.55" fill="#073f80"/>
<path d="M66.2,286.8h2.6M67.5,285.5v2.6M66.5,285.9l1.9,1.9M68.5,285.9l-1.9,1.9" stroke="#34b845" stroke-width="0.95"/>
<path d="M405.0,292.6h2.6M406.3,291.3v2.6M405.4,291.6l1.9,1.9M407.3,291.6l-1.9,1.9" stroke="#34b845" stroke-width="0.95"/>
<path d="M423.9,262.9h3.2l-1.6,2.8z" fill="#d0022b"/>
<path d="M403.1,254.2h2.6M404.4,252.9v2.6M403.4,253.3l1.9,1.9M405.3,253.3l-1.9,1.9" stroke="#34b845" stroke-width="0.95"/>
<path d="M65.9,294.6h3.2l-1.6,2.8z" fill="#d0022b"/>
<circle cx="400.8" cy="289.2" r="1.55" fill="#073f80"/>
<path d="M437.1,226.6h3.2l-1.6,2.8z" fill="#d0022b"/>
<path d="M381.4,265.4h3.2l-1.6,2.8z" fill="#d0022b"/>
<path d="M402.3,279.4h3.2l-1.6,2.8z" fill="#d0022b"/>
<circle cx="416.0" cy="257.0" r="1.55" fill="#073f80"/>
<path d="M145.3,271.0h3.2l-1.6,2.8z" fill="#d0022b"/>
<path d="M165.6,262.6h2.6M166.9,261.3v2.6M166.0,261.6l1.9,1.9M167.9,261.6l-1.9,1.9" stroke="#34b845" stroke-width="0.95"/>
<path d="M410.7,249.2h3.2l-1.6,2.8z" fill="#d0022b"/>
<circle cx="326.6" cy="278.0" r="1.55" fill="#073f80"/>
<path d="M150.2,273.3h2.6M151.5,272.0v2.6M150.5,272.4l1.9,1.9M152.4,272.4l-1.9,1.9" stroke="#34b845" stroke-width="0.95"/>
<path d="M394.8,314.9h2.6M396.1,313.6v2.6M395.2,313.9l1.9,1.9M397.1,313.9l-1.9,1.9" stroke="#34b845" stroke-width="0.95"/>
<circle cx="172.3" cy="234.6" r="1.55" fill="#073f80"/>
<path d="M154.1,234.9h3.2l-1.6,2.8z" fill="#d0022b"/>
<path d="M139.4,253.3h3.2l-1.6,2.8z" fill="#d0022b"/>
<path d="M402.5,282.8h3.2l-1.6,2.8z" fill="#d0022b"/>
<path d="M387.9,248.1h2.6M389.2,246.8v2.6M388.3,247.1l1.9,1.9M390.2,247.1l-1.9,1.9" stroke="#34b845" stroke-width="0.95"/>
<circle cx="379.2" cy="255.5" r="1.55" fill="#073f80"/>
<circle cx="122.2" cy="276.4" r="1.55" fill="#073f80"/>
<circle cx="405.8" cy="248.8" r="1.55" fill="#073f80"/>
<circle cx="147.4" cy="292.4" r="1.55" fill="#073f80"/>
<circle cx="417.1" cy="254.5" r="1.55" fill="#073f80"/>
<path d="M383.0,235.0h2.6M384.3,233.7v2.6M383.4,234.1l1.9,1.9M385.3,234.1l-1.9,1.9" stroke="#34b845" stroke-width="0.95"/>
<path d="M122.6,259.4h3.2l-1.6,2.8z" fill="#d0022b"/>
<circle cx="136.5" cy="261.7" r="1.55" fill="#073f80"/>
<circle cx="132.1" cy="263.6" r="1.55" fill="#073f80"/>
<path d="M199.0,231.9h3.2l-1.6,2.8z" fill="#d0022b"/>
<circle cx="412.2" cy="265.4" r="1.55" fill="#073f80"/>
<circle cx="175.7" cy="252.8" r="1.55" fill="#073f80"/>
<circle cx="149.3" cy="248.0" r="1.55" fill="#073f80"/>
<circle cx="127.2" cy="295.0" r="1.55" fill="#073f80"/>
<circle cx="114.5" cy="284.4" r="1.55" fill="#073f80"/>
<path d="M142.1,270.7h2.6M143.4,269.4v2.6M142.4,269.8l1.9,1.9M144.3,269.8l-1.9,1.9" stroke="#34b845" stroke-width="0.95"/>
<path d="M438.6,230.8h3.2l-1.6,2.8z" fill="#d0022b"/>
<circle cx="181.0" cy="236.0" r="1.55" fill="#073f80"/>
<path d="M159.7,281.7h2.6M161.0,280.4v2.6M160.1,280.8l1.9,1.9M162.0,280.8l-1.9,1.9" stroke="#34b845" stroke-width="0.95"/>
<path d="M418.4,269.9h2.6M419.7,268.6v2.6M418.7,269.0l1.9,1.9M420.6,269.0l-1.9,1.9" stroke="#34b845" stroke-width="0.95"/>
<path d="M131.0,283.7h2.6M132.3,282.4v2.6M131.3,282.8l1.9,1.9M133.2,282.8l-1.9,1.9" stroke="#34b845" stroke-width="0.95"/>
<path d="M178.9,248.7h3.2l-1.6,2.8z" fill="#d0022b"/>
<path d="M170.3,248.9h2.6M171.6,247.6v2.6M170.6,247.9l1.9,1.9M172.5,247.9l-1.9,1.9" stroke="#34b845" stroke-width="0.95"/>
<path d="M429.3,254.6h2.6M430.6,253.3v2.6M429.7,253.6l1.9,1.9M431.6,253.6l-1.9,1.9" stroke="#34b845" stroke-width="0.95"/>
<path d="M177.5,236.5h2.6M178.8,235.2v2.6M177.8,235.6l1.9,1.9M179.7,235.6l-1.9,1.9" stroke="#34b845" stroke-width="0.95"/>
<circle cx="145.4" cy="287.1" r="1.55" fill="#073f80"/>
<path d="M387.9,286.8h3.2l-1.6,2.8z" fill="#d0022b"/>
<path d="M144.2,240.3h2.6M145.5,239.0v2.6M144.5,239.4l1.9,1.9M146.4,239.4l-1.9,1.9" stroke="#34b845" stroke-width="0.95"/>
<path d="M132.1,265.9h3.2l-1.6,2.8z" fill="#d0022b"/>
<path d="M183.1,221.3h3.2l-1.6,2.8z" fill="#d0022b"/>
<circle cx="123.9" cy="268.6" r="1.55" fill="#073f80"/>
<path d="M128.4,254.8h3.2l-1.6,2.8z" fill="#d0022b"/>
<path d="M152.6,235.5h3.2l-1.6,2.8z" fill="#d0022b"/>
<path d="M414.9,254.3h3.2l-1.6,2.8z" fill="#d0022b"/>
<path d="M66.2,275.3h2.6M67.5,274.0v2.6M66.5,274.4l1.9,1.9M68.5,274.4l-1.9,1.9" stroke="#34b845" stroke-width="0.95"/>
<path d="M124.0,292.6h2.6M125.3,291.3v2.6M124.3,291.6l1.9,1.9M126.2,291.6l-1.9,1.9" stroke="#34b845" stroke-width="0.95"/>
<path d="M418.2,228.4h3.2l-1.6,2.8z" fill="#d0022b"/>
<path d="M418.1,271.1h3.2l-1.6,2.8z" fill="#d0022b"/>
<path d="M151.7,278.4h2.6M153.0,277.1v2.6M152.1,277.5l1.9,1.9M154.0,277.5l-1.9,1.9" stroke="#34b845" stroke-width="0.95"/>
<path d="M176.9,232.7h2.6M178.2,231.4v2.6M177.3,231.8l1.9,1.9M179.2,231.8l-1.9,1.9" stroke="#34b845" stroke-width="0.95"/>
<circle cx="421.4" cy="280.2" r="1.55" fill="#073f80"/>
<path d="M379.0,268.3h3.2l-1.6,2.8z" fill="#d0022b"/>
<path d="M163.4,265.6h3.2l-1.6,2.8z" fill="#d0022b"/>
<circle cx="326.4" cy="224.6" r="1.55" fill="#073f80"/>
<path d="M149.4,249.7h2.6M150.7,248.4v2.6M149.7,248.7l1.9,1.9M151.6,248.7l-1.9,1.9" stroke="#34b845" stroke-width="0.95"/>
<circle cx="361.5" cy="273.2" r="1.55" fill="#073f80"/>
<path d="M448.4,252.3h3.2l-1.6,2.8z" fill="#d0022b"/>
<circle cx="118.2" cy="295.8" r="1.55" fill="#073f80"/>
<path d="M159.1,251.2h2.6M160.4,249.9v2.6M159.4,250.2l1.9,1.9M161.3,250.2l-1.9,1.9" stroke="#34b845" stroke-width="0.95"/>
<path d="M119.9,311.3h3.2l-1.6,2.8z" fill="#d0022b"/>
<path d="M164.4,256.4h3.2l-1.6,2.8z" fill="#d0022b"/>
<circle cx="322.7" cy="283.0" r="1.55" fill="#073f80"/>
<circle cx="154.1" cy="277.6" r="1.55" fill="#073f80"/>
<path d="M396.4,256.9h3.2l-1.6,2.8z" fill="#d0022b"/>
<path d="M406.9,258.8h2.6M408.2,257.5v2.6M407.2,257.8l1.9,1.9M409.1,257.8l-1.9,1.9" stroke="#34b845" stroke-width="0.95"/>
<circle cx="70.8" cy="273.7" r="1.55" fill="#073f80"/>
<circle cx="159.4" cy="272.0" r="1.55" fill="#073f80"/>
<path d="M159.5,249.0h2.6M160.8,247.7v2.6M159.9,248.0l1.9,1.9M161.8,248.0l-1.9,1.9" stroke="#34b845" stroke-width="0.95"/>
<path d="M379.9,255.5h3.2l-1.6,2.8z" fill="#d0022b"/>
<path d="M154.2,248.0h2.6M155.5,246.7v2.6M154.6,247.1l1.9,1.9M156.5,247.1l-1.9,1.9" stroke="#34b845" stroke-width="0.95"/>
<path d="M196.6,233.8h3.2l-1.6,2.8z" fill="#d0022b"/>
<circle cx="154.6" cy="256.6" r="1.55" fill="#073f80"/>
<circle cx="171.8" cy="249.0" r="1.55" fill="#073f80"/>
<path d="M148.5,251.8h2.6M149.8,250.5v2.6M148.8,250.9l1.9,1.9M150.7,250.9l-1.9,1.9" stroke="#34b845" stroke-width="0.95"/>
<circle cx="149.3" cy="244.6" r="1.55" fill="#073f80"/>
<path d="M418.2,240.2h3.2l-1.6,2.8z" fill="#d0022b"/>
<circle cx="170.4" cy="258.1" r="1.55" fill="#073f80"/>
<path d="M166.7,233.6h2.6M168.0,232.3v2.6M167.1,232.7l1.9,1.9M169.0,232.7l-1.9,1.9" stroke="#34b845" stroke-width="0.95"/>
<path d="M395.1,282.0h2.6M396.4,280.7v2.6M395.5,281.0l1.9,1.9M397.4,281.0l-1.9,1.9" stroke="#34b845" stroke-width="0.95"/>
<path d="M138.3,284.7h2.6M139.6,283.4v2.6M138.7,283.8l1.9,1.9M140.6,283.8l-1.9,1.9" stroke="#34b845" stroke-width="0.95"/>
<path d="M120.6,274.2h2.6M121.9,272.9v2.6M120.9,273.2l1.9,1.9M122.8,273.2l-1.9,1.9" stroke="#34b845" stroke-width="0.95"/>
<circle cx="187.8" cy="268.9" r="1.55" fill="#073f80"/>
<path d="M132.2,256.6h3.2l-1.6,2.8z" fill="#d0022b"/>
<path d="M125.7,294.7h2.6M127.0,293.4v2.6M126.0,293.7l1.9,1.9M127.9,293.7l-1.9,1.9" stroke="#34b845" stroke-width="0.95"/>
<path d="M143.7,241.0h3.2l-1.6,2.8z" fill="#d0022b"/>
<circle cx="158.1" cy="271.0" r="1.55" fill="#073f80"/>
<path d="M438.6,239.9h3.2l-1.6,2.8z" fill="#d0022b"/>
<path d="M149.4,275.3h3.2l-1.6,2.8z" fill="#d0022b"/>
<circle cx="157.4" cy="254.4" r="1.55" fill="#073f80"/>
<circle cx="403.0" cy="314.9" r="1.55" fill="#073f80"/>
<path d="M168.7,257.7h2.6M170.0,256.4v2.6M169.1,256.7l1.9,1.9M171.0,256.7l-1.9,1.9" stroke="#34b845" stroke-width="0.95"/>
<circle cx="389.1" cy="285.6" r="1.55" fill="#073f80"/>
<circle cx="377.3" cy="314.9" r="1.55" fill="#073f80"/>
<path d="M144.5,276.1h2.6M145.8,274.8v2.6M144.8,275.2l1.9,1.9M146.7,275.2l-1.9,1.9" stroke="#34b845" stroke-width="0.95"/>
<path d="M192.2,229.8h3.2l-1.6,2.8z" fill="#d0022b"/>
<path d="M116.1,282.8h3.2l-1.6,2.8z" fill="#d0022b"/>
<path d="M138.4,270.0h2.6M139.7,268.7v2.6M138.7,269.0l1.9,1.9M140.6,269.0l-1.9,1.9" stroke="#34b845" stroke-width="0.95"/>
<circle cx="157.6" cy="264.1" r="1.55" fill="#073f80"/>
<circle cx="389.3" cy="286.9" r="1.55" fill="#073f80"/>
<path d="M409.4,263.3h3.2l-1.6,2.8z" fill="#d0022b"/>
<path d="M404.0,260.3h2.6M405.3,259.0v2.6M404.4,259.3l1.9,1.9M406.3,259.3l-1.9,1.9" stroke="#34b845" stroke-width="0.95"/>
<circle cx="153.7" cy="257.5" r="1.55" fill="#073f80"/>
<path d="M395.4,251.8h2.6M396.7,250.5v2.6M395.7,250.8l1.9,1.9M397.6,250.8l-1.9,1.9" stroke="#34b845" stroke-width="0.95"/>
<path d="M153.0,257.1h3.2l-1.6,2.8z" fill="#d0022b"/>
<path d="M379.9,277.0h3.2l-1.6,2.8z" fill="#d0022b"/>
<path d="M138.1,271.7h2.6M139.4,270.4v2.6M138.5,270.8l1.9,1.9M140.4,270.8l-1.9,1.9" stroke="#34b845" stroke-width="0.95"/>
<circle cx="133.2" cy="266.8" r="1.55" fill="#073f80"/>
<circle cx="382.5" cy="287.9" r="1.55" fill="#073f80"/>
<path d="M129.0,273.0h2.6M130.3,271.7v2.6M129.3,272.1l1.9,1.9M131.2,272.1l-1.9,1.9" stroke="#34b845" stroke-width="0.95"/>
<path d="M393.8,272.0h3.2l-1.6,2.8z" fill="#d0022b"/>
<circle cx="173.8" cy="250.9" r="1.55" fill="#073f80"/>
<path d="M391.8,251.9h2.6M393.1,250.6v2.6M392.1,251.0l1.9,1.9M394.0,251.0l-1.9,1.9" stroke="#34b845" stroke-width="0.95"/>
<path d="M117.5,258.0h3.2l-1.6,2.8z" fill="#d0022b"/>
<path d="M419.2,276.7h2.6M420.5,275.4v2.6M419.6,275.8l1.9,1.9M421.5,275.8l-1.9,1.9" stroke="#34b845" stroke-width="0.95"/>
<circle cx="181.8" cy="231.1" r="1.55" fill="#073f80"/>
<path d="M155.7,229.9h3.2l-1.6,2.8z" fill="#d0022b"/>
<path d="M65.9,266.5h3.2l-1.6,2.8z" fill="#d0022b"/>
<path d="M140.9,255.2h3.2l-1.6,2.8z" fill="#d0022b"/>
<circle cx="407.3" cy="266.4" r="1.55" fill="#073f80"/>
<path d="M164.8,258.1h2.6M166.1,256.8v2.6M165.1,257.1l1.9,1.9M167.0,257.1l-1.9,1.9" stroke="#34b845" stroke-width="0.95"/>
<path d="M152.0,234.6h3.2l-1.6,2.8z" fill="#d0022b"/>
<path d="M399.5,289.0h3.2l-1.6,2.8z" fill="#d0022b"/>
<path d="M181.7,210.2h3.2l-1.6,2.8z" fill="#d0022b"/>
<path d="M175.7,247.5h2.6M177.0,246.2v2.6M176.1,246.6l1.9,1.9M178.0,246.6l-1.9,1.9" stroke="#34b845" stroke-width="0.95"/>
<path d="M117.8,260.2h3.2l-1.6,2.8z" fill="#d0022b"/>
<circle cx="402.0" cy="268.5" r="1.55" fill="#073f80"/>
<circle cx="155.7" cy="258.9" r="1.55" fill="#073f80"/>
<path d="M135.1,246.7h3.2l-1.6,2.8z" fill="#d0022b"/>
<circle cx="202.3" cy="235.6" r="1.55" fill="#073f80"/>
<path d="M415.8,278.5h3.2l-1.6,2.8z" fill="#d0022b"/>
<path d="M368.3,271.5h3.2l-1.6,2.8z" fill="#d0022b"/>
<path d="M183.6,229.2h3.2l-1.6,2.8z" fill="#d0022b"/>
<circle cx="145.2" cy="285.0" r="1.55" fill="#073f80"/>
<path d="M404.3,268.2h3.2l-1.6,2.8z" fill="#d0022b"/>
<path d="M178.2,229.1h2.6M179.5,227.8v2.6M178.6,228.1l1.9,1.9M180.5,228.1l-1.9,1.9" stroke="#34b845" stroke-width="0.95"/>
<path d="M393.4,270.6h2.6M394.7,269.3v2.6M393.7,269.6l1.9,1.9M395.6,269.6l-1.9,1.9" stroke="#34b845" stroke-width="0.95"/>
<circle cx="439.3" cy="248.8" r="1.55" fill="#073f80"/>
<circle cx="322.7" cy="314.9" r="1.55" fill="#073f80"/>
<path d="M137.3,267.6h2.6M138.6,266.3v2.6M137.6,266.7l1.9,1.9M139.5,266.7l-1.9,1.9" stroke="#34b845" stroke-width="0.95"/>
<path d="M158.9,276.3h3.2l-1.6,2.8z" fill="#d0022b"/>
<path d="M439.8,223.3h3.2l-1.6,2.8z" fill="#d0022b"/>
<path d="M176.2,229.7h2.6M177.5,228.4v2.6M176.5,228.8l1.9,1.9M178.4,228.8l-1.9,1.9" stroke="#34b845" stroke-width="0.95"/>
<path d="M142.2,246.5h3.2l-1.6,2.8z" fill="#d0022b"/>
<circle cx="141.4" cy="250.8" r="1.55" fill="#073f80"/>
<path d="M142.4,253.2h2.6M143.7,251.9v2.6M142.7,252.2l1.9,1.9M144.6,252.2l-1.9,1.9" stroke="#34b845" stroke-width="0.95"/>
<path d="M167.8,245.7h3.2l-1.6,2.8z" fill="#d0022b"/>
<path d="M141.0,291.6h3.2l-1.6,2.8z" fill="#d0022b"/>
<path d="M121.5,265.9h3.2l-1.6,2.8z" fill="#d0022b"/>
<path d="M419.7,314.9h2.6M421.0,313.6v2.6M420.1,313.9l1.9,1.9M421.9,313.9l-1.9,1.9" stroke="#34b845" stroke-width="0.95"/>
<path d="M158.0,250.0h3.2l-1.6,2.8z" fill="#d0022b"/>
<circle cx="154.5" cy="257.5" r="1.55" fill="#073f80"/>
<circle cx="177.4" cy="232.9" r="1.55" fill="#073f80"/>
<path d="M374.4,314.9h2.6M375.7,313.6v2.6M374.8,313.9l1.9,1.9M376.6,313.9l-1.9,1.9" stroke="#34b845" stroke-width="0.95"/>
<path d="M142.8,250.6h3.2l-1.6,2.8z" fill="#d0022b"/>
<path d="M132.0,255.2h2.6M133.3,253.9v2.6M132.3,254.3l1.9,1.9M134.2,254.3l-1.9,1.9" stroke="#34b845" stroke-width="0.95"/>
<circle cx="166.6" cy="240.3" r="1.55" fill="#073f80"/>
<path d="M139.8,237.9h3.2l-1.6,2.8z" fill="#d0022b"/>
<path d="M147.5,258.6h2.6M148.8,257.3v2.6M147.9,257.6l1.9,1.9M149.8,257.6l-1.9,1.9" stroke="#34b845" stroke-width="0.95"/>
<path d="M155.2,252.0h2.6M156.5,250.7v2.6M155.6,251.0l1.9,1.9M157.5,251.0l-1.9,1.9" stroke="#34b845" stroke-width="0.95"/>
<circle cx="350.5" cy="266.8" r="1.55" fill="#073f80"/>
<path d="M337.6,267.7h2.6M338.9,266.4v2.6M337.9,266.8l1.9,1.9M339.8,266.8l-1.9,1.9" stroke="#34b845" stroke-width="0.95"/>
<path d="M457.9,219.8h3.2l-1.6,2.8z" fill="#d0022b"/>
<path d="M406.5,282.7h2.6M407.8,281.4v2.6M406.9,281.8l1.9,1.9M408.8,281.8l-1.9,1.9" stroke="#34b845" stroke-width="0.95"/>
<path d="M163.5,262.9h3.2l-1.6,2.8z" fill="#d0022b"/>
<circle cx="70.8" cy="275.3" r="1.55" fill="#073f80"/>
<path d="M169.3,240.8h3.2l-1.6,2.8z" fill="#d0022b"/>
<path d="M171.5,241.3h2.6M172.8,240.0v2.6M171.9,240.3l1.9,1.9M173.8,240.3l-1.9,1.9" stroke="#34b845" stroke-width="0.95"/>
<path d="M161.9,256.6h2.6M163.2,255.3v2.6M162.3,255.7l1.9,1.9M164.2,255.7l-1.9,1.9" stroke="#34b845" stroke-width="0.95"/>
<path d="M171.1,218.9h3.2l-1.6,2.8z" fill="#d0022b"/>
<path d="M134.7,264.7h2.6M136.0,263.4v2.6M135.0,263.8l1.9,1.9M136.9,263.8l-1.9,1.9" stroke="#34b845" stroke-width="0.95"/>
<path d="M136.6,251.9h3.2l-1.6,2.8z" fill="#d0022b"/>
<path d="M421.8,268.1h2.6M423.1,266.8v2.6M422.1,267.2l1.9,1.9M424.0,267.2l-1.9,1.9" stroke="#34b845" stroke-width="0.95"/>
<path d="M404.2,273.4h3.2l-1.6,2.8z" fill="#d0022b"/>
<path d="M164.6,250.7h2.6M165.9,249.4v2.6M164.9,249.8l1.9,1.9M166.8,249.8l-1.9,1.9" stroke="#34b845" stroke-width="0.95"/>
<circle cx="149.8" cy="257.8" r="1.55" fill="#073f80"/>
<circle cx="170.2" cy="234.2" r="1.55" fill="#073f80"/>
<circle cx="139.9" cy="269.9" r="1.55" fill="#073f80"/>
<path d="M117.4,285.7h3.2l-1.6,2.8z" fill="#d0022b"/>
<path d="M406.4,249.6h2.6M407.7,248.3v2.6M406.7,248.7l1.9,1.9M408.6,248.7l-1.9,1.9" stroke="#34b845" stroke-width="0.95"/>
<path d="M81.6,293.5h2.6M82.9,292.2v2.6M82.0,292.5l1.9,1.9M83.9,292.5l-1.9,1.9" stroke="#34b845" stroke-width="0.95"/>
<circle cx="129.8" cy="312.6" r="1.55" fill="#073f80"/>
<path d="M130.0,275.7h3.2l-1.6,2.8z" fill="#d0022b"/>
<circle cx="105.2" cy="274.9" r="1.55" fill="#073f80"/>
<path d="M376.5,288.4h2.6M377.8,287.1v2.6M376.8,287.5l1.9,1.9M378.7,287.5l-1.9,1.9" stroke="#34b845" stroke-width="0.95"/>
<path d="M117.7,258.4h3.2l-1.6,2.8z" fill="#d0022b"/>
<path d="M417.5,272.4h2.6M418.8,271.1v2.6M417.9,271.5l1.9,1.9M419.8,271.5l-1.9,1.9" stroke="#34b845" stroke-width="0.95"/>
<path d="M398.4,271.5h2.6M399.7,270.2v2.6M398.8,270.6l1.9,1.9M400.7,270.6l-1.9,1.9" stroke="#34b845" stroke-width="0.95"/>
<circle cx="95.3" cy="280.3" r="1.55" fill="#073f80"/>
<circle cx="67.5" cy="290.1" r="1.55" fill="#073f80"/>
<path d="M365.1,313.9h3.2l-1.6,2.8z" fill="#d0022b"/>
<path d="M133.6,262.4h3.2l-1.6,2.8z" fill="#d0022b"/>
<circle cx="132.9" cy="294.9" r="1.55" fill="#073f80"/>
<path d="M422.2,271.3h3.2l-1.6,2.8z" fill="#d0022b"/>
<path d="M384.2,288.2h3.2l-1.6,2.8z" fill="#d0022b"/>
<path d="M417.7,257.0h3.2l-1.6,2.8z" fill="#d0022b"/>
<circle cx="154.7" cy="283.3" r="1.55" fill="#073f80"/>
<path d="M124.0,253.7h3.2l-1.6,2.8z" fill="#d0022b"/>
<path d="M129.6,283.0h3.2l-1.6,2.8z" fill="#d0022b"/>
<path d="M421.7,273.2h2.6M423.0,271.9v2.6M422.1,272.2l1.9,1.9M424.0,272.2l-1.9,1.9" stroke="#34b845" stroke-width="0.95"/>
<path d="M190.3,216.5h3.2l-1.6,2.8z" fill="#d0022b"/>
<path d="M459.7,250.0h3.2l-1.6,2.8z" fill="#d0022b"/>
<circle cx="404.7" cy="267.4" r="1.55" fill="#073f80"/>
<circle cx="120.8" cy="289.0" r="1.55" fill="#073f80"/>
<circle cx="379.6" cy="273.6" r="1.55" fill="#073f80"/>
<circle cx="173.8" cy="230.3" r="1.55" fill="#073f80"/>
<path d="M168.6,252.8h2.6M169.9,251.5v2.6M169.0,251.9l1.9,1.9M170.9,251.9l-1.9,1.9" stroke="#34b845" stroke-width="0.95"/>
<path d="M397.3,271.6h2.6M398.6,270.3v2.6M397.6,270.7l1.9,1.9M399.5,270.7l-1.9,1.9" stroke="#34b845" stroke-width="0.95"/>
<path d="M400.6,265.6h3.2l-1.6,2.8z" fill="#d0022b"/>
<path d="M388.7,288.3h3.2l-1.6,2.8z" fill="#d0022b"/>
<circle cx="398.3" cy="260.2" r="1.55" fill="#073f80"/>
<path d="M107.7,268.6h3.2l-1.6,2.8z" fill="#d0022b"/>
<path d="M404.2,264.0h2.6M405.5,262.7v2.6M404.6,263.1l1.9,1.9M406.5,263.1l-1.9,1.9" stroke="#34b845" stroke-width="0.95"/>
<path d="M130.1,244.9h2.6M131.4,243.6v2.6M130.4,244.0l1.9,1.9M132.3,244.0l-1.9,1.9" stroke="#34b845" stroke-width="0.95"/>
<path d="M161.0,244.2h2.6M162.3,242.9v2.6M161.3,243.2l1.9,1.9M163.2,243.2l-1.9,1.9" stroke="#34b845" stroke-width="0.95"/>
<path d="M192.1,210.7h3.2l-1.6,2.8z" fill="#d0022b"/>
<path d="M394.3,289.6h2.6M395.6,288.3v2.6M394.7,288.7l1.9,1.9M396.6,288.7l-1.9,1.9" stroke="#34b845" stroke-width="0.95"/>
<circle cx="382.9" cy="271.4" r="1.55" fill="#073f80"/>
<path d="M65.9,270.0h3.2l-1.6,2.8z" fill="#d0022b"/>
<path d="M181.2,240.4h2.6M182.5,239.1v2.6M181.6,239.5l1.9,1.9M183.5,239.5l-1.9,1.9" stroke="#34b845" stroke-width="0.95"/>
<circle cx="422.0" cy="265.4" r="1.55" fill="#073f80"/>
<circle cx="127.7" cy="269.3" r="1.55" fill="#073f80"/>
<circle cx="388.6" cy="266.3" r="1.55" fill="#073f80"/>
<circle cx="121.9" cy="272.3" r="1.55" fill="#073f80"/>
<path d="M123.5,270.2h2.6M124.8,268.9v2.6M123.9,269.3l1.9,1.9M125.8,269.3l-1.9,1.9" stroke="#34b845" stroke-width="0.95"/>
<path d="M158.7,284.4h2.6M160.0,283.1v2.6M159.0,283.5l1.9,1.9M160.9,283.5l-1.9,1.9" stroke="#34b845" stroke-width="0.95"/>
<path d="M66.2,250.7h2.6M67.5,249.4v2.6M66.5,249.8l1.9,1.9M68.5,249.8l-1.9,1.9" stroke="#34b845" stroke-width="0.95"/>
<path d="M411.6,271.4h3.2l-1.6,2.8z" fill="#d0022b"/>
<path d="M177.6,211.9h2.6M178.9,210.6v2.6M178.0,211.0l1.9,1.9M179.9,211.0l-1.9,1.9" stroke="#34b845" stroke-width="0.95"/>
<circle cx="418.1" cy="275.6" r="1.55" fill="#073f80"/>
<path d="M162.4,245.5h3.2l-1.6,2.8z" fill="#d0022b"/>
<path d="M150.1,240.8h3.2l-1.6,2.8z" fill="#d0022b"/>
<path d="M139.6,284.2h2.6M140.9,282.9v2.6M139.9,283.3l1.9,1.9M141.8,283.3l-1.9,1.9" stroke="#34b845" stroke-width="0.95"/>
<path d="M370.0,287.6h3.2l-1.6,2.8z" fill="#d0022b"/>
<circle cx="383.9" cy="258.7" r="1.55" fill="#073f80"/>
<path d="M383.2,290.1h2.6M384.5,288.8v2.6M383.6,289.2l1.9,1.9M385.5,289.2l-1.9,1.9" stroke="#34b845" stroke-width="0.95"/>
<path d="M171.2,238.9h3.2l-1.6,2.8z" fill="#d0022b"/>
<path d="M139.6,273.5h2.6M140.9,272.2v2.6M140.0,272.5l1.9,1.9M141.9,272.5l-1.9,1.9" stroke="#34b845" stroke-width="0.95"/>
<path d="M155.8,276.9h3.2l-1.6,2.8z" fill="#d0022b"/>
<path d="M418.5,245.4h2.6M419.8,244.1v2.6M418.9,244.5l1.9,1.9M420.8,244.5l-1.9,1.9" stroke="#34b845" stroke-width="0.95"/>
<path d="M161.6,248.9h3.2l-1.6,2.8z" fill="#d0022b"/>
<circle cx="379.1" cy="276.6" r="1.55" fill="#073f80"/>
<path d="M168.5,228.0h3.2l-1.6,2.8z" fill="#d0022b"/>
<path d="M159.9,219.6h3.2l-1.6,2.8z" fill="#d0022b"/>
<circle cx="399.7" cy="286.0" r="1.55" fill="#073f80"/>
<path d="M198.1,284.3h3.2l-1.6,2.8z" fill="#d0022b"/>
<circle cx="170.6" cy="249.8" r="1.55" fill="#073f80"/>
<path d="M175.5,228.8h3.2l-1.6,2.8z" fill="#d0022b"/>
<path d="M159.6,249.6h3.2l-1.6,2.8z" fill="#d0022b"/>
<path d="M407.4,255.8h2.6M408.7,254.5v2.6M407.7,254.9l1.9,1.9M409.6,254.9l-1.9,1.9" stroke="#34b845" stroke-width="0.95"/>
<path d="M425.0,239.0h3.2l-1.6,2.8z" fill="#d0022b"/>
<path d="M182.2,215.1h3.2l-1.6,2.8z" fill="#d0022b"/>
<circle cx="139.4" cy="285.1" r="1.55" fill="#073f80"/>
<path d="M130.3,271.9h2.6M131.6,270.6v2.6M130.6,271.0l1.9,1.9M132.5,271.0l-1.9,1.9" stroke="#34b845" stroke-width="0.95"/>
<circle cx="156.5" cy="247.1" r="1.55" fill="#073f80"/>
<path d="M431.0,220.3h3.2l-1.6,2.8z" fill="#d0022b"/>
<path d="M424.4,260.9h2.6M425.7,259.6v2.6M424.8,260.0l1.9,1.9M426.7,260.0l-1.9,1.9" stroke="#34b845" stroke-width="0.95"/>
<circle cx="401.6" cy="274.4" r="1.55" fill="#073f80"/>
<path d="M164.2,248.7h2.6M165.5,247.4v2.6M164.6,247.7l1.9,1.9M166.5,247.7l-1.9,1.9" stroke="#34b845" stroke-width="0.95"/>
<path d="M162.5,251.3h2.6M163.8,250.0v2.6M162.9,250.4l1.9,1.9M164.8,250.4l-1.9,1.9" stroke="#34b845" stroke-width="0.95"/>
<circle cx="421.3" cy="246.8" r="1.55" fill="#073f80"/>
<path d="M416.8,266.3h3.2l-1.6,2.8z" fill="#d0022b"/>
<path d="M382.5,287.5h3.2l-1.6,2.8z" fill="#d0022b"/>
<path d="M159.0,258.7h3.2l-1.6,2.8z" fill="#d0022b"/>
<path d="M425.0,236.7h2.6M426.3,235.4v2.6M425.3,235.7l1.9,1.9M427.2,235.7l-1.9,1.9" stroke="#34b845" stroke-width="0.95"/>
<path d="M137.3,267.9h2.6M138.6,266.6v2.6M137.7,266.9l1.9,1.9M139.6,266.9l-1.9,1.9" stroke="#34b845" stroke-width="0.95"/>
<path d="M382.8,271.1h3.2l-1.6,2.8z" fill="#d0022b"/>
<path d="M143.9,256.6h3.2l-1.6,2.8z" fill="#d0022b"/>
<circle cx="395.0" cy="258.7" r="1.55" fill="#073f80"/>
<circle cx="157.5" cy="258.1" r="1.55" fill="#073f80"/>
<path d="M408.6,314.9h2.6M409.9,313.6v2.6M408.9,313.9l1.9,1.9M410.8,313.9l-1.9,1.9" stroke="#34b845" stroke-width="0.95"/>
<circle cx="417.5" cy="267.9" r="1.55" fill="#073f80"/>
<path d="M409.2,259.1h3.2l-1.6,2.8z" fill="#d0022b"/>
<path d="M379.9,279.1h2.6M381.2,277.8v2.6M380.2,278.1l1.9,1.9M382.1,278.1l-1.9,1.9" stroke="#34b845" stroke-width="0.95"/>
<path d="M413.3,314.9h2.6M414.6,313.6v2.6M413.7,313.9l1.9,1.9M415.6,313.9l-1.9,1.9" stroke="#34b845" stroke-width="0.95"/>
<path d="M134.4,255.7h3.2l-1.6,2.8z" fill="#d0022b"/>
<path d="M160.7,249.0h2.6M162.0,247.7v2.6M161.0,248.0l1.9,1.9M162.9,248.0l-1.9,1.9" stroke="#34b845" stroke-width="0.95"/>
<path d="M386.4,288.2h3.2l-1.6,2.8z" fill="#d0022b"/>
<path d="M142.3,290.7h2.6M143.6,289.4v2.6M142.6,289.7l1.9,1.9M144.5,289.7l-1.9,1.9" stroke="#34b845" stroke-width="0.95"/>
<circle cx="67.5" cy="260.5" r="1.55" fill="#073f80"/>
</svg></body></html>
